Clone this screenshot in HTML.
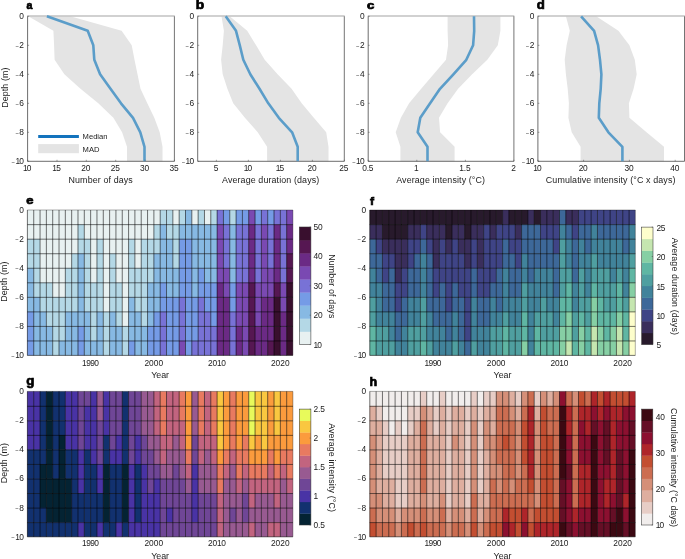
<!DOCTYPE html>
<html lang="en"><head><meta charset="utf-8"><title>Marine heatwave metrics by depth</title>
<style>html,body{margin:0;padding:0;background:#fff;}body{width:685px;height:559px;overflow:hidden;}svg{display:block;}svg text{font-family:'Liberation Sans', sans-serif;fill:#222222;}svg text.pl{fill:#000;stroke:#000;stroke-width:0.7px;}</style></head><body>
<svg width="685" height="559" viewBox="0 0 685 559" role="img" aria-label="Marine heatwave metrics by depth and year">
<rect width="685" height="559" fill="#fff"/>
<g class="panel" id="panel-a">
<polygon fill="#e4e4e4" points="28.2,16.3 53.4,30.8 54.1,45.3 54.6,59.8 64.4,74.3 80.5,88.8 98.3,103.3 113.4,117.8 122.1,132.3 127.0,146.8 127.0,161.3 162.5,161.3 162.5,146.8 159.7,132.3 154.3,117.8 147.3,103.3 140.5,88.8 137.5,74.3 134.5,59.8 131.7,45.3 121.6,30.8 70.2,16.3"/>
<line x1="27.2" y1="16.0" x2="174.8" y2="16.0" stroke="#c2c2c2" stroke-width="1.3"/>
<line x1="174.4" y1="16.3" x2="174.4" y2="161.3" stroke="#505050" stroke-width="0.8"/>
<line x1="27.6" y1="16.3" x2="27.6" y2="161.3" stroke="#484848" stroke-width="0.8"/>
<line x1="27.6" y1="161.3" x2="174.4" y2="161.3" stroke="#484848" stroke-width="0.8"/>
<polyline fill="none" stroke="#5b9dc9" stroke-width="2.6" stroke-linejoin="round" points="46.9,16.3 87.7,30.8 93.3,45.3 94.3,59.8 100.1,74.3 110.5,88.8 121.0,103.3 133.0,117.8 140.3,132.3 144.5,146.8 144.5,161.3"/>
<line x1="27.6" y1="16.3" x2="29.1" y2="16.3" stroke="#484848" stroke-width="0.5"/>
<text x="24.00" y="19.00" font-size="8.4" text-anchor="end" >0</text>
<line x1="27.6" y1="45.3" x2="29.1" y2="45.3" stroke="#484848" stroke-width="0.5"/>
<text x="23.80" y="48.00" font-size="8.4" text-anchor="end" letter-spacing="-0.2"><tspan font-size="5.9" dy="-0.5" letter-spacing="0.5">−</tspan><tspan dy="0.5">2</tspan></text>
<line x1="27.6" y1="74.3" x2="29.1" y2="74.3" stroke="#484848" stroke-width="0.5"/>
<text x="23.80" y="77.00" font-size="8.4" text-anchor="end" letter-spacing="-0.2"><tspan font-size="5.9" dy="-0.5" letter-spacing="0.5">−</tspan><tspan dy="0.5">4</tspan></text>
<line x1="27.6" y1="103.3" x2="29.1" y2="103.3" stroke="#484848" stroke-width="0.5"/>
<text x="23.80" y="106.00" font-size="8.4" text-anchor="end" letter-spacing="-0.2"><tspan font-size="5.9" dy="-0.5" letter-spacing="0.5">−</tspan><tspan dy="0.5">6</tspan></text>
<line x1="27.6" y1="132.3" x2="29.1" y2="132.3" stroke="#484848" stroke-width="0.5"/>
<text x="23.80" y="135.00" font-size="8.4" text-anchor="end" letter-spacing="-0.2"><tspan font-size="5.9" dy="-0.5" letter-spacing="0.5">−</tspan><tspan dy="0.5">8</tspan></text>
<line x1="27.6" y1="161.3" x2="29.1" y2="161.3" stroke="#484848" stroke-width="0.5"/>
<text x="23.20" y="164.00" font-size="8.4" text-anchor="end" letter-spacing="-0.8"><tspan font-size="5.9" dy="-0.5" letter-spacing="0.5">−</tspan><tspan dy="0.5">10</tspan></text>
<line x1="27.6" y1="161.3" x2="27.6" y2="159.8" stroke="#484848" stroke-width="0.5"/>
<text x="26.80" y="170.60" font-size="8.4" text-anchor="middle" letter-spacing="-0.8">10</text>
<line x1="57.0" y1="161.3" x2="57.0" y2="159.8" stroke="#484848" stroke-width="0.5"/>
<text x="56.20" y="170.60" font-size="8.4" text-anchor="middle" letter-spacing="-0.8">15</text>
<line x1="86.3" y1="161.3" x2="86.3" y2="159.8" stroke="#484848" stroke-width="0.5"/>
<text x="85.80" y="170.60" font-size="8.4" text-anchor="middle" letter-spacing="-0.2">20</text>
<line x1="115.7" y1="161.3" x2="115.7" y2="159.8" stroke="#484848" stroke-width="0.5"/>
<text x="115.20" y="170.60" font-size="8.4" text-anchor="middle" letter-spacing="-0.2">25</text>
<line x1="145.0" y1="161.3" x2="145.0" y2="159.8" stroke="#484848" stroke-width="0.5"/>
<text x="144.50" y="170.60" font-size="8.4" text-anchor="middle" letter-spacing="-0.2">30</text>
<line x1="174.4" y1="161.3" x2="174.4" y2="159.8" stroke="#484848" stroke-width="0.5"/>
<text x="173.90" y="170.60" font-size="8.4" text-anchor="middle" letter-spacing="-0.2">35</text>
<text x="100.70" y="182.70" font-size="8.9" text-anchor="middle" font-weight="normal" letter-spacing="0.12">Number of days</text>
<text class="pl" transform="translate(26.60,9.40) scale(1.0,1)" font-size="10.6" font-weight="bold">a</text>
<text transform="translate(7.7,87.6) rotate(-90)" font-size="8.9" text-anchor="middle" letter-spacing="0.1">Depth (m)</text>
<line x1="38.2" y1="136.5" x2="78.9" y2="136.5" stroke="#1373bd" stroke-width="3.0"/>
<text x="82.60" y="139.30" font-size="7.6" text-anchor="start" font-weight="normal" >Median</text>
<rect x="38.2" y="144.1" width="40.7" height="9.1" fill="#e4e4e4"/>
<text x="82.60" y="152.10" font-size="7.6" text-anchor="start" font-weight="normal" >MAD</text>
</g>
<g class="panel" id="panel-b">
<polygon fill="#e4e4e4" points="221.5,16.3 223.9,30.8 222.7,45.3 221.1,59.8 222.7,74.3 227.4,88.8 233.2,103.3 244.9,117.8 257.7,132.3 267.1,146.8 267.1,161.3 328.5,161.3 328.5,146.8 326.2,132.3 313.8,117.8 301.7,103.3 291.6,88.8 277.6,74.3 264.7,59.8 256.1,45.3 247.2,30.8 229.7,16.3"/>
<line x1="197.3" y1="16.0" x2="344.7" y2="16.0" stroke="#c2c2c2" stroke-width="1.3"/>
<line x1="344.3" y1="16.3" x2="344.3" y2="161.3" stroke="#505050" stroke-width="0.8"/>
<line x1="197.7" y1="16.3" x2="197.7" y2="161.3" stroke="#484848" stroke-width="0.8"/>
<line x1="197.7" y1="161.3" x2="344.3" y2="161.3" stroke="#484848" stroke-width="0.8"/>
<polyline fill="none" stroke="#5b9dc9" stroke-width="2.6" stroke-linejoin="round" points="225.7,16.3 236.0,30.8 239.8,45.3 243.3,59.8 250.3,74.3 259.5,88.8 268.3,103.3 278.8,117.8 292.1,132.3 297.7,146.8 297.7,161.3"/>
<line x1="197.7" y1="16.3" x2="199.2" y2="16.3" stroke="#484848" stroke-width="0.5"/>
<text x="194.10" y="19.00" font-size="8.4" text-anchor="end" >0</text>
<line x1="197.7" y1="45.3" x2="199.2" y2="45.3" stroke="#484848" stroke-width="0.5"/>
<text x="193.90" y="48.00" font-size="8.4" text-anchor="end" letter-spacing="-0.2"><tspan font-size="5.9" dy="-0.5" letter-spacing="0.5">−</tspan><tspan dy="0.5">2</tspan></text>
<line x1="197.7" y1="74.3" x2="199.2" y2="74.3" stroke="#484848" stroke-width="0.5"/>
<text x="193.90" y="77.00" font-size="8.4" text-anchor="end" letter-spacing="-0.2"><tspan font-size="5.9" dy="-0.5" letter-spacing="0.5">−</tspan><tspan dy="0.5">4</tspan></text>
<line x1="197.7" y1="103.3" x2="199.2" y2="103.3" stroke="#484848" stroke-width="0.5"/>
<text x="193.90" y="106.00" font-size="8.4" text-anchor="end" letter-spacing="-0.2"><tspan font-size="5.9" dy="-0.5" letter-spacing="0.5">−</tspan><tspan dy="0.5">6</tspan></text>
<line x1="197.7" y1="132.3" x2="199.2" y2="132.3" stroke="#484848" stroke-width="0.5"/>
<text x="193.90" y="135.00" font-size="8.4" text-anchor="end" letter-spacing="-0.2"><tspan font-size="5.9" dy="-0.5" letter-spacing="0.5">−</tspan><tspan dy="0.5">8</tspan></text>
<line x1="197.7" y1="161.3" x2="199.2" y2="161.3" stroke="#484848" stroke-width="0.5"/>
<text x="193.30" y="164.00" font-size="8.4" text-anchor="end" letter-spacing="-0.8"><tspan font-size="5.9" dy="-0.5" letter-spacing="0.5">−</tspan><tspan dy="0.5">10</tspan></text>
<line x1="216.4" y1="161.3" x2="216.4" y2="159.8" stroke="#484848" stroke-width="0.5"/>
<text x="216.00" y="170.60" font-size="8.4" text-anchor="middle" >5</text>
<line x1="248.4" y1="161.3" x2="248.4" y2="159.8" stroke="#484848" stroke-width="0.5"/>
<text x="247.60" y="170.60" font-size="8.4" text-anchor="middle" letter-spacing="-0.8">10</text>
<line x1="280.4" y1="161.3" x2="280.4" y2="159.8" stroke="#484848" stroke-width="0.5"/>
<text x="279.60" y="170.60" font-size="8.4" text-anchor="middle" letter-spacing="-0.8">15</text>
<line x1="312.4" y1="161.3" x2="312.4" y2="159.8" stroke="#484848" stroke-width="0.5"/>
<text x="311.90" y="170.60" font-size="8.4" text-anchor="middle" letter-spacing="-0.2">20</text>
<line x1="344.3" y1="161.3" x2="344.3" y2="159.8" stroke="#484848" stroke-width="0.5"/>
<text x="343.80" y="170.60" font-size="8.4" text-anchor="middle" letter-spacing="-0.2">25</text>
<text x="270.70" y="182.70" font-size="8.9" text-anchor="middle" font-weight="normal" letter-spacing="0.12">Average duration (days)</text>
<text class="pl" transform="translate(195.80,9.40) scale(1.08,1)" font-size="12.8" font-weight="bold">b</text>
</g>
<g class="panel" id="panel-c">
<polygon fill="#e4e4e4" points="447.6,16.3 447.6,30.8 448.1,45.3 446.0,59.8 433.6,74.3 421.2,88.8 409.1,103.3 400.9,117.8 395.7,132.3 400.4,146.8 400.4,161.3 454.6,161.3 454.6,146.8 440.1,132.3 439.0,117.8 447.6,103.3 458.1,88.8 472.1,74.3 487.3,59.8 497.8,45.3 500.4,30.8 500.4,16.3"/>
<line x1="367.8" y1="16.0" x2="514.3" y2="16.0" stroke="#c2c2c2" stroke-width="1.3"/>
<line x1="513.9" y1="16.3" x2="513.9" y2="161.3" stroke="#505050" stroke-width="0.8"/>
<line x1="368.2" y1="16.3" x2="368.2" y2="161.3" stroke="#484848" stroke-width="0.8"/>
<line x1="368.2" y1="161.3" x2="513.9" y2="161.3" stroke="#484848" stroke-width="0.8"/>
<polyline fill="none" stroke="#5b9dc9" stroke-width="2.6" stroke-linejoin="round" points="474.0,16.3 474.2,30.8 473.1,45.3 466.3,59.8 453.4,74.3 440.0,88.8 430.1,103.3 420.3,117.8 417.7,132.3 427.5,146.8 427.5,161.3"/>
<line x1="368.2" y1="16.3" x2="369.7" y2="16.3" stroke="#484848" stroke-width="0.5"/>
<text x="364.60" y="19.00" font-size="8.4" text-anchor="end" >0</text>
<line x1="368.2" y1="45.3" x2="369.7" y2="45.3" stroke="#484848" stroke-width="0.5"/>
<text x="364.40" y="48.00" font-size="8.4" text-anchor="end" letter-spacing="-0.2"><tspan font-size="5.9" dy="-0.5" letter-spacing="0.5">−</tspan><tspan dy="0.5">2</tspan></text>
<line x1="368.2" y1="74.3" x2="369.7" y2="74.3" stroke="#484848" stroke-width="0.5"/>
<text x="364.40" y="77.00" font-size="8.4" text-anchor="end" letter-spacing="-0.2"><tspan font-size="5.9" dy="-0.5" letter-spacing="0.5">−</tspan><tspan dy="0.5">4</tspan></text>
<line x1="368.2" y1="103.3" x2="369.7" y2="103.3" stroke="#484848" stroke-width="0.5"/>
<text x="364.40" y="106.00" font-size="8.4" text-anchor="end" letter-spacing="-0.2"><tspan font-size="5.9" dy="-0.5" letter-spacing="0.5">−</tspan><tspan dy="0.5">6</tspan></text>
<line x1="368.2" y1="132.3" x2="369.7" y2="132.3" stroke="#484848" stroke-width="0.5"/>
<text x="364.40" y="135.00" font-size="8.4" text-anchor="end" letter-spacing="-0.2"><tspan font-size="5.9" dy="-0.5" letter-spacing="0.5">−</tspan><tspan dy="0.5">8</tspan></text>
<line x1="368.2" y1="161.3" x2="369.7" y2="161.3" stroke="#484848" stroke-width="0.5"/>
<text x="363.80" y="164.00" font-size="8.4" text-anchor="end" letter-spacing="-0.8"><tspan font-size="5.9" dy="-0.5" letter-spacing="0.5">−</tspan><tspan dy="0.5">10</tspan></text>
<line x1="368.2" y1="161.3" x2="368.2" y2="159.8" stroke="#484848" stroke-width="0.5"/>
<text x="367.73" y="170.60" font-size="8.4" text-anchor="middle" letter-spacing="-0.15">0.5</text>
<line x1="416.8" y1="161.3" x2="416.8" y2="159.8" stroke="#484848" stroke-width="0.5"/>
<text x="416.00" y="170.60" font-size="8.4" text-anchor="middle" letter-spacing="-0.8">1</text>
<line x1="465.4" y1="161.3" x2="465.4" y2="159.8" stroke="#484848" stroke-width="0.5"/>
<text x="464.93" y="170.60" font-size="8.4" text-anchor="middle" letter-spacing="-0.15">1.5</text>
<line x1="513.9" y1="161.3" x2="513.9" y2="159.8" stroke="#484848" stroke-width="0.5"/>
<text x="513.50" y="170.60" font-size="8.4" text-anchor="middle" >2</text>
<text x="440.70" y="182.70" font-size="8.9" text-anchor="middle" font-weight="normal" letter-spacing="0.12">Average intensity (°C)</text>
<text class="pl" transform="translate(366.95,9.40) scale(1.24,1)" font-size="10.6" font-weight="bold">c</text>
</g>
<g class="panel" id="panel-d">
<polygon fill="#e4e4e4" points="565.9,16.3 569.8,30.8 566.6,45.3 564.7,59.8 565.9,74.3 567.7,88.8 568.9,103.3 568.4,117.8 571.7,132.3 580.6,146.8 580.6,161.3 664.0,161.3 664.0,146.8 646.5,132.3 629.4,117.8 628.9,103.3 633.6,88.8 636.7,74.3 634.8,59.8 629.4,45.3 618.4,30.8 596.2,16.3"/>
<line x1="537.5" y1="16.0" x2="684.9" y2="16.0" stroke="#c2c2c2" stroke-width="1.3"/>
<line x1="684.5" y1="16.3" x2="684.5" y2="161.3" stroke="#505050" stroke-width="0.8"/>
<line x1="537.9" y1="16.3" x2="537.9" y2="161.3" stroke="#484848" stroke-width="0.8"/>
<line x1="537.9" y1="161.3" x2="684.5" y2="161.3" stroke="#484848" stroke-width="0.8"/>
<polyline fill="none" stroke="#5b9dc9" stroke-width="2.6" stroke-linejoin="round" points="581.1,16.3 594.1,30.8 598.1,45.3 600.0,59.8 601.4,74.3 600.7,88.8 599.3,103.3 598.8,117.8 608.4,132.3 622.4,146.8 622.4,161.3"/>
<line x1="537.9" y1="16.3" x2="539.4" y2="16.3" stroke="#484848" stroke-width="0.5"/>
<text x="534.30" y="19.00" font-size="8.4" text-anchor="end" >0</text>
<line x1="537.9" y1="45.3" x2="539.4" y2="45.3" stroke="#484848" stroke-width="0.5"/>
<text x="534.10" y="48.00" font-size="8.4" text-anchor="end" letter-spacing="-0.2"><tspan font-size="5.9" dy="-0.5" letter-spacing="0.5">−</tspan><tspan dy="0.5">2</tspan></text>
<line x1="537.9" y1="74.3" x2="539.4" y2="74.3" stroke="#484848" stroke-width="0.5"/>
<text x="534.10" y="77.00" font-size="8.4" text-anchor="end" letter-spacing="-0.2"><tspan font-size="5.9" dy="-0.5" letter-spacing="0.5">−</tspan><tspan dy="0.5">4</tspan></text>
<line x1="537.9" y1="103.3" x2="539.4" y2="103.3" stroke="#484848" stroke-width="0.5"/>
<text x="534.10" y="106.00" font-size="8.4" text-anchor="end" letter-spacing="-0.2"><tspan font-size="5.9" dy="-0.5" letter-spacing="0.5">−</tspan><tspan dy="0.5">6</tspan></text>
<line x1="537.9" y1="132.3" x2="539.4" y2="132.3" stroke="#484848" stroke-width="0.5"/>
<text x="534.10" y="135.00" font-size="8.4" text-anchor="end" letter-spacing="-0.2"><tspan font-size="5.9" dy="-0.5" letter-spacing="0.5">−</tspan><tspan dy="0.5">8</tspan></text>
<line x1="537.9" y1="161.3" x2="539.4" y2="161.3" stroke="#484848" stroke-width="0.5"/>
<text x="533.50" y="164.00" font-size="8.4" text-anchor="end" letter-spacing="-0.8"><tspan font-size="5.9" dy="-0.5" letter-spacing="0.5">−</tspan><tspan dy="0.5">10</tspan></text>
<line x1="537.9" y1="161.3" x2="537.9" y2="159.8" stroke="#484848" stroke-width="0.5"/>
<text x="537.10" y="170.60" font-size="8.4" text-anchor="middle" letter-spacing="-0.8">10</text>
<line x1="583.6" y1="161.3" x2="583.6" y2="159.8" stroke="#484848" stroke-width="0.5"/>
<text x="583.10" y="170.60" font-size="8.4" text-anchor="middle" letter-spacing="-0.2">20</text>
<line x1="629.4" y1="161.3" x2="629.4" y2="159.8" stroke="#484848" stroke-width="0.5"/>
<text x="628.90" y="170.60" font-size="8.4" text-anchor="middle" letter-spacing="-0.2">30</text>
<line x1="675.2" y1="161.3" x2="675.2" y2="159.8" stroke="#484848" stroke-width="0.5"/>
<text x="674.70" y="170.60" font-size="8.4" text-anchor="middle" letter-spacing="-0.2">40</text>
<text x="610.70" y="182.70" font-size="8.9" text-anchor="middle" font-weight="normal" letter-spacing="0.12">Cumulative intensity (°C x days)</text>
<text class="pl" transform="translate(536.70,9.40) scale(1.03,1)" font-size="12.8" font-weight="bold">d</text>
</g>
<g class="panel" id="panel-e">
<g>
<rect x="27.30" y="210.00" width="6.57" height="14.79" fill="#e8f1f1"/>
<rect x="33.62" y="210.00" width="6.57" height="14.79" fill="#e8f1f1"/>
<rect x="39.95" y="210.00" width="6.57" height="14.79" fill="#e8f1f1"/>
<rect x="46.27" y="210.00" width="6.57" height="14.79" fill="#e8f1f1"/>
<rect x="52.60" y="210.00" width="6.57" height="14.79" fill="#e8f1f1"/>
<rect x="58.92" y="210.00" width="6.57" height="14.79" fill="#e8f1f1"/>
<rect x="65.24" y="210.00" width="6.57" height="14.79" fill="#e8f1f1"/>
<rect x="71.57" y="210.00" width="6.57" height="14.79" fill="#e8f1f1"/>
<rect x="77.89" y="210.00" width="6.57" height="14.79" fill="#e8f1f1"/>
<rect x="84.21" y="210.00" width="6.57" height="14.79" fill="#e8f1f1"/>
<rect x="90.54" y="210.00" width="6.57" height="14.79" fill="#e8f1f1"/>
<rect x="96.86" y="210.00" width="6.57" height="14.79" fill="#e8f1f1"/>
<rect x="103.19" y="210.00" width="6.57" height="14.79" fill="#e8f1f1"/>
<rect x="109.51" y="210.00" width="6.57" height="14.79" fill="#e8f1f1"/>
<rect x="115.83" y="210.00" width="6.57" height="14.79" fill="#e8f1f1"/>
<rect x="122.16" y="210.00" width="6.57" height="14.79" fill="#e8f1f1"/>
<rect x="128.48" y="210.00" width="6.57" height="14.79" fill="#e8f1f1"/>
<rect x="134.80" y="210.00" width="6.57" height="14.79" fill="#e8f1f1"/>
<rect x="141.13" y="210.00" width="6.57" height="14.79" fill="#e8f1f1"/>
<rect x="147.45" y="210.00" width="6.57" height="14.79" fill="#e8f1f1"/>
<rect x="153.78" y="210.00" width="6.57" height="14.79" fill="#e8f1f1"/>
<rect x="160.10" y="210.00" width="6.57" height="14.79" fill="#b4d8e6"/>
<rect x="166.42" y="210.00" width="6.57" height="14.79" fill="#b4d8e6"/>
<rect x="172.75" y="210.00" width="6.57" height="14.79" fill="#e8f1f1"/>
<rect x="179.07" y="210.00" width="6.57" height="14.79" fill="#b4d8e6"/>
<rect x="185.40" y="210.00" width="6.57" height="14.79" fill="#87b9e3"/>
<rect x="191.72" y="210.00" width="6.57" height="14.79" fill="#e8f1f1"/>
<rect x="198.04" y="210.00" width="6.57" height="14.79" fill="#b4d8e6"/>
<rect x="204.37" y="210.00" width="6.57" height="14.79" fill="#e8f1f1"/>
<rect x="210.69" y="210.00" width="6.57" height="14.79" fill="#b4d8e6"/>
<rect x="217.01" y="210.00" width="6.57" height="14.79" fill="#7872d6"/>
<rect x="223.34" y="210.00" width="6.57" height="14.79" fill="#759be6"/>
<rect x="229.66" y="210.00" width="6.57" height="14.79" fill="#b4d8e6"/>
<rect x="235.99" y="210.00" width="6.57" height="14.79" fill="#759be6"/>
<rect x="242.31" y="210.00" width="6.57" height="14.79" fill="#759be6"/>
<rect x="248.63" y="210.00" width="6.57" height="14.79" fill="#7a49b2"/>
<rect x="254.96" y="210.00" width="6.57" height="14.79" fill="#759be6"/>
<rect x="261.28" y="210.00" width="6.57" height="14.79" fill="#7872d6"/>
<rect x="267.60" y="210.00" width="6.57" height="14.79" fill="#759be6"/>
<rect x="273.93" y="210.00" width="6.57" height="14.79" fill="#7872d6"/>
<rect x="280.25" y="210.00" width="6.57" height="14.79" fill="#7872d6"/>
<rect x="286.58" y="210.00" width="6.32" height="14.79" fill="#7a49b2"/>
<rect x="27.30" y="224.54" width="6.57" height="14.79" fill="#e8f1f1"/>
<rect x="33.62" y="224.54" width="6.57" height="14.79" fill="#e8f1f1"/>
<rect x="39.95" y="224.54" width="6.57" height="14.79" fill="#e8f1f1"/>
<rect x="46.27" y="224.54" width="6.57" height="14.79" fill="#e8f1f1"/>
<rect x="52.60" y="224.54" width="6.57" height="14.79" fill="#e8f1f1"/>
<rect x="58.92" y="224.54" width="6.57" height="14.79" fill="#e8f1f1"/>
<rect x="65.24" y="224.54" width="6.57" height="14.79" fill="#e8f1f1"/>
<rect x="71.57" y="224.54" width="6.57" height="14.79" fill="#e8f1f1"/>
<rect x="77.89" y="224.54" width="6.57" height="14.79" fill="#b4d8e6"/>
<rect x="84.21" y="224.54" width="6.57" height="14.79" fill="#e8f1f1"/>
<rect x="90.54" y="224.54" width="6.57" height="14.79" fill="#e8f1f1"/>
<rect x="96.86" y="224.54" width="6.57" height="14.79" fill="#e8f1f1"/>
<rect x="103.19" y="224.54" width="6.57" height="14.79" fill="#e8f1f1"/>
<rect x="109.51" y="224.54" width="6.57" height="14.79" fill="#e8f1f1"/>
<rect x="115.83" y="224.54" width="6.57" height="14.79" fill="#e8f1f1"/>
<rect x="122.16" y="224.54" width="6.57" height="14.79" fill="#e8f1f1"/>
<rect x="128.48" y="224.54" width="6.57" height="14.79" fill="#e8f1f1"/>
<rect x="134.80" y="224.54" width="6.57" height="14.79" fill="#e8f1f1"/>
<rect x="141.13" y="224.54" width="6.57" height="14.79" fill="#e8f1f1"/>
<rect x="147.45" y="224.54" width="6.57" height="14.79" fill="#e8f1f1"/>
<rect x="153.78" y="224.54" width="6.57" height="14.79" fill="#b4d8e6"/>
<rect x="160.10" y="224.54" width="6.57" height="14.79" fill="#87b9e3"/>
<rect x="166.42" y="224.54" width="6.57" height="14.79" fill="#b4d8e6"/>
<rect x="172.75" y="224.54" width="6.57" height="14.79" fill="#b4d8e6"/>
<rect x="179.07" y="224.54" width="6.57" height="14.79" fill="#87b9e3"/>
<rect x="185.40" y="224.54" width="6.57" height="14.79" fill="#87b9e3"/>
<rect x="191.72" y="224.54" width="6.57" height="14.79" fill="#87b9e3"/>
<rect x="198.04" y="224.54" width="6.57" height="14.79" fill="#87b9e3"/>
<rect x="204.37" y="224.54" width="6.57" height="14.79" fill="#87b9e3"/>
<rect x="210.69" y="224.54" width="6.57" height="14.79" fill="#87b9e3"/>
<rect x="217.01" y="224.54" width="6.57" height="14.79" fill="#7a49b2"/>
<rect x="223.34" y="224.54" width="6.57" height="14.79" fill="#7872d6"/>
<rect x="229.66" y="224.54" width="6.57" height="14.79" fill="#87b9e3"/>
<rect x="235.99" y="224.54" width="6.57" height="14.79" fill="#7872d6"/>
<rect x="242.31" y="224.54" width="6.57" height="14.79" fill="#7872d6"/>
<rect x="248.63" y="224.54" width="6.57" height="14.79" fill="#6b2a85"/>
<rect x="254.96" y="224.54" width="6.57" height="14.79" fill="#7872d6"/>
<rect x="261.28" y="224.54" width="6.57" height="14.79" fill="#7a49b2"/>
<rect x="267.60" y="224.54" width="6.57" height="14.79" fill="#7872d6"/>
<rect x="273.93" y="224.54" width="6.57" height="14.79" fill="#6b2a85"/>
<rect x="280.25" y="224.54" width="6.57" height="14.79" fill="#7872d6"/>
<rect x="286.58" y="224.54" width="6.32" height="14.79" fill="#6b2a85"/>
<rect x="27.30" y="239.08" width="6.57" height="14.79" fill="#b4d8e6"/>
<rect x="33.62" y="239.08" width="6.57" height="14.79" fill="#b4d8e6"/>
<rect x="39.95" y="239.08" width="6.57" height="14.79" fill="#e8f1f1"/>
<rect x="46.27" y="239.08" width="6.57" height="14.79" fill="#e8f1f1"/>
<rect x="52.60" y="239.08" width="6.57" height="14.79" fill="#e8f1f1"/>
<rect x="58.92" y="239.08" width="6.57" height="14.79" fill="#e8f1f1"/>
<rect x="65.24" y="239.08" width="6.57" height="14.79" fill="#e8f1f1"/>
<rect x="71.57" y="239.08" width="6.57" height="14.79" fill="#e8f1f1"/>
<rect x="77.89" y="239.08" width="6.57" height="14.79" fill="#b4d8e6"/>
<rect x="84.21" y="239.08" width="6.57" height="14.79" fill="#b4d8e6"/>
<rect x="90.54" y="239.08" width="6.57" height="14.79" fill="#e8f1f1"/>
<rect x="96.86" y="239.08" width="6.57" height="14.79" fill="#b4d8e6"/>
<rect x="103.19" y="239.08" width="6.57" height="14.79" fill="#e8f1f1"/>
<rect x="109.51" y="239.08" width="6.57" height="14.79" fill="#e8f1f1"/>
<rect x="115.83" y="239.08" width="6.57" height="14.79" fill="#e8f1f1"/>
<rect x="122.16" y="239.08" width="6.57" height="14.79" fill="#e8f1f1"/>
<rect x="128.48" y="239.08" width="6.57" height="14.79" fill="#b4d8e6"/>
<rect x="134.80" y="239.08" width="6.57" height="14.79" fill="#e8f1f1"/>
<rect x="141.13" y="239.08" width="6.57" height="14.79" fill="#b4d8e6"/>
<rect x="147.45" y="239.08" width="6.57" height="14.79" fill="#b4d8e6"/>
<rect x="153.78" y="239.08" width="6.57" height="14.79" fill="#b4d8e6"/>
<rect x="160.10" y="239.08" width="6.57" height="14.79" fill="#87b9e3"/>
<rect x="166.42" y="239.08" width="6.57" height="14.79" fill="#87b9e3"/>
<rect x="172.75" y="239.08" width="6.57" height="14.79" fill="#b4d8e6"/>
<rect x="179.07" y="239.08" width="6.57" height="14.79" fill="#759be6"/>
<rect x="185.40" y="239.08" width="6.57" height="14.79" fill="#759be6"/>
<rect x="191.72" y="239.08" width="6.57" height="14.79" fill="#87b9e3"/>
<rect x="198.04" y="239.08" width="6.57" height="14.79" fill="#87b9e3"/>
<rect x="204.37" y="239.08" width="6.57" height="14.79" fill="#87b9e3"/>
<rect x="210.69" y="239.08" width="6.57" height="14.79" fill="#87b9e3"/>
<rect x="217.01" y="239.08" width="6.57" height="14.79" fill="#7a49b2"/>
<rect x="223.34" y="239.08" width="6.57" height="14.79" fill="#7872d6"/>
<rect x="229.66" y="239.08" width="6.57" height="14.79" fill="#87b9e3"/>
<rect x="235.99" y="239.08" width="6.57" height="14.79" fill="#7872d6"/>
<rect x="242.31" y="239.08" width="6.57" height="14.79" fill="#7872d6"/>
<rect x="248.63" y="239.08" width="6.57" height="14.79" fill="#6b2a85"/>
<rect x="254.96" y="239.08" width="6.57" height="14.79" fill="#7872d6"/>
<rect x="261.28" y="239.08" width="6.57" height="14.79" fill="#7a49b2"/>
<rect x="267.60" y="239.08" width="6.57" height="14.79" fill="#7872d6"/>
<rect x="273.93" y="239.08" width="6.57" height="14.79" fill="#6b2a85"/>
<rect x="280.25" y="239.08" width="6.57" height="14.79" fill="#7872d6"/>
<rect x="286.58" y="239.08" width="6.32" height="14.79" fill="#6b2a85"/>
<rect x="27.30" y="253.62" width="6.57" height="14.79" fill="#b4d8e6"/>
<rect x="33.62" y="253.62" width="6.57" height="14.79" fill="#b4d8e6"/>
<rect x="39.95" y="253.62" width="6.57" height="14.79" fill="#e8f1f1"/>
<rect x="46.27" y="253.62" width="6.57" height="14.79" fill="#e8f1f1"/>
<rect x="52.60" y="253.62" width="6.57" height="14.79" fill="#e8f1f1"/>
<rect x="58.92" y="253.62" width="6.57" height="14.79" fill="#e8f1f1"/>
<rect x="65.24" y="253.62" width="6.57" height="14.79" fill="#e8f1f1"/>
<rect x="71.57" y="253.62" width="6.57" height="14.79" fill="#b4d8e6"/>
<rect x="77.89" y="253.62" width="6.57" height="14.79" fill="#87b9e3"/>
<rect x="84.21" y="253.62" width="6.57" height="14.79" fill="#b4d8e6"/>
<rect x="90.54" y="253.62" width="6.57" height="14.79" fill="#e8f1f1"/>
<rect x="96.86" y="253.62" width="6.57" height="14.79" fill="#b4d8e6"/>
<rect x="103.19" y="253.62" width="6.57" height="14.79" fill="#e8f1f1"/>
<rect x="109.51" y="253.62" width="6.57" height="14.79" fill="#b4d8e6"/>
<rect x="115.83" y="253.62" width="6.57" height="14.79" fill="#e8f1f1"/>
<rect x="122.16" y="253.62" width="6.57" height="14.79" fill="#e8f1f1"/>
<rect x="128.48" y="253.62" width="6.57" height="14.79" fill="#b4d8e6"/>
<rect x="134.80" y="253.62" width="6.57" height="14.79" fill="#e8f1f1"/>
<rect x="141.13" y="253.62" width="6.57" height="14.79" fill="#b4d8e6"/>
<rect x="147.45" y="253.62" width="6.57" height="14.79" fill="#b4d8e6"/>
<rect x="153.78" y="253.62" width="6.57" height="14.79" fill="#87b9e3"/>
<rect x="160.10" y="253.62" width="6.57" height="14.79" fill="#87b9e3"/>
<rect x="166.42" y="253.62" width="6.57" height="14.79" fill="#87b9e3"/>
<rect x="172.75" y="253.62" width="6.57" height="14.79" fill="#b4d8e6"/>
<rect x="179.07" y="253.62" width="6.57" height="14.79" fill="#759be6"/>
<rect x="185.40" y="253.62" width="6.57" height="14.79" fill="#759be6"/>
<rect x="191.72" y="253.62" width="6.57" height="14.79" fill="#87b9e3"/>
<rect x="198.04" y="253.62" width="6.57" height="14.79" fill="#87b9e3"/>
<rect x="204.37" y="253.62" width="6.57" height="14.79" fill="#87b9e3"/>
<rect x="210.69" y="253.62" width="6.57" height="14.79" fill="#87b9e3"/>
<rect x="217.01" y="253.62" width="6.57" height="14.79" fill="#7a49b2"/>
<rect x="223.34" y="253.62" width="6.57" height="14.79" fill="#7872d6"/>
<rect x="229.66" y="253.62" width="6.57" height="14.79" fill="#87b9e3"/>
<rect x="235.99" y="253.62" width="6.57" height="14.79" fill="#7872d6"/>
<rect x="242.31" y="253.62" width="6.57" height="14.79" fill="#7872d6"/>
<rect x="248.63" y="253.62" width="6.57" height="14.79" fill="#6b2a85"/>
<rect x="254.96" y="253.62" width="6.57" height="14.79" fill="#7872d6"/>
<rect x="261.28" y="253.62" width="6.57" height="14.79" fill="#7a49b2"/>
<rect x="267.60" y="253.62" width="6.57" height="14.79" fill="#7872d6"/>
<rect x="273.93" y="253.62" width="6.57" height="14.79" fill="#6b2a85"/>
<rect x="280.25" y="253.62" width="6.57" height="14.79" fill="#7872d6"/>
<rect x="286.58" y="253.62" width="6.32" height="14.79" fill="#561752"/>
<rect x="27.30" y="268.16" width="6.57" height="14.79" fill="#87b9e3"/>
<rect x="33.62" y="268.16" width="6.57" height="14.79" fill="#b4d8e6"/>
<rect x="39.95" y="268.16" width="6.57" height="14.79" fill="#e8f1f1"/>
<rect x="46.27" y="268.16" width="6.57" height="14.79" fill="#e8f1f1"/>
<rect x="52.60" y="268.16" width="6.57" height="14.79" fill="#e8f1f1"/>
<rect x="58.92" y="268.16" width="6.57" height="14.79" fill="#e8f1f1"/>
<rect x="65.24" y="268.16" width="6.57" height="14.79" fill="#b4d8e6"/>
<rect x="71.57" y="268.16" width="6.57" height="14.79" fill="#b4d8e6"/>
<rect x="77.89" y="268.16" width="6.57" height="14.79" fill="#87b9e3"/>
<rect x="84.21" y="268.16" width="6.57" height="14.79" fill="#b4d8e6"/>
<rect x="90.54" y="268.16" width="6.57" height="14.79" fill="#e8f1f1"/>
<rect x="96.86" y="268.16" width="6.57" height="14.79" fill="#b4d8e6"/>
<rect x="103.19" y="268.16" width="6.57" height="14.79" fill="#e8f1f1"/>
<rect x="109.51" y="268.16" width="6.57" height="14.79" fill="#b4d8e6"/>
<rect x="115.83" y="268.16" width="6.57" height="14.79" fill="#e8f1f1"/>
<rect x="122.16" y="268.16" width="6.57" height="14.79" fill="#e8f1f1"/>
<rect x="128.48" y="268.16" width="6.57" height="14.79" fill="#b4d8e6"/>
<rect x="134.80" y="268.16" width="6.57" height="14.79" fill="#b4d8e6"/>
<rect x="141.13" y="268.16" width="6.57" height="14.79" fill="#b4d8e6"/>
<rect x="147.45" y="268.16" width="6.57" height="14.79" fill="#b4d8e6"/>
<rect x="153.78" y="268.16" width="6.57" height="14.79" fill="#87b9e3"/>
<rect x="160.10" y="268.16" width="6.57" height="14.79" fill="#87b9e3"/>
<rect x="166.42" y="268.16" width="6.57" height="14.79" fill="#87b9e3"/>
<rect x="172.75" y="268.16" width="6.57" height="14.79" fill="#87b9e3"/>
<rect x="179.07" y="268.16" width="6.57" height="14.79" fill="#759be6"/>
<rect x="185.40" y="268.16" width="6.57" height="14.79" fill="#759be6"/>
<rect x="191.72" y="268.16" width="6.57" height="14.79" fill="#87b9e3"/>
<rect x="198.04" y="268.16" width="6.57" height="14.79" fill="#759be6"/>
<rect x="204.37" y="268.16" width="6.57" height="14.79" fill="#87b9e3"/>
<rect x="210.69" y="268.16" width="6.57" height="14.79" fill="#87b9e3"/>
<rect x="217.01" y="268.16" width="6.57" height="14.79" fill="#7a49b2"/>
<rect x="223.34" y="268.16" width="6.57" height="14.79" fill="#7a49b2"/>
<rect x="229.66" y="268.16" width="6.57" height="14.79" fill="#87b9e3"/>
<rect x="235.99" y="268.16" width="6.57" height="14.79" fill="#7872d6"/>
<rect x="242.31" y="268.16" width="6.57" height="14.79" fill="#7872d6"/>
<rect x="248.63" y="268.16" width="6.57" height="14.79" fill="#6b2a85"/>
<rect x="254.96" y="268.16" width="6.57" height="14.79" fill="#7872d6"/>
<rect x="261.28" y="268.16" width="6.57" height="14.79" fill="#7a49b2"/>
<rect x="267.60" y="268.16" width="6.57" height="14.79" fill="#7a49b2"/>
<rect x="273.93" y="268.16" width="6.57" height="14.79" fill="#6b2a85"/>
<rect x="280.25" y="268.16" width="6.57" height="14.79" fill="#7872d6"/>
<rect x="286.58" y="268.16" width="6.32" height="14.79" fill="#561752"/>
<rect x="27.30" y="282.70" width="6.57" height="14.79" fill="#87b9e3"/>
<rect x="33.62" y="282.70" width="6.57" height="14.79" fill="#b4d8e6"/>
<rect x="39.95" y="282.70" width="6.57" height="14.79" fill="#b4d8e6"/>
<rect x="46.27" y="282.70" width="6.57" height="14.79" fill="#b4d8e6"/>
<rect x="52.60" y="282.70" width="6.57" height="14.79" fill="#e8f1f1"/>
<rect x="58.92" y="282.70" width="6.57" height="14.79" fill="#e8f1f1"/>
<rect x="65.24" y="282.70" width="6.57" height="14.79" fill="#b4d8e6"/>
<rect x="71.57" y="282.70" width="6.57" height="14.79" fill="#b4d8e6"/>
<rect x="77.89" y="282.70" width="6.57" height="14.79" fill="#87b9e3"/>
<rect x="84.21" y="282.70" width="6.57" height="14.79" fill="#b4d8e6"/>
<rect x="90.54" y="282.70" width="6.57" height="14.79" fill="#b4d8e6"/>
<rect x="96.86" y="282.70" width="6.57" height="14.79" fill="#b4d8e6"/>
<rect x="103.19" y="282.70" width="6.57" height="14.79" fill="#e8f1f1"/>
<rect x="109.51" y="282.70" width="6.57" height="14.79" fill="#b4d8e6"/>
<rect x="115.83" y="282.70" width="6.57" height="14.79" fill="#b4d8e6"/>
<rect x="122.16" y="282.70" width="6.57" height="14.79" fill="#e8f1f1"/>
<rect x="128.48" y="282.70" width="6.57" height="14.79" fill="#b4d8e6"/>
<rect x="134.80" y="282.70" width="6.57" height="14.79" fill="#b4d8e6"/>
<rect x="141.13" y="282.70" width="6.57" height="14.79" fill="#b4d8e6"/>
<rect x="147.45" y="282.70" width="6.57" height="14.79" fill="#87b9e3"/>
<rect x="153.78" y="282.70" width="6.57" height="14.79" fill="#87b9e3"/>
<rect x="160.10" y="282.70" width="6.57" height="14.79" fill="#759be6"/>
<rect x="166.42" y="282.70" width="6.57" height="14.79" fill="#87b9e3"/>
<rect x="172.75" y="282.70" width="6.57" height="14.79" fill="#87b9e3"/>
<rect x="179.07" y="282.70" width="6.57" height="14.79" fill="#759be6"/>
<rect x="185.40" y="282.70" width="6.57" height="14.79" fill="#759be6"/>
<rect x="191.72" y="282.70" width="6.57" height="14.79" fill="#87b9e3"/>
<rect x="198.04" y="282.70" width="6.57" height="14.79" fill="#759be6"/>
<rect x="204.37" y="282.70" width="6.57" height="14.79" fill="#759be6"/>
<rect x="210.69" y="282.70" width="6.57" height="14.79" fill="#759be6"/>
<rect x="217.01" y="282.70" width="6.57" height="14.79" fill="#6b2a85"/>
<rect x="223.34" y="282.70" width="6.57" height="14.79" fill="#7a49b2"/>
<rect x="229.66" y="282.70" width="6.57" height="14.79" fill="#759be6"/>
<rect x="235.99" y="282.70" width="6.57" height="14.79" fill="#7a49b2"/>
<rect x="242.31" y="282.70" width="6.57" height="14.79" fill="#7a49b2"/>
<rect x="248.63" y="282.70" width="6.57" height="14.79" fill="#561752"/>
<rect x="254.96" y="282.70" width="6.57" height="14.79" fill="#7a49b2"/>
<rect x="261.28" y="282.70" width="6.57" height="14.79" fill="#7a49b2"/>
<rect x="267.60" y="282.70" width="6.57" height="14.79" fill="#7a49b2"/>
<rect x="273.93" y="282.70" width="6.57" height="14.79" fill="#561752"/>
<rect x="280.25" y="282.70" width="6.57" height="14.79" fill="#7a49b2"/>
<rect x="286.58" y="282.70" width="6.32" height="14.79" fill="#390f2e"/>
<rect x="27.30" y="297.24" width="6.57" height="14.79" fill="#87b9e3"/>
<rect x="33.62" y="297.24" width="6.57" height="14.79" fill="#87b9e3"/>
<rect x="39.95" y="297.24" width="6.57" height="14.79" fill="#b4d8e6"/>
<rect x="46.27" y="297.24" width="6.57" height="14.79" fill="#b4d8e6"/>
<rect x="52.60" y="297.24" width="6.57" height="14.79" fill="#b4d8e6"/>
<rect x="58.92" y="297.24" width="6.57" height="14.79" fill="#b4d8e6"/>
<rect x="65.24" y="297.24" width="6.57" height="14.79" fill="#b4d8e6"/>
<rect x="71.57" y="297.24" width="6.57" height="14.79" fill="#b4d8e6"/>
<rect x="77.89" y="297.24" width="6.57" height="14.79" fill="#87b9e3"/>
<rect x="84.21" y="297.24" width="6.57" height="14.79" fill="#b4d8e6"/>
<rect x="90.54" y="297.24" width="6.57" height="14.79" fill="#b4d8e6"/>
<rect x="96.86" y="297.24" width="6.57" height="14.79" fill="#b4d8e6"/>
<rect x="103.19" y="297.24" width="6.57" height="14.79" fill="#e8f1f1"/>
<rect x="109.51" y="297.24" width="6.57" height="14.79" fill="#b4d8e6"/>
<rect x="115.83" y="297.24" width="6.57" height="14.79" fill="#b4d8e6"/>
<rect x="122.16" y="297.24" width="6.57" height="14.79" fill="#e8f1f1"/>
<rect x="128.48" y="297.24" width="6.57" height="14.79" fill="#87b9e3"/>
<rect x="134.80" y="297.24" width="6.57" height="14.79" fill="#b4d8e6"/>
<rect x="141.13" y="297.24" width="6.57" height="14.79" fill="#b4d8e6"/>
<rect x="147.45" y="297.24" width="6.57" height="14.79" fill="#87b9e3"/>
<rect x="153.78" y="297.24" width="6.57" height="14.79" fill="#87b9e3"/>
<rect x="160.10" y="297.24" width="6.57" height="14.79" fill="#759be6"/>
<rect x="166.42" y="297.24" width="6.57" height="14.79" fill="#759be6"/>
<rect x="172.75" y="297.24" width="6.57" height="14.79" fill="#759be6"/>
<rect x="179.07" y="297.24" width="6.57" height="14.79" fill="#7872d6"/>
<rect x="185.40" y="297.24" width="6.57" height="14.79" fill="#759be6"/>
<rect x="191.72" y="297.24" width="6.57" height="14.79" fill="#759be6"/>
<rect x="198.04" y="297.24" width="6.57" height="14.79" fill="#7872d6"/>
<rect x="204.37" y="297.24" width="6.57" height="14.79" fill="#759be6"/>
<rect x="210.69" y="297.24" width="6.57" height="14.79" fill="#759be6"/>
<rect x="217.01" y="297.24" width="6.57" height="14.79" fill="#6b2a85"/>
<rect x="223.34" y="297.24" width="6.57" height="14.79" fill="#6b2a85"/>
<rect x="229.66" y="297.24" width="6.57" height="14.79" fill="#759be6"/>
<rect x="235.99" y="297.24" width="6.57" height="14.79" fill="#7a49b2"/>
<rect x="242.31" y="297.24" width="6.57" height="14.79" fill="#7a49b2"/>
<rect x="248.63" y="297.24" width="6.57" height="14.79" fill="#561752"/>
<rect x="254.96" y="297.24" width="6.57" height="14.79" fill="#7a49b2"/>
<rect x="261.28" y="297.24" width="6.57" height="14.79" fill="#6b2a85"/>
<rect x="267.60" y="297.24" width="6.57" height="14.79" fill="#6b2a85"/>
<rect x="273.93" y="297.24" width="6.57" height="14.79" fill="#390f2e"/>
<rect x="280.25" y="297.24" width="6.57" height="14.79" fill="#7a49b2"/>
<rect x="286.58" y="297.24" width="6.32" height="14.79" fill="#390f2e"/>
<rect x="27.30" y="311.78" width="6.57" height="14.79" fill="#759be6"/>
<rect x="33.62" y="311.78" width="6.57" height="14.79" fill="#87b9e3"/>
<rect x="39.95" y="311.78" width="6.57" height="14.79" fill="#87b9e3"/>
<rect x="46.27" y="311.78" width="6.57" height="14.79" fill="#b4d8e6"/>
<rect x="52.60" y="311.78" width="6.57" height="14.79" fill="#b4d8e6"/>
<rect x="58.92" y="311.78" width="6.57" height="14.79" fill="#b4d8e6"/>
<rect x="65.24" y="311.78" width="6.57" height="14.79" fill="#87b9e3"/>
<rect x="71.57" y="311.78" width="6.57" height="14.79" fill="#87b9e3"/>
<rect x="77.89" y="311.78" width="6.57" height="14.79" fill="#87b9e3"/>
<rect x="84.21" y="311.78" width="6.57" height="14.79" fill="#87b9e3"/>
<rect x="90.54" y="311.78" width="6.57" height="14.79" fill="#b4d8e6"/>
<rect x="96.86" y="311.78" width="6.57" height="14.79" fill="#87b9e3"/>
<rect x="103.19" y="311.78" width="6.57" height="14.79" fill="#b4d8e6"/>
<rect x="109.51" y="311.78" width="6.57" height="14.79" fill="#87b9e3"/>
<rect x="115.83" y="311.78" width="6.57" height="14.79" fill="#b4d8e6"/>
<rect x="122.16" y="311.78" width="6.57" height="14.79" fill="#e8f1f1"/>
<rect x="128.48" y="311.78" width="6.57" height="14.79" fill="#87b9e3"/>
<rect x="134.80" y="311.78" width="6.57" height="14.79" fill="#87b9e3"/>
<rect x="141.13" y="311.78" width="6.57" height="14.79" fill="#b4d8e6"/>
<rect x="147.45" y="311.78" width="6.57" height="14.79" fill="#87b9e3"/>
<rect x="153.78" y="311.78" width="6.57" height="14.79" fill="#759be6"/>
<rect x="160.10" y="311.78" width="6.57" height="14.79" fill="#7872d6"/>
<rect x="166.42" y="311.78" width="6.57" height="14.79" fill="#759be6"/>
<rect x="172.75" y="311.78" width="6.57" height="14.79" fill="#759be6"/>
<rect x="179.07" y="311.78" width="6.57" height="14.79" fill="#7872d6"/>
<rect x="185.40" y="311.78" width="6.57" height="14.79" fill="#759be6"/>
<rect x="191.72" y="311.78" width="6.57" height="14.79" fill="#759be6"/>
<rect x="198.04" y="311.78" width="6.57" height="14.79" fill="#7872d6"/>
<rect x="204.37" y="311.78" width="6.57" height="14.79" fill="#7872d6"/>
<rect x="210.69" y="311.78" width="6.57" height="14.79" fill="#759be6"/>
<rect x="217.01" y="311.78" width="6.57" height="14.79" fill="#6b2a85"/>
<rect x="223.34" y="311.78" width="6.57" height="14.79" fill="#6b2a85"/>
<rect x="229.66" y="311.78" width="6.57" height="14.79" fill="#7872d6"/>
<rect x="235.99" y="311.78" width="6.57" height="14.79" fill="#7a49b2"/>
<rect x="242.31" y="311.78" width="6.57" height="14.79" fill="#7a49b2"/>
<rect x="248.63" y="311.78" width="6.57" height="14.79" fill="#561752"/>
<rect x="254.96" y="311.78" width="6.57" height="14.79" fill="#7a49b2"/>
<rect x="261.28" y="311.78" width="6.57" height="14.79" fill="#6b2a85"/>
<rect x="267.60" y="311.78" width="6.57" height="14.79" fill="#6b2a85"/>
<rect x="273.93" y="311.78" width="6.57" height="14.79" fill="#390f2e"/>
<rect x="280.25" y="311.78" width="6.57" height="14.79" fill="#6b2a85"/>
<rect x="286.58" y="311.78" width="6.32" height="14.79" fill="#390f2e"/>
<rect x="27.30" y="326.32" width="6.57" height="14.79" fill="#759be6"/>
<rect x="33.62" y="326.32" width="6.57" height="14.79" fill="#87b9e3"/>
<rect x="39.95" y="326.32" width="6.57" height="14.79" fill="#87b9e3"/>
<rect x="46.27" y="326.32" width="6.57" height="14.79" fill="#87b9e3"/>
<rect x="52.60" y="326.32" width="6.57" height="14.79" fill="#b4d8e6"/>
<rect x="58.92" y="326.32" width="6.57" height="14.79" fill="#b4d8e6"/>
<rect x="65.24" y="326.32" width="6.57" height="14.79" fill="#87b9e3"/>
<rect x="71.57" y="326.32" width="6.57" height="14.79" fill="#87b9e3"/>
<rect x="77.89" y="326.32" width="6.57" height="14.79" fill="#759be6"/>
<rect x="84.21" y="326.32" width="6.57" height="14.79" fill="#87b9e3"/>
<rect x="90.54" y="326.32" width="6.57" height="14.79" fill="#b4d8e6"/>
<rect x="96.86" y="326.32" width="6.57" height="14.79" fill="#87b9e3"/>
<rect x="103.19" y="326.32" width="6.57" height="14.79" fill="#b4d8e6"/>
<rect x="109.51" y="326.32" width="6.57" height="14.79" fill="#87b9e3"/>
<rect x="115.83" y="326.32" width="6.57" height="14.79" fill="#87b9e3"/>
<rect x="122.16" y="326.32" width="6.57" height="14.79" fill="#b4d8e6"/>
<rect x="128.48" y="326.32" width="6.57" height="14.79" fill="#87b9e3"/>
<rect x="134.80" y="326.32" width="6.57" height="14.79" fill="#87b9e3"/>
<rect x="141.13" y="326.32" width="6.57" height="14.79" fill="#87b9e3"/>
<rect x="147.45" y="326.32" width="6.57" height="14.79" fill="#759be6"/>
<rect x="153.78" y="326.32" width="6.57" height="14.79" fill="#759be6"/>
<rect x="160.10" y="326.32" width="6.57" height="14.79" fill="#7872d6"/>
<rect x="166.42" y="326.32" width="6.57" height="14.79" fill="#759be6"/>
<rect x="172.75" y="326.32" width="6.57" height="14.79" fill="#759be6"/>
<rect x="179.07" y="326.32" width="6.57" height="14.79" fill="#7872d6"/>
<rect x="185.40" y="326.32" width="6.57" height="14.79" fill="#759be6"/>
<rect x="191.72" y="326.32" width="6.57" height="14.79" fill="#759be6"/>
<rect x="198.04" y="326.32" width="6.57" height="14.79" fill="#7872d6"/>
<rect x="204.37" y="326.32" width="6.57" height="14.79" fill="#7872d6"/>
<rect x="210.69" y="326.32" width="6.57" height="14.79" fill="#7872d6"/>
<rect x="217.01" y="326.32" width="6.57" height="14.79" fill="#6b2a85"/>
<rect x="223.34" y="326.32" width="6.57" height="14.79" fill="#6b2a85"/>
<rect x="229.66" y="326.32" width="6.57" height="14.79" fill="#7872d6"/>
<rect x="235.99" y="326.32" width="6.57" height="14.79" fill="#6b2a85"/>
<rect x="242.31" y="326.32" width="6.57" height="14.79" fill="#7a49b2"/>
<rect x="248.63" y="326.32" width="6.57" height="14.79" fill="#561752"/>
<rect x="254.96" y="326.32" width="6.57" height="14.79" fill="#6b2a85"/>
<rect x="261.28" y="326.32" width="6.57" height="14.79" fill="#6b2a85"/>
<rect x="267.60" y="326.32" width="6.57" height="14.79" fill="#6b2a85"/>
<rect x="273.93" y="326.32" width="6.57" height="14.79" fill="#390f2e"/>
<rect x="280.25" y="326.32" width="6.57" height="14.79" fill="#6b2a85"/>
<rect x="286.58" y="326.32" width="6.32" height="14.79" fill="#390f2e"/>
<rect x="27.30" y="340.86" width="6.57" height="14.54" fill="#759be6"/>
<rect x="33.62" y="340.86" width="6.57" height="14.54" fill="#87b9e3"/>
<rect x="39.95" y="340.86" width="6.57" height="14.54" fill="#87b9e3"/>
<rect x="46.27" y="340.86" width="6.57" height="14.54" fill="#87b9e3"/>
<rect x="52.60" y="340.86" width="6.57" height="14.54" fill="#b4d8e6"/>
<rect x="58.92" y="340.86" width="6.57" height="14.54" fill="#87b9e3"/>
<rect x="65.24" y="340.86" width="6.57" height="14.54" fill="#87b9e3"/>
<rect x="71.57" y="340.86" width="6.57" height="14.54" fill="#87b9e3"/>
<rect x="77.89" y="340.86" width="6.57" height="14.54" fill="#759be6"/>
<rect x="84.21" y="340.86" width="6.57" height="14.54" fill="#87b9e3"/>
<rect x="90.54" y="340.86" width="6.57" height="14.54" fill="#87b9e3"/>
<rect x="96.86" y="340.86" width="6.57" height="14.54" fill="#87b9e3"/>
<rect x="103.19" y="340.86" width="6.57" height="14.54" fill="#b4d8e6"/>
<rect x="109.51" y="340.86" width="6.57" height="14.54" fill="#87b9e3"/>
<rect x="115.83" y="340.86" width="6.57" height="14.54" fill="#87b9e3"/>
<rect x="122.16" y="340.86" width="6.57" height="14.54" fill="#b4d8e6"/>
<rect x="128.48" y="340.86" width="6.57" height="14.54" fill="#759be6"/>
<rect x="134.80" y="340.86" width="6.57" height="14.54" fill="#87b9e3"/>
<rect x="141.13" y="340.86" width="6.57" height="14.54" fill="#87b9e3"/>
<rect x="147.45" y="340.86" width="6.57" height="14.54" fill="#759be6"/>
<rect x="153.78" y="340.86" width="6.57" height="14.54" fill="#759be6"/>
<rect x="160.10" y="340.86" width="6.57" height="14.54" fill="#7872d6"/>
<rect x="166.42" y="340.86" width="6.57" height="14.54" fill="#759be6"/>
<rect x="172.75" y="340.86" width="6.57" height="14.54" fill="#759be6"/>
<rect x="179.07" y="340.86" width="6.57" height="14.54" fill="#7a49b2"/>
<rect x="185.40" y="340.86" width="6.57" height="14.54" fill="#759be6"/>
<rect x="191.72" y="340.86" width="6.57" height="14.54" fill="#7872d6"/>
<rect x="198.04" y="340.86" width="6.57" height="14.54" fill="#7872d6"/>
<rect x="204.37" y="340.86" width="6.57" height="14.54" fill="#7872d6"/>
<rect x="210.69" y="340.86" width="6.57" height="14.54" fill="#7872d6"/>
<rect x="217.01" y="340.86" width="6.57" height="14.54" fill="#6b2a85"/>
<rect x="223.34" y="340.86" width="6.57" height="14.54" fill="#6b2a85"/>
<rect x="229.66" y="340.86" width="6.57" height="14.54" fill="#7872d6"/>
<rect x="235.99" y="340.86" width="6.57" height="14.54" fill="#6b2a85"/>
<rect x="242.31" y="340.86" width="6.57" height="14.54" fill="#7a49b2"/>
<rect x="248.63" y="340.86" width="6.57" height="14.54" fill="#561752"/>
<rect x="254.96" y="340.86" width="6.57" height="14.54" fill="#6b2a85"/>
<rect x="261.28" y="340.86" width="6.57" height="14.54" fill="#6b2a85"/>
<rect x="267.60" y="340.86" width="6.57" height="14.54" fill="#561752"/>
<rect x="273.93" y="340.86" width="6.57" height="14.54" fill="#390f2e"/>
<rect x="280.25" y="340.86" width="6.57" height="14.54" fill="#6b2a85"/>
<rect x="286.58" y="340.86" width="6.32" height="14.54" fill="#390f2e"/>
</g>
<path d="M27.40 210.00V355.40M33.72 210.00V355.40M40.05 210.00V355.40M46.37 210.00V355.40M52.70 210.00V355.40M59.02 210.00V355.40M65.34 210.00V355.40M71.67 210.00V355.40M77.99 210.00V355.40M84.31 210.00V355.40M90.64 210.00V355.40M96.96 210.00V355.40M103.29 210.00V355.40M109.61 210.00V355.40M115.93 210.00V355.40M122.26 210.00V355.40M128.58 210.00V355.40M134.90 210.00V355.40M141.23 210.00V355.40M147.55 210.00V355.40M153.88 210.00V355.40M160.20 210.00V355.40M166.52 210.00V355.40M172.85 210.00V355.40M179.17 210.00V355.40M185.50 210.00V355.40M191.82 210.00V355.40M198.14 210.00V355.40M204.47 210.00V355.40M210.79 210.00V355.40M217.11 210.00V355.40M223.44 210.00V355.40M229.76 210.00V355.40M236.09 210.00V355.40M242.41 210.00V355.40M248.73 210.00V355.40M255.06 210.00V355.40M261.38 210.00V355.40M267.70 210.00V355.40M274.03 210.00V355.40M280.35 210.00V355.40M286.68 210.00V355.40M27.30 224.64H292.90M27.30 239.18H292.90M27.30 253.72H292.90M27.30 268.26H292.90M27.30 282.80H292.90M27.30 297.34H292.90M27.30 311.88H292.90M27.30 326.42H292.90M27.30 340.96H292.90M27.30 355.40H292.90" stroke="#000" stroke-opacity="0.84" stroke-width="0.66" fill="none"/>
<path d="M27.30 210.00H292.90V355.40" stroke="#000" stroke-opacity="0.6" stroke-width="0.55" fill="none"/>
<text x="23.80" y="212.80" font-size="8.4" text-anchor="end" >0</text>
<text x="23.60" y="241.88" font-size="8.4" text-anchor="end" letter-spacing="-0.2"><tspan font-size="5.9" dy="-0.5" letter-spacing="0.5">−</tspan><tspan dy="0.5">2</tspan></text>
<text x="23.60" y="270.96" font-size="8.4" text-anchor="end" letter-spacing="-0.2"><tspan font-size="5.9" dy="-0.5" letter-spacing="0.5">−</tspan><tspan dy="0.5">4</tspan></text>
<text x="23.60" y="300.04" font-size="8.4" text-anchor="end" letter-spacing="-0.2"><tspan font-size="5.9" dy="-0.5" letter-spacing="0.5">−</tspan><tspan dy="0.5">6</tspan></text>
<text x="23.60" y="329.12" font-size="8.4" text-anchor="end" letter-spacing="-0.2"><tspan font-size="5.9" dy="-0.5" letter-spacing="0.5">−</tspan><tspan dy="0.5">8</tspan></text>
<text x="23.00" y="358.20" font-size="8.4" text-anchor="end" letter-spacing="-0.8"><tspan font-size="5.9" dy="-0.5" letter-spacing="0.5">−</tspan><tspan dy="0.5">10</tspan></text>
<text x="90.24" y="366.00" font-size="8.4" text-anchor="middle" letter-spacing="-0.6">1990</text>
<text x="153.78" y="366.00" font-size="8.4" text-anchor="middle" >2000</text>
<text x="216.89" y="366.00" font-size="8.4" text-anchor="middle" letter-spacing="-0.25">2010</text>
<text x="280.25" y="366.00" font-size="8.4" text-anchor="middle" >2020</text>
<text x="160.10" y="377.90" font-size="8.9" text-anchor="middle" font-weight="normal" >Year</text>
<text class="pl" transform="translate(26.28,203.75) scale(1.22,1)" font-size="10.6" font-weight="bold">e</text>
<text transform="translate(7.2,281.7) rotate(-90)" font-size="8.9" text-anchor="middle" letter-spacing="0.1">Depth (m)</text>
<rect x="299.3" y="331.53" width="11.6" height="13.07" fill="#e8f1f1"/>
<rect x="299.3" y="318.47" width="11.6" height="13.37" fill="#b4d8e6"/>
<rect x="299.3" y="305.40" width="11.6" height="13.37" fill="#87b9e3"/>
<rect x="299.3" y="292.33" width="11.6" height="13.37" fill="#759be6"/>
<rect x="299.3" y="279.27" width="11.6" height="13.37" fill="#7872d6"/>
<rect x="299.3" y="266.20" width="11.6" height="13.37" fill="#7a49b2"/>
<rect x="299.3" y="253.13" width="11.6" height="13.37" fill="#6b2a85"/>
<rect x="299.3" y="240.07" width="11.6" height="13.37" fill="#561752"/>
<rect x="299.3" y="227.00" width="11.6" height="13.37" fill="#390f2e"/>
<rect x="299.3" y="227.0" width="11.6" height="117.6" fill="none" stroke="#333" stroke-width="0.55"/>
<line x1="309.6" y1="344.6" x2="310.9" y2="344.6" stroke="#444" stroke-width="0.5"/>
<text x="313.50" y="347.60" font-size="8.4" text-anchor="start" letter-spacing="-0.8">10</text>
<line x1="309.6" y1="315.2" x2="310.9" y2="315.2" stroke="#444" stroke-width="0.5"/>
<text x="313.50" y="318.20" font-size="8.4" text-anchor="start" letter-spacing="-0.2">20</text>
<line x1="309.6" y1="285.8" x2="310.9" y2="285.8" stroke="#444" stroke-width="0.5"/>
<text x="313.50" y="288.80" font-size="8.4" text-anchor="start" letter-spacing="-0.2">30</text>
<line x1="309.6" y1="256.4" x2="310.9" y2="256.4" stroke="#444" stroke-width="0.5"/>
<text x="313.50" y="259.40" font-size="8.4" text-anchor="start" letter-spacing="-0.2">40</text>
<line x1="309.6" y1="227.0" x2="310.9" y2="227.0" stroke="#444" stroke-width="0.5"/>
<text x="313.50" y="230.00" font-size="8.4" text-anchor="start" letter-spacing="-0.2">50</text>
<text transform="translate(329.3,286.3) rotate(90)" font-size="8.9" text-anchor="middle" letter-spacing="0.12">Number of days</text>
</g>
<g class="panel" id="panel-f">
<g>
<rect x="369.70" y="210.00" width="6.57" height="14.79" fill="#281a2c"/>
<rect x="376.02" y="210.00" width="6.57" height="14.79" fill="#281a2c"/>
<rect x="382.35" y="210.00" width="6.57" height="14.79" fill="#281a2c"/>
<rect x="388.67" y="210.00" width="6.57" height="14.79" fill="#281a2c"/>
<rect x="395.00" y="210.00" width="6.57" height="14.79" fill="#281a2c"/>
<rect x="401.32" y="210.00" width="6.57" height="14.79" fill="#281a2c"/>
<rect x="407.64" y="210.00" width="6.57" height="14.79" fill="#281a2c"/>
<rect x="413.97" y="210.00" width="6.57" height="14.79" fill="#281a2c"/>
<rect x="420.29" y="210.00" width="6.57" height="14.79" fill="#281a2c"/>
<rect x="426.61" y="210.00" width="6.57" height="14.79" fill="#281a2c"/>
<rect x="432.94" y="210.00" width="6.57" height="14.79" fill="#281a2c"/>
<rect x="439.26" y="210.00" width="6.57" height="14.79" fill="#281a2c"/>
<rect x="445.59" y="210.00" width="6.57" height="14.79" fill="#281a2c"/>
<rect x="451.91" y="210.00" width="6.57" height="14.79" fill="#281a2c"/>
<rect x="458.23" y="210.00" width="6.57" height="14.79" fill="#281a2c"/>
<rect x="464.56" y="210.00" width="6.57" height="14.79" fill="#281a2c"/>
<rect x="470.88" y="210.00" width="6.57" height="14.79" fill="#281a2c"/>
<rect x="477.20" y="210.00" width="6.57" height="14.79" fill="#281a2c"/>
<rect x="483.53" y="210.00" width="6.57" height="14.79" fill="#281a2c"/>
<rect x="489.85" y="210.00" width="6.57" height="14.79" fill="#281a2c"/>
<rect x="496.18" y="210.00" width="6.57" height="14.79" fill="#281a2c"/>
<rect x="502.50" y="210.00" width="6.57" height="14.79" fill="#3a2e5c"/>
<rect x="508.82" y="210.00" width="6.57" height="14.79" fill="#281a2c"/>
<rect x="515.15" y="210.00" width="6.57" height="14.79" fill="#281a2c"/>
<rect x="521.47" y="210.00" width="6.57" height="14.79" fill="#281a2c"/>
<rect x="527.80" y="210.00" width="6.57" height="14.79" fill="#3a2e5c"/>
<rect x="534.12" y="210.00" width="6.57" height="14.79" fill="#281a2c"/>
<rect x="540.44" y="210.00" width="6.57" height="14.79" fill="#3a2e5c"/>
<rect x="546.77" y="210.00" width="6.57" height="14.79" fill="#3a2e5c"/>
<rect x="553.09" y="210.00" width="6.57" height="14.79" fill="#3a2e5c"/>
<rect x="559.41" y="210.00" width="6.57" height="14.79" fill="#3d6899"/>
<rect x="565.74" y="210.00" width="6.57" height="14.79" fill="#3a2e5c"/>
<rect x="572.06" y="210.00" width="6.57" height="14.79" fill="#3a2e5c"/>
<rect x="578.39" y="210.00" width="6.57" height="14.79" fill="#3f4486"/>
<rect x="584.71" y="210.00" width="6.57" height="14.79" fill="#3f4486"/>
<rect x="591.03" y="210.00" width="6.57" height="14.79" fill="#3f4486"/>
<rect x="597.36" y="210.00" width="6.57" height="14.79" fill="#3f4486"/>
<rect x="603.68" y="210.00" width="6.57" height="14.79" fill="#3f4486"/>
<rect x="610.00" y="210.00" width="6.57" height="14.79" fill="#3f4486"/>
<rect x="616.33" y="210.00" width="6.57" height="14.79" fill="#3f4486"/>
<rect x="622.65" y="210.00" width="6.57" height="14.79" fill="#3f4486"/>
<rect x="628.98" y="210.00" width="6.32" height="14.79" fill="#3f4486"/>
<rect x="369.70" y="224.54" width="6.57" height="14.79" fill="#3a2e5c"/>
<rect x="376.02" y="224.54" width="6.57" height="14.79" fill="#3a2e5c"/>
<rect x="382.35" y="224.54" width="6.57" height="14.79" fill="#281a2c"/>
<rect x="388.67" y="224.54" width="6.57" height="14.79" fill="#281a2c"/>
<rect x="395.00" y="224.54" width="6.57" height="14.79" fill="#281a2c"/>
<rect x="401.32" y="224.54" width="6.57" height="14.79" fill="#281a2c"/>
<rect x="407.64" y="224.54" width="6.57" height="14.79" fill="#3a2e5c"/>
<rect x="413.97" y="224.54" width="6.57" height="14.79" fill="#3a2e5c"/>
<rect x="420.29" y="224.54" width="6.57" height="14.79" fill="#3f4486"/>
<rect x="426.61" y="224.54" width="6.57" height="14.79" fill="#3a2e5c"/>
<rect x="432.94" y="224.54" width="6.57" height="14.79" fill="#3a2e5c"/>
<rect x="439.26" y="224.54" width="6.57" height="14.79" fill="#3a2e5c"/>
<rect x="445.59" y="224.54" width="6.57" height="14.79" fill="#281a2c"/>
<rect x="451.91" y="224.54" width="6.57" height="14.79" fill="#3a2e5c"/>
<rect x="458.23" y="224.54" width="6.57" height="14.79" fill="#3a2e5c"/>
<rect x="464.56" y="224.54" width="6.57" height="14.79" fill="#281a2c"/>
<rect x="470.88" y="224.54" width="6.57" height="14.79" fill="#3a2e5c"/>
<rect x="477.20" y="224.54" width="6.57" height="14.79" fill="#3a2e5c"/>
<rect x="483.53" y="224.54" width="6.57" height="14.79" fill="#3f4486"/>
<rect x="489.85" y="224.54" width="6.57" height="14.79" fill="#3a2e5c"/>
<rect x="496.18" y="224.54" width="6.57" height="14.79" fill="#3f4486"/>
<rect x="502.50" y="224.54" width="6.57" height="14.79" fill="#3f4486"/>
<rect x="508.82" y="224.54" width="6.57" height="14.79" fill="#3f4486"/>
<rect x="515.15" y="224.54" width="6.57" height="14.79" fill="#3a2e5c"/>
<rect x="521.47" y="224.54" width="6.57" height="14.79" fill="#3d6899"/>
<rect x="527.80" y="224.54" width="6.57" height="14.79" fill="#3d6899"/>
<rect x="534.12" y="224.54" width="6.57" height="14.79" fill="#3d6899"/>
<rect x="540.44" y="224.54" width="6.57" height="14.79" fill="#3f4486"/>
<rect x="546.77" y="224.54" width="6.57" height="14.79" fill="#3f4486"/>
<rect x="553.09" y="224.54" width="6.57" height="14.79" fill="#3f4486"/>
<rect x="559.41" y="224.54" width="6.57" height="14.79" fill="#41839b"/>
<rect x="565.74" y="224.54" width="6.57" height="14.79" fill="#3d6899"/>
<rect x="572.06" y="224.54" width="6.57" height="14.79" fill="#3f4486"/>
<rect x="578.39" y="224.54" width="6.57" height="14.79" fill="#3d6899"/>
<rect x="584.71" y="224.54" width="6.57" height="14.79" fill="#3d6899"/>
<rect x="591.03" y="224.54" width="6.57" height="14.79" fill="#41839b"/>
<rect x="597.36" y="224.54" width="6.57" height="14.79" fill="#3d6899"/>
<rect x="603.68" y="224.54" width="6.57" height="14.79" fill="#3d6899"/>
<rect x="610.00" y="224.54" width="6.57" height="14.79" fill="#3d6899"/>
<rect x="616.33" y="224.54" width="6.57" height="14.79" fill="#3d6899"/>
<rect x="622.65" y="224.54" width="6.57" height="14.79" fill="#3d6899"/>
<rect x="628.98" y="224.54" width="6.32" height="14.79" fill="#41839b"/>
<rect x="369.70" y="239.08" width="6.57" height="14.79" fill="#3d6899"/>
<rect x="376.02" y="239.08" width="6.57" height="14.79" fill="#3f4486"/>
<rect x="382.35" y="239.08" width="6.57" height="14.79" fill="#3a2e5c"/>
<rect x="388.67" y="239.08" width="6.57" height="14.79" fill="#3a2e5c"/>
<rect x="395.00" y="239.08" width="6.57" height="14.79" fill="#3a2e5c"/>
<rect x="401.32" y="239.08" width="6.57" height="14.79" fill="#3a2e5c"/>
<rect x="407.64" y="239.08" width="6.57" height="14.79" fill="#3f4486"/>
<rect x="413.97" y="239.08" width="6.57" height="14.79" fill="#3f4486"/>
<rect x="420.29" y="239.08" width="6.57" height="14.79" fill="#3d6899"/>
<rect x="426.61" y="239.08" width="6.57" height="14.79" fill="#3f4486"/>
<rect x="432.94" y="239.08" width="6.57" height="14.79" fill="#3a2e5c"/>
<rect x="439.26" y="239.08" width="6.57" height="14.79" fill="#3f4486"/>
<rect x="445.59" y="239.08" width="6.57" height="14.79" fill="#3a2e5c"/>
<rect x="451.91" y="239.08" width="6.57" height="14.79" fill="#3f4486"/>
<rect x="458.23" y="239.08" width="6.57" height="14.79" fill="#3a2e5c"/>
<rect x="464.56" y="239.08" width="6.57" height="14.79" fill="#3a2e5c"/>
<rect x="470.88" y="239.08" width="6.57" height="14.79" fill="#3f4486"/>
<rect x="477.20" y="239.08" width="6.57" height="14.79" fill="#3a2e5c"/>
<rect x="483.53" y="239.08" width="6.57" height="14.79" fill="#3f4486"/>
<rect x="489.85" y="239.08" width="6.57" height="14.79" fill="#3f4486"/>
<rect x="496.18" y="239.08" width="6.57" height="14.79" fill="#3f4486"/>
<rect x="502.50" y="239.08" width="6.57" height="14.79" fill="#3d6899"/>
<rect x="508.82" y="239.08" width="6.57" height="14.79" fill="#3f4486"/>
<rect x="515.15" y="239.08" width="6.57" height="14.79" fill="#3f4486"/>
<rect x="521.47" y="239.08" width="6.57" height="14.79" fill="#3d6899"/>
<rect x="527.80" y="239.08" width="6.57" height="14.79" fill="#3d6899"/>
<rect x="534.12" y="239.08" width="6.57" height="14.79" fill="#3d6899"/>
<rect x="540.44" y="239.08" width="6.57" height="14.79" fill="#3d6899"/>
<rect x="546.77" y="239.08" width="6.57" height="14.79" fill="#3d6899"/>
<rect x="553.09" y="239.08" width="6.57" height="14.79" fill="#3f4486"/>
<rect x="559.41" y="239.08" width="6.57" height="14.79" fill="#4f9fa0"/>
<rect x="565.74" y="239.08" width="6.57" height="14.79" fill="#41839b"/>
<rect x="572.06" y="239.08" width="6.57" height="14.79" fill="#3d6899"/>
<rect x="578.39" y="239.08" width="6.57" height="14.79" fill="#41839b"/>
<rect x="584.71" y="239.08" width="6.57" height="14.79" fill="#3d6899"/>
<rect x="591.03" y="239.08" width="6.57" height="14.79" fill="#41839b"/>
<rect x="597.36" y="239.08" width="6.57" height="14.79" fill="#41839b"/>
<rect x="603.68" y="239.08" width="6.57" height="14.79" fill="#41839b"/>
<rect x="610.00" y="239.08" width="6.57" height="14.79" fill="#41839b"/>
<rect x="616.33" y="239.08" width="6.57" height="14.79" fill="#41839b"/>
<rect x="622.65" y="239.08" width="6.57" height="14.79" fill="#3d6899"/>
<rect x="628.98" y="239.08" width="6.32" height="14.79" fill="#41839b"/>
<rect x="369.70" y="253.62" width="6.57" height="14.79" fill="#3d6899"/>
<rect x="376.02" y="253.62" width="6.57" height="14.79" fill="#3d6899"/>
<rect x="382.35" y="253.62" width="6.57" height="14.79" fill="#3f4486"/>
<rect x="388.67" y="253.62" width="6.57" height="14.79" fill="#3f4486"/>
<rect x="395.00" y="253.62" width="6.57" height="14.79" fill="#3a2e5c"/>
<rect x="401.32" y="253.62" width="6.57" height="14.79" fill="#3a2e5c"/>
<rect x="407.64" y="253.62" width="6.57" height="14.79" fill="#3f4486"/>
<rect x="413.97" y="253.62" width="6.57" height="14.79" fill="#3d6899"/>
<rect x="420.29" y="253.62" width="6.57" height="14.79" fill="#41839b"/>
<rect x="426.61" y="253.62" width="6.57" height="14.79" fill="#3d6899"/>
<rect x="432.94" y="253.62" width="6.57" height="14.79" fill="#3a2e5c"/>
<rect x="439.26" y="253.62" width="6.57" height="14.79" fill="#3f4486"/>
<rect x="445.59" y="253.62" width="6.57" height="14.79" fill="#3f4486"/>
<rect x="451.91" y="253.62" width="6.57" height="14.79" fill="#3f4486"/>
<rect x="458.23" y="253.62" width="6.57" height="14.79" fill="#3f4486"/>
<rect x="464.56" y="253.62" width="6.57" height="14.79" fill="#3a2e5c"/>
<rect x="470.88" y="253.62" width="6.57" height="14.79" fill="#3f4486"/>
<rect x="477.20" y="253.62" width="6.57" height="14.79" fill="#3a2e5c"/>
<rect x="483.53" y="253.62" width="6.57" height="14.79" fill="#3f4486"/>
<rect x="489.85" y="253.62" width="6.57" height="14.79" fill="#3f4486"/>
<rect x="496.18" y="253.62" width="6.57" height="14.79" fill="#3f4486"/>
<rect x="502.50" y="253.62" width="6.57" height="14.79" fill="#3d6899"/>
<rect x="508.82" y="253.62" width="6.57" height="14.79" fill="#3d6899"/>
<rect x="515.15" y="253.62" width="6.57" height="14.79" fill="#3f4486"/>
<rect x="521.47" y="253.62" width="6.57" height="14.79" fill="#41839b"/>
<rect x="527.80" y="253.62" width="6.57" height="14.79" fill="#3d6899"/>
<rect x="534.12" y="253.62" width="6.57" height="14.79" fill="#3d6899"/>
<rect x="540.44" y="253.62" width="6.57" height="14.79" fill="#3d6899"/>
<rect x="546.77" y="253.62" width="6.57" height="14.79" fill="#3d6899"/>
<rect x="553.09" y="253.62" width="6.57" height="14.79" fill="#3d6899"/>
<rect x="559.41" y="253.62" width="6.57" height="14.79" fill="#4f9fa0"/>
<rect x="565.74" y="253.62" width="6.57" height="14.79" fill="#41839b"/>
<rect x="572.06" y="253.62" width="6.57" height="14.79" fill="#3d6899"/>
<rect x="578.39" y="253.62" width="6.57" height="14.79" fill="#41839b"/>
<rect x="584.71" y="253.62" width="6.57" height="14.79" fill="#41839b"/>
<rect x="591.03" y="253.62" width="6.57" height="14.79" fill="#4f9fa0"/>
<rect x="597.36" y="253.62" width="6.57" height="14.79" fill="#41839b"/>
<rect x="603.68" y="253.62" width="6.57" height="14.79" fill="#41839b"/>
<rect x="610.00" y="253.62" width="6.57" height="14.79" fill="#41839b"/>
<rect x="616.33" y="253.62" width="6.57" height="14.79" fill="#41839b"/>
<rect x="622.65" y="253.62" width="6.57" height="14.79" fill="#41839b"/>
<rect x="628.98" y="253.62" width="6.32" height="14.79" fill="#4f9fa0"/>
<rect x="369.70" y="268.16" width="6.57" height="14.79" fill="#41839b"/>
<rect x="376.02" y="268.16" width="6.57" height="14.79" fill="#3d6899"/>
<rect x="382.35" y="268.16" width="6.57" height="14.79" fill="#3f4486"/>
<rect x="388.67" y="268.16" width="6.57" height="14.79" fill="#3d6899"/>
<rect x="395.00" y="268.16" width="6.57" height="14.79" fill="#3a2e5c"/>
<rect x="401.32" y="268.16" width="6.57" height="14.79" fill="#3f4486"/>
<rect x="407.64" y="268.16" width="6.57" height="14.79" fill="#3d6899"/>
<rect x="413.97" y="268.16" width="6.57" height="14.79" fill="#3d6899"/>
<rect x="420.29" y="268.16" width="6.57" height="14.79" fill="#41839b"/>
<rect x="426.61" y="268.16" width="6.57" height="14.79" fill="#3d6899"/>
<rect x="432.94" y="268.16" width="6.57" height="14.79" fill="#3f4486"/>
<rect x="439.26" y="268.16" width="6.57" height="14.79" fill="#3f4486"/>
<rect x="445.59" y="268.16" width="6.57" height="14.79" fill="#3f4486"/>
<rect x="451.91" y="268.16" width="6.57" height="14.79" fill="#3f4486"/>
<rect x="458.23" y="268.16" width="6.57" height="14.79" fill="#3f4486"/>
<rect x="464.56" y="268.16" width="6.57" height="14.79" fill="#3f4486"/>
<rect x="470.88" y="268.16" width="6.57" height="14.79" fill="#3d6899"/>
<rect x="477.20" y="268.16" width="6.57" height="14.79" fill="#3f4486"/>
<rect x="483.53" y="268.16" width="6.57" height="14.79" fill="#3f4486"/>
<rect x="489.85" y="268.16" width="6.57" height="14.79" fill="#3f4486"/>
<rect x="496.18" y="268.16" width="6.57" height="14.79" fill="#3d6899"/>
<rect x="502.50" y="268.16" width="6.57" height="14.79" fill="#41839b"/>
<rect x="508.82" y="268.16" width="6.57" height="14.79" fill="#3d6899"/>
<rect x="515.15" y="268.16" width="6.57" height="14.79" fill="#3d6899"/>
<rect x="521.47" y="268.16" width="6.57" height="14.79" fill="#41839b"/>
<rect x="527.80" y="268.16" width="6.57" height="14.79" fill="#3d6899"/>
<rect x="534.12" y="268.16" width="6.57" height="14.79" fill="#41839b"/>
<rect x="540.44" y="268.16" width="6.57" height="14.79" fill="#41839b"/>
<rect x="546.77" y="268.16" width="6.57" height="14.79" fill="#41839b"/>
<rect x="553.09" y="268.16" width="6.57" height="14.79" fill="#3d6899"/>
<rect x="559.41" y="268.16" width="6.57" height="14.79" fill="#4f9fa0"/>
<rect x="565.74" y="268.16" width="6.57" height="14.79" fill="#4f9fa0"/>
<rect x="572.06" y="268.16" width="6.57" height="14.79" fill="#3d6899"/>
<rect x="578.39" y="268.16" width="6.57" height="14.79" fill="#4f9fa0"/>
<rect x="584.71" y="268.16" width="6.57" height="14.79" fill="#41839b"/>
<rect x="591.03" y="268.16" width="6.57" height="14.79" fill="#4f9fa0"/>
<rect x="597.36" y="268.16" width="6.57" height="14.79" fill="#4f9fa0"/>
<rect x="603.68" y="268.16" width="6.57" height="14.79" fill="#4f9fa0"/>
<rect x="610.00" y="268.16" width="6.57" height="14.79" fill="#41839b"/>
<rect x="616.33" y="268.16" width="6.57" height="14.79" fill="#4f9fa0"/>
<rect x="622.65" y="268.16" width="6.57" height="14.79" fill="#41839b"/>
<rect x="628.98" y="268.16" width="6.32" height="14.79" fill="#5fb6a3"/>
<rect x="369.70" y="282.70" width="6.57" height="14.79" fill="#41839b"/>
<rect x="376.02" y="282.70" width="6.57" height="14.79" fill="#41839b"/>
<rect x="382.35" y="282.70" width="6.57" height="14.79" fill="#3d6899"/>
<rect x="388.67" y="282.70" width="6.57" height="14.79" fill="#3d6899"/>
<rect x="395.00" y="282.70" width="6.57" height="14.79" fill="#3f4486"/>
<rect x="401.32" y="282.70" width="6.57" height="14.79" fill="#3f4486"/>
<rect x="407.64" y="282.70" width="6.57" height="14.79" fill="#3d6899"/>
<rect x="413.97" y="282.70" width="6.57" height="14.79" fill="#3d6899"/>
<rect x="420.29" y="282.70" width="6.57" height="14.79" fill="#41839b"/>
<rect x="426.61" y="282.70" width="6.57" height="14.79" fill="#3d6899"/>
<rect x="432.94" y="282.70" width="6.57" height="14.79" fill="#3f4486"/>
<rect x="439.26" y="282.70" width="6.57" height="14.79" fill="#3d6899"/>
<rect x="445.59" y="282.70" width="6.57" height="14.79" fill="#3f4486"/>
<rect x="451.91" y="282.70" width="6.57" height="14.79" fill="#3d6899"/>
<rect x="458.23" y="282.70" width="6.57" height="14.79" fill="#3f4486"/>
<rect x="464.56" y="282.70" width="6.57" height="14.79" fill="#3f4486"/>
<rect x="470.88" y="282.70" width="6.57" height="14.79" fill="#3d6899"/>
<rect x="477.20" y="282.70" width="6.57" height="14.79" fill="#3f4486"/>
<rect x="483.53" y="282.70" width="6.57" height="14.79" fill="#3f4486"/>
<rect x="489.85" y="282.70" width="6.57" height="14.79" fill="#3d6899"/>
<rect x="496.18" y="282.70" width="6.57" height="14.79" fill="#3d6899"/>
<rect x="502.50" y="282.70" width="6.57" height="14.79" fill="#41839b"/>
<rect x="508.82" y="282.70" width="6.57" height="14.79" fill="#3d6899"/>
<rect x="515.15" y="282.70" width="6.57" height="14.79" fill="#3d6899"/>
<rect x="521.47" y="282.70" width="6.57" height="14.79" fill="#4f9fa0"/>
<rect x="527.80" y="282.70" width="6.57" height="14.79" fill="#41839b"/>
<rect x="534.12" y="282.70" width="6.57" height="14.79" fill="#41839b"/>
<rect x="540.44" y="282.70" width="6.57" height="14.79" fill="#41839b"/>
<rect x="546.77" y="282.70" width="6.57" height="14.79" fill="#41839b"/>
<rect x="553.09" y="282.70" width="6.57" height="14.79" fill="#3d6899"/>
<rect x="559.41" y="282.70" width="6.57" height="14.79" fill="#4f9fa0"/>
<rect x="565.74" y="282.70" width="6.57" height="14.79" fill="#5fb6a3"/>
<rect x="572.06" y="282.70" width="6.57" height="14.79" fill="#41839b"/>
<rect x="578.39" y="282.70" width="6.57" height="14.79" fill="#4f9fa0"/>
<rect x="584.71" y="282.70" width="6.57" height="14.79" fill="#41839b"/>
<rect x="591.03" y="282.70" width="6.57" height="14.79" fill="#5fb6a3"/>
<rect x="597.36" y="282.70" width="6.57" height="14.79" fill="#4f9fa0"/>
<rect x="603.68" y="282.70" width="6.57" height="14.79" fill="#4f9fa0"/>
<rect x="610.00" y="282.70" width="6.57" height="14.79" fill="#4f9fa0"/>
<rect x="616.33" y="282.70" width="6.57" height="14.79" fill="#5fb6a3"/>
<rect x="622.65" y="282.70" width="6.57" height="14.79" fill="#41839b"/>
<rect x="628.98" y="282.70" width="6.32" height="14.79" fill="#86cfa4"/>
<rect x="369.70" y="297.24" width="6.57" height="14.79" fill="#4f9fa0"/>
<rect x="376.02" y="297.24" width="6.57" height="14.79" fill="#41839b"/>
<rect x="382.35" y="297.24" width="6.57" height="14.79" fill="#3d6899"/>
<rect x="388.67" y="297.24" width="6.57" height="14.79" fill="#3d6899"/>
<rect x="395.00" y="297.24" width="6.57" height="14.79" fill="#3f4486"/>
<rect x="401.32" y="297.24" width="6.57" height="14.79" fill="#3d6899"/>
<rect x="407.64" y="297.24" width="6.57" height="14.79" fill="#41839b"/>
<rect x="413.97" y="297.24" width="6.57" height="14.79" fill="#41839b"/>
<rect x="420.29" y="297.24" width="6.57" height="14.79" fill="#4f9fa0"/>
<rect x="426.61" y="297.24" width="6.57" height="14.79" fill="#3d6899"/>
<rect x="432.94" y="297.24" width="6.57" height="14.79" fill="#3d6899"/>
<rect x="439.26" y="297.24" width="6.57" height="14.79" fill="#3d6899"/>
<rect x="445.59" y="297.24" width="6.57" height="14.79" fill="#3f4486"/>
<rect x="451.91" y="297.24" width="6.57" height="14.79" fill="#3d6899"/>
<rect x="458.23" y="297.24" width="6.57" height="14.79" fill="#3d6899"/>
<rect x="464.56" y="297.24" width="6.57" height="14.79" fill="#3f4486"/>
<rect x="470.88" y="297.24" width="6.57" height="14.79" fill="#41839b"/>
<rect x="477.20" y="297.24" width="6.57" height="14.79" fill="#3d6899"/>
<rect x="483.53" y="297.24" width="6.57" height="14.79" fill="#3d6899"/>
<rect x="489.85" y="297.24" width="6.57" height="14.79" fill="#41839b"/>
<rect x="496.18" y="297.24" width="6.57" height="14.79" fill="#3d6899"/>
<rect x="502.50" y="297.24" width="6.57" height="14.79" fill="#41839b"/>
<rect x="508.82" y="297.24" width="6.57" height="14.79" fill="#41839b"/>
<rect x="515.15" y="297.24" width="6.57" height="14.79" fill="#41839b"/>
<rect x="521.47" y="297.24" width="6.57" height="14.79" fill="#4f9fa0"/>
<rect x="527.80" y="297.24" width="6.57" height="14.79" fill="#41839b"/>
<rect x="534.12" y="297.24" width="6.57" height="14.79" fill="#41839b"/>
<rect x="540.44" y="297.24" width="6.57" height="14.79" fill="#4f9fa0"/>
<rect x="546.77" y="297.24" width="6.57" height="14.79" fill="#41839b"/>
<rect x="553.09" y="297.24" width="6.57" height="14.79" fill="#41839b"/>
<rect x="559.41" y="297.24" width="6.57" height="14.79" fill="#5fb6a3"/>
<rect x="565.74" y="297.24" width="6.57" height="14.79" fill="#5fb6a3"/>
<rect x="572.06" y="297.24" width="6.57" height="14.79" fill="#41839b"/>
<rect x="578.39" y="297.24" width="6.57" height="14.79" fill="#4f9fa0"/>
<rect x="584.71" y="297.24" width="6.57" height="14.79" fill="#4f9fa0"/>
<rect x="591.03" y="297.24" width="6.57" height="14.79" fill="#86cfa4"/>
<rect x="597.36" y="297.24" width="6.57" height="14.79" fill="#5fb6a3"/>
<rect x="603.68" y="297.24" width="6.57" height="14.79" fill="#4f9fa0"/>
<rect x="610.00" y="297.24" width="6.57" height="14.79" fill="#4f9fa0"/>
<rect x="616.33" y="297.24" width="6.57" height="14.79" fill="#5fb6a3"/>
<rect x="622.65" y="297.24" width="6.57" height="14.79" fill="#4f9fa0"/>
<rect x="628.98" y="297.24" width="6.32" height="14.79" fill="#c5e6b0"/>
<rect x="369.70" y="311.78" width="6.57" height="14.79" fill="#4f9fa0"/>
<rect x="376.02" y="311.78" width="6.57" height="14.79" fill="#41839b"/>
<rect x="382.35" y="311.78" width="6.57" height="14.79" fill="#41839b"/>
<rect x="388.67" y="311.78" width="6.57" height="14.79" fill="#41839b"/>
<rect x="395.00" y="311.78" width="6.57" height="14.79" fill="#3d6899"/>
<rect x="401.32" y="311.78" width="6.57" height="14.79" fill="#3d6899"/>
<rect x="407.64" y="311.78" width="6.57" height="14.79" fill="#41839b"/>
<rect x="413.97" y="311.78" width="6.57" height="14.79" fill="#41839b"/>
<rect x="420.29" y="311.78" width="6.57" height="14.79" fill="#4f9fa0"/>
<rect x="426.61" y="311.78" width="6.57" height="14.79" fill="#41839b"/>
<rect x="432.94" y="311.78" width="6.57" height="14.79" fill="#3d6899"/>
<rect x="439.26" y="311.78" width="6.57" height="14.79" fill="#3d6899"/>
<rect x="445.59" y="311.78" width="6.57" height="14.79" fill="#3d6899"/>
<rect x="451.91" y="311.78" width="6.57" height="14.79" fill="#41839b"/>
<rect x="458.23" y="311.78" width="6.57" height="14.79" fill="#3d6899"/>
<rect x="464.56" y="311.78" width="6.57" height="14.79" fill="#3f4486"/>
<rect x="470.88" y="311.78" width="6.57" height="14.79" fill="#41839b"/>
<rect x="477.20" y="311.78" width="6.57" height="14.79" fill="#3d6899"/>
<rect x="483.53" y="311.78" width="6.57" height="14.79" fill="#3d6899"/>
<rect x="489.85" y="311.78" width="6.57" height="14.79" fill="#41839b"/>
<rect x="496.18" y="311.78" width="6.57" height="14.79" fill="#41839b"/>
<rect x="502.50" y="311.78" width="6.57" height="14.79" fill="#4f9fa0"/>
<rect x="508.82" y="311.78" width="6.57" height="14.79" fill="#41839b"/>
<rect x="515.15" y="311.78" width="6.57" height="14.79" fill="#41839b"/>
<rect x="521.47" y="311.78" width="6.57" height="14.79" fill="#5fb6a3"/>
<rect x="527.80" y="311.78" width="6.57" height="14.79" fill="#41839b"/>
<rect x="534.12" y="311.78" width="6.57" height="14.79" fill="#4f9fa0"/>
<rect x="540.44" y="311.78" width="6.57" height="14.79" fill="#4f9fa0"/>
<rect x="546.77" y="311.78" width="6.57" height="14.79" fill="#4f9fa0"/>
<rect x="553.09" y="311.78" width="6.57" height="14.79" fill="#41839b"/>
<rect x="559.41" y="311.78" width="6.57" height="14.79" fill="#5fb6a3"/>
<rect x="565.74" y="311.78" width="6.57" height="14.79" fill="#86cfa4"/>
<rect x="572.06" y="311.78" width="6.57" height="14.79" fill="#4f9fa0"/>
<rect x="578.39" y="311.78" width="6.57" height="14.79" fill="#5fb6a3"/>
<rect x="584.71" y="311.78" width="6.57" height="14.79" fill="#4f9fa0"/>
<rect x="591.03" y="311.78" width="6.57" height="14.79" fill="#86cfa4"/>
<rect x="597.36" y="311.78" width="6.57" height="14.79" fill="#5fb6a3"/>
<rect x="603.68" y="311.78" width="6.57" height="14.79" fill="#5fb6a3"/>
<rect x="610.00" y="311.78" width="6.57" height="14.79" fill="#5fb6a3"/>
<rect x="616.33" y="311.78" width="6.57" height="14.79" fill="#86cfa4"/>
<rect x="622.65" y="311.78" width="6.57" height="14.79" fill="#5fb6a3"/>
<rect x="628.98" y="311.78" width="6.32" height="14.79" fill="#fdfecc"/>
<rect x="369.70" y="326.32" width="6.57" height="14.79" fill="#5fb6a3"/>
<rect x="376.02" y="326.32" width="6.57" height="14.79" fill="#4f9fa0"/>
<rect x="382.35" y="326.32" width="6.57" height="14.79" fill="#4f9fa0"/>
<rect x="388.67" y="326.32" width="6.57" height="14.79" fill="#41839b"/>
<rect x="395.00" y="326.32" width="6.57" height="14.79" fill="#3d6899"/>
<rect x="401.32" y="326.32" width="6.57" height="14.79" fill="#41839b"/>
<rect x="407.64" y="326.32" width="6.57" height="14.79" fill="#4f9fa0"/>
<rect x="413.97" y="326.32" width="6.57" height="14.79" fill="#4f9fa0"/>
<rect x="420.29" y="326.32" width="6.57" height="14.79" fill="#4f9fa0"/>
<rect x="426.61" y="326.32" width="6.57" height="14.79" fill="#41839b"/>
<rect x="432.94" y="326.32" width="6.57" height="14.79" fill="#41839b"/>
<rect x="439.26" y="326.32" width="6.57" height="14.79" fill="#41839b"/>
<rect x="445.59" y="326.32" width="6.57" height="14.79" fill="#3d6899"/>
<rect x="451.91" y="326.32" width="6.57" height="14.79" fill="#41839b"/>
<rect x="458.23" y="326.32" width="6.57" height="14.79" fill="#3d6899"/>
<rect x="464.56" y="326.32" width="6.57" height="14.79" fill="#3f4486"/>
<rect x="470.88" y="326.32" width="6.57" height="14.79" fill="#41839b"/>
<rect x="477.20" y="326.32" width="6.57" height="14.79" fill="#41839b"/>
<rect x="483.53" y="326.32" width="6.57" height="14.79" fill="#41839b"/>
<rect x="489.85" y="326.32" width="6.57" height="14.79" fill="#4f9fa0"/>
<rect x="496.18" y="326.32" width="6.57" height="14.79" fill="#4f9fa0"/>
<rect x="502.50" y="326.32" width="6.57" height="14.79" fill="#5fb6a3"/>
<rect x="508.82" y="326.32" width="6.57" height="14.79" fill="#4f9fa0"/>
<rect x="515.15" y="326.32" width="6.57" height="14.79" fill="#4f9fa0"/>
<rect x="521.47" y="326.32" width="6.57" height="14.79" fill="#5fb6a3"/>
<rect x="527.80" y="326.32" width="6.57" height="14.79" fill="#41839b"/>
<rect x="534.12" y="326.32" width="6.57" height="14.79" fill="#5fb6a3"/>
<rect x="540.44" y="326.32" width="6.57" height="14.79" fill="#4f9fa0"/>
<rect x="546.77" y="326.32" width="6.57" height="14.79" fill="#4f9fa0"/>
<rect x="553.09" y="326.32" width="6.57" height="14.79" fill="#4f9fa0"/>
<rect x="559.41" y="326.32" width="6.57" height="14.79" fill="#86cfa4"/>
<rect x="565.74" y="326.32" width="6.57" height="14.79" fill="#86cfa4"/>
<rect x="572.06" y="326.32" width="6.57" height="14.79" fill="#4f9fa0"/>
<rect x="578.39" y="326.32" width="6.57" height="14.79" fill="#86cfa4"/>
<rect x="584.71" y="326.32" width="6.57" height="14.79" fill="#5fb6a3"/>
<rect x="591.03" y="326.32" width="6.57" height="14.79" fill="#c5e6b0"/>
<rect x="597.36" y="326.32" width="6.57" height="14.79" fill="#86cfa4"/>
<rect x="603.68" y="326.32" width="6.57" height="14.79" fill="#5fb6a3"/>
<rect x="610.00" y="326.32" width="6.57" height="14.79" fill="#86cfa4"/>
<rect x="616.33" y="326.32" width="6.57" height="14.79" fill="#c5e6b0"/>
<rect x="622.65" y="326.32" width="6.57" height="14.79" fill="#5fb6a3"/>
<rect x="628.98" y="326.32" width="6.32" height="14.79" fill="#fdfecc"/>
<rect x="369.70" y="340.86" width="6.57" height="14.54" fill="#5fb6a3"/>
<rect x="376.02" y="340.86" width="6.57" height="14.54" fill="#4f9fa0"/>
<rect x="382.35" y="340.86" width="6.57" height="14.54" fill="#4f9fa0"/>
<rect x="388.67" y="340.86" width="6.57" height="14.54" fill="#4f9fa0"/>
<rect x="395.00" y="340.86" width="6.57" height="14.54" fill="#41839b"/>
<rect x="401.32" y="340.86" width="6.57" height="14.54" fill="#41839b"/>
<rect x="407.64" y="340.86" width="6.57" height="14.54" fill="#4f9fa0"/>
<rect x="413.97" y="340.86" width="6.57" height="14.54" fill="#4f9fa0"/>
<rect x="420.29" y="340.86" width="6.57" height="14.54" fill="#5fb6a3"/>
<rect x="426.61" y="340.86" width="6.57" height="14.54" fill="#4f9fa0"/>
<rect x="432.94" y="340.86" width="6.57" height="14.54" fill="#41839b"/>
<rect x="439.26" y="340.86" width="6.57" height="14.54" fill="#41839b"/>
<rect x="445.59" y="340.86" width="6.57" height="14.54" fill="#41839b"/>
<rect x="451.91" y="340.86" width="6.57" height="14.54" fill="#4f9fa0"/>
<rect x="458.23" y="340.86" width="6.57" height="14.54" fill="#41839b"/>
<rect x="464.56" y="340.86" width="6.57" height="14.54" fill="#3d6899"/>
<rect x="470.88" y="340.86" width="6.57" height="14.54" fill="#4f9fa0"/>
<rect x="477.20" y="340.86" width="6.57" height="14.54" fill="#41839b"/>
<rect x="483.53" y="340.86" width="6.57" height="14.54" fill="#41839b"/>
<rect x="489.85" y="340.86" width="6.57" height="14.54" fill="#4f9fa0"/>
<rect x="496.18" y="340.86" width="6.57" height="14.54" fill="#4f9fa0"/>
<rect x="502.50" y="340.86" width="6.57" height="14.54" fill="#5fb6a3"/>
<rect x="508.82" y="340.86" width="6.57" height="14.54" fill="#4f9fa0"/>
<rect x="515.15" y="340.86" width="6.57" height="14.54" fill="#4f9fa0"/>
<rect x="521.47" y="340.86" width="6.57" height="14.54" fill="#86cfa4"/>
<rect x="527.80" y="340.86" width="6.57" height="14.54" fill="#41839b"/>
<rect x="534.12" y="340.86" width="6.57" height="14.54" fill="#5fb6a3"/>
<rect x="540.44" y="340.86" width="6.57" height="14.54" fill="#5fb6a3"/>
<rect x="546.77" y="340.86" width="6.57" height="14.54" fill="#5fb6a3"/>
<rect x="553.09" y="340.86" width="6.57" height="14.54" fill="#5fb6a3"/>
<rect x="559.41" y="340.86" width="6.57" height="14.54" fill="#86cfa4"/>
<rect x="565.74" y="340.86" width="6.57" height="14.54" fill="#c5e6b0"/>
<rect x="572.06" y="340.86" width="6.57" height="14.54" fill="#5fb6a3"/>
<rect x="578.39" y="340.86" width="6.57" height="14.54" fill="#86cfa4"/>
<rect x="584.71" y="340.86" width="6.57" height="14.54" fill="#5fb6a3"/>
<rect x="591.03" y="340.86" width="6.57" height="14.54" fill="#c5e6b0"/>
<rect x="597.36" y="340.86" width="6.57" height="14.54" fill="#86cfa4"/>
<rect x="603.68" y="340.86" width="6.57" height="14.54" fill="#86cfa4"/>
<rect x="610.00" y="340.86" width="6.57" height="14.54" fill="#86cfa4"/>
<rect x="616.33" y="340.86" width="6.57" height="14.54" fill="#c5e6b0"/>
<rect x="622.65" y="340.86" width="6.57" height="14.54" fill="#86cfa4"/>
<rect x="628.98" y="340.86" width="6.32" height="14.54" fill="#fdfecc"/>
</g>
<path d="M369.80 210.00V355.40M376.12 210.00V355.40M382.45 210.00V355.40M388.77 210.00V355.40M395.10 210.00V355.40M401.42 210.00V355.40M407.74 210.00V355.40M414.07 210.00V355.40M420.39 210.00V355.40M426.71 210.00V355.40M433.04 210.00V355.40M439.36 210.00V355.40M445.69 210.00V355.40M452.01 210.00V355.40M458.33 210.00V355.40M464.66 210.00V355.40M470.98 210.00V355.40M477.30 210.00V355.40M483.63 210.00V355.40M489.95 210.00V355.40M496.28 210.00V355.40M502.60 210.00V355.40M508.92 210.00V355.40M515.25 210.00V355.40M521.57 210.00V355.40M527.90 210.00V355.40M534.22 210.00V355.40M540.54 210.00V355.40M546.87 210.00V355.40M553.19 210.00V355.40M559.51 210.00V355.40M565.84 210.00V355.40M572.16 210.00V355.40M578.49 210.00V355.40M584.81 210.00V355.40M591.13 210.00V355.40M597.46 210.00V355.40M603.78 210.00V355.40M610.10 210.00V355.40M616.43 210.00V355.40M622.75 210.00V355.40M629.08 210.00V355.40M369.70 224.64H635.30M369.70 239.18H635.30M369.70 253.72H635.30M369.70 268.26H635.30M369.70 282.80H635.30M369.70 297.34H635.30M369.70 311.88H635.30M369.70 326.42H635.30M369.70 340.96H635.30M369.70 355.40H635.30" stroke="#000" stroke-opacity="0.84" stroke-width="0.66" fill="none"/>
<path d="M369.70 210.00H635.30V355.40" stroke="#000" stroke-opacity="0.6" stroke-width="0.55" fill="none"/>
<text x="366.20" y="212.80" font-size="8.4" text-anchor="end" >0</text>
<text x="366.00" y="241.88" font-size="8.4" text-anchor="end" letter-spacing="-0.2"><tspan font-size="5.9" dy="-0.5" letter-spacing="0.5">−</tspan><tspan dy="0.5">2</tspan></text>
<text x="366.00" y="270.96" font-size="8.4" text-anchor="end" letter-spacing="-0.2"><tspan font-size="5.9" dy="-0.5" letter-spacing="0.5">−</tspan><tspan dy="0.5">4</tspan></text>
<text x="366.00" y="300.04" font-size="8.4" text-anchor="end" letter-spacing="-0.2"><tspan font-size="5.9" dy="-0.5" letter-spacing="0.5">−</tspan><tspan dy="0.5">6</tspan></text>
<text x="366.00" y="329.12" font-size="8.4" text-anchor="end" letter-spacing="-0.2"><tspan font-size="5.9" dy="-0.5" letter-spacing="0.5">−</tspan><tspan dy="0.5">8</tspan></text>
<text x="365.40" y="358.20" font-size="8.4" text-anchor="end" letter-spacing="-0.8"><tspan font-size="5.9" dy="-0.5" letter-spacing="0.5">−</tspan><tspan dy="0.5">10</tspan></text>
<text x="432.64" y="366.00" font-size="8.4" text-anchor="middle" letter-spacing="-0.6">1990</text>
<text x="496.18" y="366.00" font-size="8.4" text-anchor="middle" >2000</text>
<text x="559.29" y="366.00" font-size="8.4" text-anchor="middle" letter-spacing="-0.25">2010</text>
<text x="622.65" y="366.00" font-size="8.4" text-anchor="middle" >2020</text>
<text x="502.50" y="377.90" font-size="8.9" text-anchor="middle" font-weight="normal" >Year</text>
<text class="pl" transform="translate(370.00,204.60) scale(1.04,1)" font-size="11.6" font-weight="bold">f</text>
<rect x="641.7" y="332.85" width="11.3" height="11.75" fill="#281a2c"/>
<rect x="641.7" y="321.10" width="11.3" height="12.05" fill="#3a2e5c"/>
<rect x="641.7" y="309.35" width="11.3" height="12.05" fill="#3f4486"/>
<rect x="641.7" y="297.60" width="11.3" height="12.05" fill="#3d6899"/>
<rect x="641.7" y="285.85" width="11.3" height="12.05" fill="#41839b"/>
<rect x="641.7" y="274.10" width="11.3" height="12.05" fill="#4f9fa0"/>
<rect x="641.7" y="262.35" width="11.3" height="12.05" fill="#5fb6a3"/>
<rect x="641.7" y="250.60" width="11.3" height="12.05" fill="#86cfa4"/>
<rect x="641.7" y="238.85" width="11.3" height="12.05" fill="#c5e6b0"/>
<rect x="641.7" y="227.10" width="11.3" height="12.05" fill="#fdfecc"/>
<rect x="641.7" y="227.1" width="11.3" height="117.5" fill="none" stroke="#333" stroke-width="0.55"/>
<line x1="651.7" y1="344.6" x2="653.0" y2="344.6" stroke="#444" stroke-width="0.5"/>
<text x="656.40" y="348.40" font-size="8.4" text-anchor="start" >5</text>
<line x1="651.7" y1="315.2" x2="653.0" y2="315.2" stroke="#444" stroke-width="0.5"/>
<text x="656.40" y="319.03" font-size="8.4" text-anchor="start" letter-spacing="-0.8">10</text>
<line x1="651.7" y1="285.9" x2="653.0" y2="285.9" stroke="#444" stroke-width="0.5"/>
<text x="656.40" y="289.65" font-size="8.4" text-anchor="start" letter-spacing="-0.8">15</text>
<line x1="651.7" y1="256.5" x2="653.0" y2="256.5" stroke="#444" stroke-width="0.5"/>
<text x="656.40" y="260.28" font-size="8.4" text-anchor="start" letter-spacing="-0.2">20</text>
<line x1="651.7" y1="227.1" x2="653.0" y2="227.1" stroke="#444" stroke-width="0.5"/>
<text x="656.40" y="230.90" font-size="8.4" text-anchor="start" letter-spacing="-0.2">25</text>
<text transform="translate(671.7,286.4) rotate(90)" font-size="8.9" text-anchor="middle" letter-spacing="0.12">Average duration (days)</text>
</g>
<g class="panel" id="panel-g">
<g>
<rect x="27.30" y="391.40" width="6.57" height="14.79" fill="#4933a5"/>
<rect x="33.62" y="391.40" width="6.57" height="14.79" fill="#4933a5"/>
<rect x="39.95" y="391.40" width="6.57" height="14.79" fill="#12316f"/>
<rect x="46.27" y="391.40" width="6.57" height="14.79" fill="#042333"/>
<rect x="52.60" y="391.40" width="6.57" height="14.79" fill="#12316f"/>
<rect x="58.92" y="391.40" width="6.57" height="14.79" fill="#12316f"/>
<rect x="65.24" y="391.40" width="6.57" height="14.79" fill="#4933a5"/>
<rect x="71.57" y="391.40" width="6.57" height="14.79" fill="#4933a5"/>
<rect x="77.89" y="391.40" width="6.57" height="14.79" fill="#6f4696"/>
<rect x="84.21" y="391.40" width="6.57" height="14.79" fill="#6f4696"/>
<rect x="90.54" y="391.40" width="6.57" height="14.79" fill="#4933a5"/>
<rect x="96.86" y="391.40" width="6.57" height="14.79" fill="#985a91"/>
<rect x="103.19" y="391.40" width="6.57" height="14.79" fill="#4933a5"/>
<rect x="109.51" y="391.40" width="6.57" height="14.79" fill="#6f4696"/>
<rect x="115.83" y="391.40" width="6.57" height="14.79" fill="#6f4696"/>
<rect x="122.16" y="391.40" width="6.57" height="14.79" fill="#12316f"/>
<rect x="128.48" y="391.40" width="6.57" height="14.79" fill="#6f4696"/>
<rect x="134.80" y="391.40" width="6.57" height="14.79" fill="#6f4696"/>
<rect x="141.13" y="391.40" width="6.57" height="14.79" fill="#985a91"/>
<rect x="147.45" y="391.40" width="6.57" height="14.79" fill="#985a91"/>
<rect x="153.78" y="391.40" width="6.57" height="14.79" fill="#c2647f"/>
<rect x="160.10" y="391.40" width="6.57" height="14.79" fill="#e87a60"/>
<rect x="166.42" y="391.40" width="6.57" height="14.79" fill="#c2647f"/>
<rect x="172.75" y="391.40" width="6.57" height="14.79" fill="#c2647f"/>
<rect x="179.07" y="391.40" width="6.57" height="14.79" fill="#e87a60"/>
<rect x="185.40" y="391.40" width="6.57" height="14.79" fill="#fb9b3d"/>
<rect x="191.72" y="391.40" width="6.57" height="14.79" fill="#985a91"/>
<rect x="198.04" y="391.40" width="6.57" height="14.79" fill="#e87a60"/>
<rect x="204.37" y="391.40" width="6.57" height="14.79" fill="#c2647f"/>
<rect x="210.69" y="391.40" width="6.57" height="14.79" fill="#e87a60"/>
<rect x="217.01" y="391.40" width="6.57" height="14.79" fill="#f9c740"/>
<rect x="223.34" y="391.40" width="6.57" height="14.79" fill="#fb9b3d"/>
<rect x="229.66" y="391.40" width="6.57" height="14.79" fill="#e87a60"/>
<rect x="235.99" y="391.40" width="6.57" height="14.79" fill="#fb9b3d"/>
<rect x="242.31" y="391.40" width="6.57" height="14.79" fill="#fb9b3d"/>
<rect x="248.63" y="391.40" width="6.57" height="14.79" fill="#e8fa5b"/>
<rect x="254.96" y="391.40" width="6.57" height="14.79" fill="#f9c740"/>
<rect x="261.28" y="391.40" width="6.57" height="14.79" fill="#f9c740"/>
<rect x="267.60" y="391.40" width="6.57" height="14.79" fill="#fb9b3d"/>
<rect x="273.93" y="391.40" width="6.57" height="14.79" fill="#f9c740"/>
<rect x="280.25" y="391.40" width="6.57" height="14.79" fill="#fb9b3d"/>
<rect x="286.58" y="391.40" width="6.32" height="14.79" fill="#fb9b3d"/>
<rect x="27.30" y="405.94" width="6.57" height="14.79" fill="#4933a5"/>
<rect x="33.62" y="405.94" width="6.57" height="14.79" fill="#4933a5"/>
<rect x="39.95" y="405.94" width="6.57" height="14.79" fill="#12316f"/>
<rect x="46.27" y="405.94" width="6.57" height="14.79" fill="#042333"/>
<rect x="52.60" y="405.94" width="6.57" height="14.79" fill="#12316f"/>
<rect x="58.92" y="405.94" width="6.57" height="14.79" fill="#12316f"/>
<rect x="65.24" y="405.94" width="6.57" height="14.79" fill="#4933a5"/>
<rect x="71.57" y="405.94" width="6.57" height="14.79" fill="#4933a5"/>
<rect x="77.89" y="405.94" width="6.57" height="14.79" fill="#6f4696"/>
<rect x="84.21" y="405.94" width="6.57" height="14.79" fill="#4933a5"/>
<rect x="90.54" y="405.94" width="6.57" height="14.79" fill="#4933a5"/>
<rect x="96.86" y="405.94" width="6.57" height="14.79" fill="#985a91"/>
<rect x="103.19" y="405.94" width="6.57" height="14.79" fill="#4933a5"/>
<rect x="109.51" y="405.94" width="6.57" height="14.79" fill="#6f4696"/>
<rect x="115.83" y="405.94" width="6.57" height="14.79" fill="#6f4696"/>
<rect x="122.16" y="405.94" width="6.57" height="14.79" fill="#12316f"/>
<rect x="128.48" y="405.94" width="6.57" height="14.79" fill="#6f4696"/>
<rect x="134.80" y="405.94" width="6.57" height="14.79" fill="#6f4696"/>
<rect x="141.13" y="405.94" width="6.57" height="14.79" fill="#985a91"/>
<rect x="147.45" y="405.94" width="6.57" height="14.79" fill="#985a91"/>
<rect x="153.78" y="405.94" width="6.57" height="14.79" fill="#c2647f"/>
<rect x="160.10" y="405.94" width="6.57" height="14.79" fill="#e87a60"/>
<rect x="166.42" y="405.94" width="6.57" height="14.79" fill="#c2647f"/>
<rect x="172.75" y="405.94" width="6.57" height="14.79" fill="#c2647f"/>
<rect x="179.07" y="405.94" width="6.57" height="14.79" fill="#e87a60"/>
<rect x="185.40" y="405.94" width="6.57" height="14.79" fill="#fb9b3d"/>
<rect x="191.72" y="405.94" width="6.57" height="14.79" fill="#985a91"/>
<rect x="198.04" y="405.94" width="6.57" height="14.79" fill="#e87a60"/>
<rect x="204.37" y="405.94" width="6.57" height="14.79" fill="#c2647f"/>
<rect x="210.69" y="405.94" width="6.57" height="14.79" fill="#e87a60"/>
<rect x="217.01" y="405.94" width="6.57" height="14.79" fill="#f9c740"/>
<rect x="223.34" y="405.94" width="6.57" height="14.79" fill="#fb9b3d"/>
<rect x="229.66" y="405.94" width="6.57" height="14.79" fill="#e87a60"/>
<rect x="235.99" y="405.94" width="6.57" height="14.79" fill="#fb9b3d"/>
<rect x="242.31" y="405.94" width="6.57" height="14.79" fill="#fb9b3d"/>
<rect x="248.63" y="405.94" width="6.57" height="14.79" fill="#e8fa5b"/>
<rect x="254.96" y="405.94" width="6.57" height="14.79" fill="#f9c740"/>
<rect x="261.28" y="405.94" width="6.57" height="14.79" fill="#f9c740"/>
<rect x="267.60" y="405.94" width="6.57" height="14.79" fill="#fb9b3d"/>
<rect x="273.93" y="405.94" width="6.57" height="14.79" fill="#f9c740"/>
<rect x="280.25" y="405.94" width="6.57" height="14.79" fill="#fb9b3d"/>
<rect x="286.58" y="405.94" width="6.32" height="14.79" fill="#fb9b3d"/>
<rect x="27.30" y="420.48" width="6.57" height="14.79" fill="#4933a5"/>
<rect x="33.62" y="420.48" width="6.57" height="14.79" fill="#4933a5"/>
<rect x="39.95" y="420.48" width="6.57" height="14.79" fill="#12316f"/>
<rect x="46.27" y="420.48" width="6.57" height="14.79" fill="#042333"/>
<rect x="52.60" y="420.48" width="6.57" height="14.79" fill="#12316f"/>
<rect x="58.92" y="420.48" width="6.57" height="14.79" fill="#12316f"/>
<rect x="65.24" y="420.48" width="6.57" height="14.79" fill="#4933a5"/>
<rect x="71.57" y="420.48" width="6.57" height="14.79" fill="#4933a5"/>
<rect x="77.89" y="420.48" width="6.57" height="14.79" fill="#6f4696"/>
<rect x="84.21" y="420.48" width="6.57" height="14.79" fill="#4933a5"/>
<rect x="90.54" y="420.48" width="6.57" height="14.79" fill="#4933a5"/>
<rect x="96.86" y="420.48" width="6.57" height="14.79" fill="#6f4696"/>
<rect x="103.19" y="420.48" width="6.57" height="14.79" fill="#4933a5"/>
<rect x="109.51" y="420.48" width="6.57" height="14.79" fill="#6f4696"/>
<rect x="115.83" y="420.48" width="6.57" height="14.79" fill="#6f4696"/>
<rect x="122.16" y="420.48" width="6.57" height="14.79" fill="#12316f"/>
<rect x="128.48" y="420.48" width="6.57" height="14.79" fill="#6f4696"/>
<rect x="134.80" y="420.48" width="6.57" height="14.79" fill="#6f4696"/>
<rect x="141.13" y="420.48" width="6.57" height="14.79" fill="#985a91"/>
<rect x="147.45" y="420.48" width="6.57" height="14.79" fill="#985a91"/>
<rect x="153.78" y="420.48" width="6.57" height="14.79" fill="#c2647f"/>
<rect x="160.10" y="420.48" width="6.57" height="14.79" fill="#e87a60"/>
<rect x="166.42" y="420.48" width="6.57" height="14.79" fill="#c2647f"/>
<rect x="172.75" y="420.48" width="6.57" height="14.79" fill="#c2647f"/>
<rect x="179.07" y="420.48" width="6.57" height="14.79" fill="#c2647f"/>
<rect x="185.40" y="420.48" width="6.57" height="14.79" fill="#fb9b3d"/>
<rect x="191.72" y="420.48" width="6.57" height="14.79" fill="#985a91"/>
<rect x="198.04" y="420.48" width="6.57" height="14.79" fill="#e87a60"/>
<rect x="204.37" y="420.48" width="6.57" height="14.79" fill="#c2647f"/>
<rect x="210.69" y="420.48" width="6.57" height="14.79" fill="#e87a60"/>
<rect x="217.01" y="420.48" width="6.57" height="14.79" fill="#f9c740"/>
<rect x="223.34" y="420.48" width="6.57" height="14.79" fill="#fb9b3d"/>
<rect x="229.66" y="420.48" width="6.57" height="14.79" fill="#e87a60"/>
<rect x="235.99" y="420.48" width="6.57" height="14.79" fill="#fb9b3d"/>
<rect x="242.31" y="420.48" width="6.57" height="14.79" fill="#fb9b3d"/>
<rect x="248.63" y="420.48" width="6.57" height="14.79" fill="#e8fa5b"/>
<rect x="254.96" y="420.48" width="6.57" height="14.79" fill="#f9c740"/>
<rect x="261.28" y="420.48" width="6.57" height="14.79" fill="#f9c740"/>
<rect x="267.60" y="420.48" width="6.57" height="14.79" fill="#fb9b3d"/>
<rect x="273.93" y="420.48" width="6.57" height="14.79" fill="#f9c740"/>
<rect x="280.25" y="420.48" width="6.57" height="14.79" fill="#fb9b3d"/>
<rect x="286.58" y="420.48" width="6.32" height="14.79" fill="#fb9b3d"/>
<rect x="27.30" y="435.02" width="6.57" height="14.79" fill="#4933a5"/>
<rect x="33.62" y="435.02" width="6.57" height="14.79" fill="#4933a5"/>
<rect x="39.95" y="435.02" width="6.57" height="14.79" fill="#12316f"/>
<rect x="46.27" y="435.02" width="6.57" height="14.79" fill="#042333"/>
<rect x="52.60" y="435.02" width="6.57" height="14.79" fill="#12316f"/>
<rect x="58.92" y="435.02" width="6.57" height="14.79" fill="#042333"/>
<rect x="65.24" y="435.02" width="6.57" height="14.79" fill="#4933a5"/>
<rect x="71.57" y="435.02" width="6.57" height="14.79" fill="#4933a5"/>
<rect x="77.89" y="435.02" width="6.57" height="14.79" fill="#6f4696"/>
<rect x="84.21" y="435.02" width="6.57" height="14.79" fill="#4933a5"/>
<rect x="90.54" y="435.02" width="6.57" height="14.79" fill="#4933a5"/>
<rect x="96.86" y="435.02" width="6.57" height="14.79" fill="#6f4696"/>
<rect x="103.19" y="435.02" width="6.57" height="14.79" fill="#12316f"/>
<rect x="109.51" y="435.02" width="6.57" height="14.79" fill="#6f4696"/>
<rect x="115.83" y="435.02" width="6.57" height="14.79" fill="#4933a5"/>
<rect x="122.16" y="435.02" width="6.57" height="14.79" fill="#12316f"/>
<rect x="128.48" y="435.02" width="6.57" height="14.79" fill="#6f4696"/>
<rect x="134.80" y="435.02" width="6.57" height="14.79" fill="#4933a5"/>
<rect x="141.13" y="435.02" width="6.57" height="14.79" fill="#6f4696"/>
<rect x="147.45" y="435.02" width="6.57" height="14.79" fill="#985a91"/>
<rect x="153.78" y="435.02" width="6.57" height="14.79" fill="#985a91"/>
<rect x="160.10" y="435.02" width="6.57" height="14.79" fill="#c2647f"/>
<rect x="166.42" y="435.02" width="6.57" height="14.79" fill="#c2647f"/>
<rect x="172.75" y="435.02" width="6.57" height="14.79" fill="#985a91"/>
<rect x="179.07" y="435.02" width="6.57" height="14.79" fill="#c2647f"/>
<rect x="185.40" y="435.02" width="6.57" height="14.79" fill="#fb9b3d"/>
<rect x="191.72" y="435.02" width="6.57" height="14.79" fill="#6f4696"/>
<rect x="198.04" y="435.02" width="6.57" height="14.79" fill="#c2647f"/>
<rect x="204.37" y="435.02" width="6.57" height="14.79" fill="#c2647f"/>
<rect x="210.69" y="435.02" width="6.57" height="14.79" fill="#c2647f"/>
<rect x="217.01" y="435.02" width="6.57" height="14.79" fill="#f9c740"/>
<rect x="223.34" y="435.02" width="6.57" height="14.79" fill="#fb9b3d"/>
<rect x="229.66" y="435.02" width="6.57" height="14.79" fill="#e87a60"/>
<rect x="235.99" y="435.02" width="6.57" height="14.79" fill="#fb9b3d"/>
<rect x="242.31" y="435.02" width="6.57" height="14.79" fill="#e87a60"/>
<rect x="248.63" y="435.02" width="6.57" height="14.79" fill="#f9c740"/>
<rect x="254.96" y="435.02" width="6.57" height="14.79" fill="#fb9b3d"/>
<rect x="261.28" y="435.02" width="6.57" height="14.79" fill="#f9c740"/>
<rect x="267.60" y="435.02" width="6.57" height="14.79" fill="#fb9b3d"/>
<rect x="273.93" y="435.02" width="6.57" height="14.79" fill="#fb9b3d"/>
<rect x="280.25" y="435.02" width="6.57" height="14.79" fill="#fb9b3d"/>
<rect x="286.58" y="435.02" width="6.32" height="14.79" fill="#fb9b3d"/>
<rect x="27.30" y="449.56" width="6.57" height="14.79" fill="#12316f"/>
<rect x="33.62" y="449.56" width="6.57" height="14.79" fill="#12316f"/>
<rect x="39.95" y="449.56" width="6.57" height="14.79" fill="#12316f"/>
<rect x="46.27" y="449.56" width="6.57" height="14.79" fill="#042333"/>
<rect x="52.60" y="449.56" width="6.57" height="14.79" fill="#12316f"/>
<rect x="58.92" y="449.56" width="6.57" height="14.79" fill="#042333"/>
<rect x="65.24" y="449.56" width="6.57" height="14.79" fill="#12316f"/>
<rect x="71.57" y="449.56" width="6.57" height="14.79" fill="#12316f"/>
<rect x="77.89" y="449.56" width="6.57" height="14.79" fill="#4933a5"/>
<rect x="84.21" y="449.56" width="6.57" height="14.79" fill="#12316f"/>
<rect x="90.54" y="449.56" width="6.57" height="14.79" fill="#4933a5"/>
<rect x="96.86" y="449.56" width="6.57" height="14.79" fill="#6f4696"/>
<rect x="103.19" y="449.56" width="6.57" height="14.79" fill="#12316f"/>
<rect x="109.51" y="449.56" width="6.57" height="14.79" fill="#4933a5"/>
<rect x="115.83" y="449.56" width="6.57" height="14.79" fill="#4933a5"/>
<rect x="122.16" y="449.56" width="6.57" height="14.79" fill="#12316f"/>
<rect x="128.48" y="449.56" width="6.57" height="14.79" fill="#6f4696"/>
<rect x="134.80" y="449.56" width="6.57" height="14.79" fill="#4933a5"/>
<rect x="141.13" y="449.56" width="6.57" height="14.79" fill="#6f4696"/>
<rect x="147.45" y="449.56" width="6.57" height="14.79" fill="#6f4696"/>
<rect x="153.78" y="449.56" width="6.57" height="14.79" fill="#985a91"/>
<rect x="160.10" y="449.56" width="6.57" height="14.79" fill="#c2647f"/>
<rect x="166.42" y="449.56" width="6.57" height="14.79" fill="#985a91"/>
<rect x="172.75" y="449.56" width="6.57" height="14.79" fill="#985a91"/>
<rect x="179.07" y="449.56" width="6.57" height="14.79" fill="#985a91"/>
<rect x="185.40" y="449.56" width="6.57" height="14.79" fill="#e87a60"/>
<rect x="191.72" y="449.56" width="6.57" height="14.79" fill="#6f4696"/>
<rect x="198.04" y="449.56" width="6.57" height="14.79" fill="#c2647f"/>
<rect x="204.37" y="449.56" width="6.57" height="14.79" fill="#985a91"/>
<rect x="210.69" y="449.56" width="6.57" height="14.79" fill="#c2647f"/>
<rect x="217.01" y="449.56" width="6.57" height="14.79" fill="#fb9b3d"/>
<rect x="223.34" y="449.56" width="6.57" height="14.79" fill="#e87a60"/>
<rect x="229.66" y="449.56" width="6.57" height="14.79" fill="#c2647f"/>
<rect x="235.99" y="449.56" width="6.57" height="14.79" fill="#e87a60"/>
<rect x="242.31" y="449.56" width="6.57" height="14.79" fill="#e87a60"/>
<rect x="248.63" y="449.56" width="6.57" height="14.79" fill="#fb9b3d"/>
<rect x="254.96" y="449.56" width="6.57" height="14.79" fill="#fb9b3d"/>
<rect x="261.28" y="449.56" width="6.57" height="14.79" fill="#fb9b3d"/>
<rect x="267.60" y="449.56" width="6.57" height="14.79" fill="#e87a60"/>
<rect x="273.93" y="449.56" width="6.57" height="14.79" fill="#fb9b3d"/>
<rect x="280.25" y="449.56" width="6.57" height="14.79" fill="#e87a60"/>
<rect x="286.58" y="449.56" width="6.32" height="14.79" fill="#e87a60"/>
<rect x="27.30" y="464.10" width="6.57" height="14.79" fill="#12316f"/>
<rect x="33.62" y="464.10" width="6.57" height="14.79" fill="#12316f"/>
<rect x="39.95" y="464.10" width="6.57" height="14.79" fill="#042333"/>
<rect x="46.27" y="464.10" width="6.57" height="14.79" fill="#042333"/>
<rect x="52.60" y="464.10" width="6.57" height="14.79" fill="#12316f"/>
<rect x="58.92" y="464.10" width="6.57" height="14.79" fill="#042333"/>
<rect x="65.24" y="464.10" width="6.57" height="14.79" fill="#12316f"/>
<rect x="71.57" y="464.10" width="6.57" height="14.79" fill="#12316f"/>
<rect x="77.89" y="464.10" width="6.57" height="14.79" fill="#4933a5"/>
<rect x="84.21" y="464.10" width="6.57" height="14.79" fill="#12316f"/>
<rect x="90.54" y="464.10" width="6.57" height="14.79" fill="#12316f"/>
<rect x="96.86" y="464.10" width="6.57" height="14.79" fill="#4933a5"/>
<rect x="103.19" y="464.10" width="6.57" height="14.79" fill="#042333"/>
<rect x="109.51" y="464.10" width="6.57" height="14.79" fill="#12316f"/>
<rect x="115.83" y="464.10" width="6.57" height="14.79" fill="#12316f"/>
<rect x="122.16" y="464.10" width="6.57" height="14.79" fill="#042333"/>
<rect x="128.48" y="464.10" width="6.57" height="14.79" fill="#4933a5"/>
<rect x="134.80" y="464.10" width="6.57" height="14.79" fill="#12316f"/>
<rect x="141.13" y="464.10" width="6.57" height="14.79" fill="#4933a5"/>
<rect x="147.45" y="464.10" width="6.57" height="14.79" fill="#6f4696"/>
<rect x="153.78" y="464.10" width="6.57" height="14.79" fill="#6f4696"/>
<rect x="160.10" y="464.10" width="6.57" height="14.79" fill="#985a91"/>
<rect x="166.42" y="464.10" width="6.57" height="14.79" fill="#985a91"/>
<rect x="172.75" y="464.10" width="6.57" height="14.79" fill="#6f4696"/>
<rect x="179.07" y="464.10" width="6.57" height="14.79" fill="#985a91"/>
<rect x="185.40" y="464.10" width="6.57" height="14.79" fill="#c2647f"/>
<rect x="191.72" y="464.10" width="6.57" height="14.79" fill="#4933a5"/>
<rect x="198.04" y="464.10" width="6.57" height="14.79" fill="#985a91"/>
<rect x="204.37" y="464.10" width="6.57" height="14.79" fill="#985a91"/>
<rect x="210.69" y="464.10" width="6.57" height="14.79" fill="#985a91"/>
<rect x="217.01" y="464.10" width="6.57" height="14.79" fill="#e87a60"/>
<rect x="223.34" y="464.10" width="6.57" height="14.79" fill="#c2647f"/>
<rect x="229.66" y="464.10" width="6.57" height="14.79" fill="#985a91"/>
<rect x="235.99" y="464.10" width="6.57" height="14.79" fill="#e87a60"/>
<rect x="242.31" y="464.10" width="6.57" height="14.79" fill="#c2647f"/>
<rect x="248.63" y="464.10" width="6.57" height="14.79" fill="#e87a60"/>
<rect x="254.96" y="464.10" width="6.57" height="14.79" fill="#e87a60"/>
<rect x="261.28" y="464.10" width="6.57" height="14.79" fill="#e87a60"/>
<rect x="267.60" y="464.10" width="6.57" height="14.79" fill="#c2647f"/>
<rect x="273.93" y="464.10" width="6.57" height="14.79" fill="#e87a60"/>
<rect x="280.25" y="464.10" width="6.57" height="14.79" fill="#c2647f"/>
<rect x="286.58" y="464.10" width="6.32" height="14.79" fill="#e87a60"/>
<rect x="27.30" y="478.64" width="6.57" height="14.79" fill="#12316f"/>
<rect x="33.62" y="478.64" width="6.57" height="14.79" fill="#12316f"/>
<rect x="39.95" y="478.64" width="6.57" height="14.79" fill="#042333"/>
<rect x="46.27" y="478.64" width="6.57" height="14.79" fill="#042333"/>
<rect x="52.60" y="478.64" width="6.57" height="14.79" fill="#042333"/>
<rect x="58.92" y="478.64" width="6.57" height="14.79" fill="#042333"/>
<rect x="65.24" y="478.64" width="6.57" height="14.79" fill="#042333"/>
<rect x="71.57" y="478.64" width="6.57" height="14.79" fill="#12316f"/>
<rect x="77.89" y="478.64" width="6.57" height="14.79" fill="#4933a5"/>
<rect x="84.21" y="478.64" width="6.57" height="14.79" fill="#12316f"/>
<rect x="90.54" y="478.64" width="6.57" height="14.79" fill="#12316f"/>
<rect x="96.86" y="478.64" width="6.57" height="14.79" fill="#4933a5"/>
<rect x="103.19" y="478.64" width="6.57" height="14.79" fill="#042333"/>
<rect x="109.51" y="478.64" width="6.57" height="14.79" fill="#12316f"/>
<rect x="115.83" y="478.64" width="6.57" height="14.79" fill="#12316f"/>
<rect x="122.16" y="478.64" width="6.57" height="14.79" fill="#042333"/>
<rect x="128.48" y="478.64" width="6.57" height="14.79" fill="#4933a5"/>
<rect x="134.80" y="478.64" width="6.57" height="14.79" fill="#12316f"/>
<rect x="141.13" y="478.64" width="6.57" height="14.79" fill="#4933a5"/>
<rect x="147.45" y="478.64" width="6.57" height="14.79" fill="#6f4696"/>
<rect x="153.78" y="478.64" width="6.57" height="14.79" fill="#4933a5"/>
<rect x="160.10" y="478.64" width="6.57" height="14.79" fill="#6f4696"/>
<rect x="166.42" y="478.64" width="6.57" height="14.79" fill="#6f4696"/>
<rect x="172.75" y="478.64" width="6.57" height="14.79" fill="#6f4696"/>
<rect x="179.07" y="478.64" width="6.57" height="14.79" fill="#6f4696"/>
<rect x="185.40" y="478.64" width="6.57" height="14.79" fill="#985a91"/>
<rect x="191.72" y="478.64" width="6.57" height="14.79" fill="#4933a5"/>
<rect x="198.04" y="478.64" width="6.57" height="14.79" fill="#985a91"/>
<rect x="204.37" y="478.64" width="6.57" height="14.79" fill="#985a91"/>
<rect x="210.69" y="478.64" width="6.57" height="14.79" fill="#985a91"/>
<rect x="217.01" y="478.64" width="6.57" height="14.79" fill="#e87a60"/>
<rect x="223.34" y="478.64" width="6.57" height="14.79" fill="#985a91"/>
<rect x="229.66" y="478.64" width="6.57" height="14.79" fill="#985a91"/>
<rect x="235.99" y="478.64" width="6.57" height="14.79" fill="#c2647f"/>
<rect x="242.31" y="478.64" width="6.57" height="14.79" fill="#985a91"/>
<rect x="248.63" y="478.64" width="6.57" height="14.79" fill="#c2647f"/>
<rect x="254.96" y="478.64" width="6.57" height="14.79" fill="#c2647f"/>
<rect x="261.28" y="478.64" width="6.57" height="14.79" fill="#c2647f"/>
<rect x="267.60" y="478.64" width="6.57" height="14.79" fill="#c2647f"/>
<rect x="273.93" y="478.64" width="6.57" height="14.79" fill="#c2647f"/>
<rect x="280.25" y="478.64" width="6.57" height="14.79" fill="#985a91"/>
<rect x="286.58" y="478.64" width="6.32" height="14.79" fill="#c2647f"/>
<rect x="27.30" y="493.18" width="6.57" height="14.79" fill="#12316f"/>
<rect x="33.62" y="493.18" width="6.57" height="14.79" fill="#12316f"/>
<rect x="39.95" y="493.18" width="6.57" height="14.79" fill="#042333"/>
<rect x="46.27" y="493.18" width="6.57" height="14.79" fill="#042333"/>
<rect x="52.60" y="493.18" width="6.57" height="14.79" fill="#042333"/>
<rect x="58.92" y="493.18" width="6.57" height="14.79" fill="#042333"/>
<rect x="65.24" y="493.18" width="6.57" height="14.79" fill="#042333"/>
<rect x="71.57" y="493.18" width="6.57" height="14.79" fill="#12316f"/>
<rect x="77.89" y="493.18" width="6.57" height="14.79" fill="#12316f"/>
<rect x="84.21" y="493.18" width="6.57" height="14.79" fill="#12316f"/>
<rect x="90.54" y="493.18" width="6.57" height="14.79" fill="#12316f"/>
<rect x="96.86" y="493.18" width="6.57" height="14.79" fill="#12316f"/>
<rect x="103.19" y="493.18" width="6.57" height="14.79" fill="#042333"/>
<rect x="109.51" y="493.18" width="6.57" height="14.79" fill="#12316f"/>
<rect x="115.83" y="493.18" width="6.57" height="14.79" fill="#12316f"/>
<rect x="122.16" y="493.18" width="6.57" height="14.79" fill="#042333"/>
<rect x="128.48" y="493.18" width="6.57" height="14.79" fill="#4933a5"/>
<rect x="134.80" y="493.18" width="6.57" height="14.79" fill="#12316f"/>
<rect x="141.13" y="493.18" width="6.57" height="14.79" fill="#4933a5"/>
<rect x="147.45" y="493.18" width="6.57" height="14.79" fill="#4933a5"/>
<rect x="153.78" y="493.18" width="6.57" height="14.79" fill="#4933a5"/>
<rect x="160.10" y="493.18" width="6.57" height="14.79" fill="#6f4696"/>
<rect x="166.42" y="493.18" width="6.57" height="14.79" fill="#6f4696"/>
<rect x="172.75" y="493.18" width="6.57" height="14.79" fill="#6f4696"/>
<rect x="179.07" y="493.18" width="6.57" height="14.79" fill="#6f4696"/>
<rect x="185.40" y="493.18" width="6.57" height="14.79" fill="#6f4696"/>
<rect x="191.72" y="493.18" width="6.57" height="14.79" fill="#4933a5"/>
<rect x="198.04" y="493.18" width="6.57" height="14.79" fill="#6f4696"/>
<rect x="204.37" y="493.18" width="6.57" height="14.79" fill="#6f4696"/>
<rect x="210.69" y="493.18" width="6.57" height="14.79" fill="#6f4696"/>
<rect x="217.01" y="493.18" width="6.57" height="14.79" fill="#c2647f"/>
<rect x="223.34" y="493.18" width="6.57" height="14.79" fill="#985a91"/>
<rect x="229.66" y="493.18" width="6.57" height="14.79" fill="#985a91"/>
<rect x="235.99" y="493.18" width="6.57" height="14.79" fill="#985a91"/>
<rect x="242.31" y="493.18" width="6.57" height="14.79" fill="#6f4696"/>
<rect x="248.63" y="493.18" width="6.57" height="14.79" fill="#c2647f"/>
<rect x="254.96" y="493.18" width="6.57" height="14.79" fill="#985a91"/>
<rect x="261.28" y="493.18" width="6.57" height="14.79" fill="#985a91"/>
<rect x="267.60" y="493.18" width="6.57" height="14.79" fill="#985a91"/>
<rect x="273.93" y="493.18" width="6.57" height="14.79" fill="#c2647f"/>
<rect x="280.25" y="493.18" width="6.57" height="14.79" fill="#985a91"/>
<rect x="286.58" y="493.18" width="6.32" height="14.79" fill="#985a91"/>
<rect x="27.30" y="507.72" width="6.57" height="14.79" fill="#12316f"/>
<rect x="33.62" y="507.72" width="6.57" height="14.79" fill="#12316f"/>
<rect x="39.95" y="507.72" width="6.57" height="14.79" fill="#12316f"/>
<rect x="46.27" y="507.72" width="6.57" height="14.79" fill="#042333"/>
<rect x="52.60" y="507.72" width="6.57" height="14.79" fill="#042333"/>
<rect x="58.92" y="507.72" width="6.57" height="14.79" fill="#042333"/>
<rect x="65.24" y="507.72" width="6.57" height="14.79" fill="#042333"/>
<rect x="71.57" y="507.72" width="6.57" height="14.79" fill="#12316f"/>
<rect x="77.89" y="507.72" width="6.57" height="14.79" fill="#12316f"/>
<rect x="84.21" y="507.72" width="6.57" height="14.79" fill="#12316f"/>
<rect x="90.54" y="507.72" width="6.57" height="14.79" fill="#12316f"/>
<rect x="96.86" y="507.72" width="6.57" height="14.79" fill="#12316f"/>
<rect x="103.19" y="507.72" width="6.57" height="14.79" fill="#042333"/>
<rect x="109.51" y="507.72" width="6.57" height="14.79" fill="#12316f"/>
<rect x="115.83" y="507.72" width="6.57" height="14.79" fill="#12316f"/>
<rect x="122.16" y="507.72" width="6.57" height="14.79" fill="#042333"/>
<rect x="128.48" y="507.72" width="6.57" height="14.79" fill="#4933a5"/>
<rect x="134.80" y="507.72" width="6.57" height="14.79" fill="#12316f"/>
<rect x="141.13" y="507.72" width="6.57" height="14.79" fill="#4933a5"/>
<rect x="147.45" y="507.72" width="6.57" height="14.79" fill="#4933a5"/>
<rect x="153.78" y="507.72" width="6.57" height="14.79" fill="#4933a5"/>
<rect x="160.10" y="507.72" width="6.57" height="14.79" fill="#6f4696"/>
<rect x="166.42" y="507.72" width="6.57" height="14.79" fill="#4933a5"/>
<rect x="172.75" y="507.72" width="6.57" height="14.79" fill="#6f4696"/>
<rect x="179.07" y="507.72" width="6.57" height="14.79" fill="#6f4696"/>
<rect x="185.40" y="507.72" width="6.57" height="14.79" fill="#6f4696"/>
<rect x="191.72" y="507.72" width="6.57" height="14.79" fill="#4933a5"/>
<rect x="198.04" y="507.72" width="6.57" height="14.79" fill="#6f4696"/>
<rect x="204.37" y="507.72" width="6.57" height="14.79" fill="#6f4696"/>
<rect x="210.69" y="507.72" width="6.57" height="14.79" fill="#6f4696"/>
<rect x="217.01" y="507.72" width="6.57" height="14.79" fill="#c2647f"/>
<rect x="223.34" y="507.72" width="6.57" height="14.79" fill="#985a91"/>
<rect x="229.66" y="507.72" width="6.57" height="14.79" fill="#6f4696"/>
<rect x="235.99" y="507.72" width="6.57" height="14.79" fill="#985a91"/>
<rect x="242.31" y="507.72" width="6.57" height="14.79" fill="#6f4696"/>
<rect x="248.63" y="507.72" width="6.57" height="14.79" fill="#985a91"/>
<rect x="254.96" y="507.72" width="6.57" height="14.79" fill="#985a91"/>
<rect x="261.28" y="507.72" width="6.57" height="14.79" fill="#985a91"/>
<rect x="267.60" y="507.72" width="6.57" height="14.79" fill="#985a91"/>
<rect x="273.93" y="507.72" width="6.57" height="14.79" fill="#985a91"/>
<rect x="280.25" y="507.72" width="6.57" height="14.79" fill="#985a91"/>
<rect x="286.58" y="507.72" width="6.32" height="14.79" fill="#985a91"/>
<rect x="27.30" y="522.26" width="6.57" height="14.54" fill="#12316f"/>
<rect x="33.62" y="522.26" width="6.57" height="14.54" fill="#12316f"/>
<rect x="39.95" y="522.26" width="6.57" height="14.54" fill="#12316f"/>
<rect x="46.27" y="522.26" width="6.57" height="14.54" fill="#12316f"/>
<rect x="52.60" y="522.26" width="6.57" height="14.54" fill="#12316f"/>
<rect x="58.92" y="522.26" width="6.57" height="14.54" fill="#12316f"/>
<rect x="65.24" y="522.26" width="6.57" height="14.54" fill="#12316f"/>
<rect x="71.57" y="522.26" width="6.57" height="14.54" fill="#12316f"/>
<rect x="77.89" y="522.26" width="6.57" height="14.54" fill="#4933a5"/>
<rect x="84.21" y="522.26" width="6.57" height="14.54" fill="#12316f"/>
<rect x="90.54" y="522.26" width="6.57" height="14.54" fill="#12316f"/>
<rect x="96.86" y="522.26" width="6.57" height="14.54" fill="#4933a5"/>
<rect x="103.19" y="522.26" width="6.57" height="14.54" fill="#12316f"/>
<rect x="109.51" y="522.26" width="6.57" height="14.54" fill="#12316f"/>
<rect x="115.83" y="522.26" width="6.57" height="14.54" fill="#4933a5"/>
<rect x="122.16" y="522.26" width="6.57" height="14.54" fill="#12316f"/>
<rect x="128.48" y="522.26" width="6.57" height="14.54" fill="#4933a5"/>
<rect x="134.80" y="522.26" width="6.57" height="14.54" fill="#4933a5"/>
<rect x="141.13" y="522.26" width="6.57" height="14.54" fill="#4933a5"/>
<rect x="147.45" y="522.26" width="6.57" height="14.54" fill="#4933a5"/>
<rect x="153.78" y="522.26" width="6.57" height="14.54" fill="#4933a5"/>
<rect x="160.10" y="522.26" width="6.57" height="14.54" fill="#6f4696"/>
<rect x="166.42" y="522.26" width="6.57" height="14.54" fill="#6f4696"/>
<rect x="172.75" y="522.26" width="6.57" height="14.54" fill="#6f4696"/>
<rect x="179.07" y="522.26" width="6.57" height="14.54" fill="#6f4696"/>
<rect x="185.40" y="522.26" width="6.57" height="14.54" fill="#6f4696"/>
<rect x="191.72" y="522.26" width="6.57" height="14.54" fill="#6f4696"/>
<rect x="198.04" y="522.26" width="6.57" height="14.54" fill="#6f4696"/>
<rect x="204.37" y="522.26" width="6.57" height="14.54" fill="#6f4696"/>
<rect x="210.69" y="522.26" width="6.57" height="14.54" fill="#6f4696"/>
<rect x="217.01" y="522.26" width="6.57" height="14.54" fill="#c2647f"/>
<rect x="223.34" y="522.26" width="6.57" height="14.54" fill="#985a91"/>
<rect x="229.66" y="522.26" width="6.57" height="14.54" fill="#985a91"/>
<rect x="235.99" y="522.26" width="6.57" height="14.54" fill="#985a91"/>
<rect x="242.31" y="522.26" width="6.57" height="14.54" fill="#985a91"/>
<rect x="248.63" y="522.26" width="6.57" height="14.54" fill="#c2647f"/>
<rect x="254.96" y="522.26" width="6.57" height="14.54" fill="#985a91"/>
<rect x="261.28" y="522.26" width="6.57" height="14.54" fill="#985a91"/>
<rect x="267.60" y="522.26" width="6.57" height="14.54" fill="#c2647f"/>
<rect x="273.93" y="522.26" width="6.57" height="14.54" fill="#c2647f"/>
<rect x="280.25" y="522.26" width="6.57" height="14.54" fill="#985a91"/>
<rect x="286.58" y="522.26" width="6.32" height="14.54" fill="#985a91"/>
</g>
<path d="M27.40 391.40V536.80M33.72 391.40V536.80M40.05 391.40V536.80M46.37 391.40V536.80M52.70 391.40V536.80M59.02 391.40V536.80M65.34 391.40V536.80M71.67 391.40V536.80M77.99 391.40V536.80M84.31 391.40V536.80M90.64 391.40V536.80M96.96 391.40V536.80M103.29 391.40V536.80M109.61 391.40V536.80M115.93 391.40V536.80M122.26 391.40V536.80M128.58 391.40V536.80M134.90 391.40V536.80M141.23 391.40V536.80M147.55 391.40V536.80M153.88 391.40V536.80M160.20 391.40V536.80M166.52 391.40V536.80M172.85 391.40V536.80M179.17 391.40V536.80M185.50 391.40V536.80M191.82 391.40V536.80M198.14 391.40V536.80M204.47 391.40V536.80M210.79 391.40V536.80M217.11 391.40V536.80M223.44 391.40V536.80M229.76 391.40V536.80M236.09 391.40V536.80M242.41 391.40V536.80M248.73 391.40V536.80M255.06 391.40V536.80M261.38 391.40V536.80M267.70 391.40V536.80M274.03 391.40V536.80M280.35 391.40V536.80M286.68 391.40V536.80M27.30 406.29H292.90M27.30 420.83H292.90M27.30 435.37H292.90M27.30 449.91H292.90M27.30 464.45H292.90M27.30 478.99H292.90M27.30 493.53H292.90M27.30 508.07H292.90M27.30 522.61H292.90M27.30 536.80H292.90" stroke="#000" stroke-opacity="0.84" stroke-width="0.66" fill="none"/>
<path d="M27.30 391.40H292.90V536.80" stroke="#000" stroke-opacity="0.6" stroke-width="0.55" fill="none"/>
<text x="23.80" y="394.20" font-size="8.4" text-anchor="end" >0</text>
<text x="23.60" y="423.28" font-size="8.4" text-anchor="end" letter-spacing="-0.2"><tspan font-size="5.9" dy="-0.5" letter-spacing="0.5">−</tspan><tspan dy="0.5">2</tspan></text>
<text x="23.60" y="452.36" font-size="8.4" text-anchor="end" letter-spacing="-0.2"><tspan font-size="5.9" dy="-0.5" letter-spacing="0.5">−</tspan><tspan dy="0.5">4</tspan></text>
<text x="23.60" y="481.44" font-size="8.4" text-anchor="end" letter-spacing="-0.2"><tspan font-size="5.9" dy="-0.5" letter-spacing="0.5">−</tspan><tspan dy="0.5">6</tspan></text>
<text x="23.60" y="510.52" font-size="8.4" text-anchor="end" letter-spacing="-0.2"><tspan font-size="5.9" dy="-0.5" letter-spacing="0.5">−</tspan><tspan dy="0.5">8</tspan></text>
<text x="23.00" y="539.60" font-size="8.4" text-anchor="end" letter-spacing="-0.8"><tspan font-size="5.9" dy="-0.5" letter-spacing="0.5">−</tspan><tspan dy="0.5">10</tspan></text>
<text x="90.24" y="546.00" font-size="8.4" text-anchor="middle" letter-spacing="-0.6">1990</text>
<text x="153.78" y="546.00" font-size="8.4" text-anchor="middle" >2000</text>
<text x="216.89" y="546.00" font-size="8.4" text-anchor="middle" letter-spacing="-0.25">2010</text>
<text x="280.25" y="546.00" font-size="8.4" text-anchor="middle" >2020</text>
<text x="160.10" y="558.60" font-size="8.9" text-anchor="middle" font-weight="normal" >Year</text>
<text class="pl" transform="translate(26.20,385.45) scale(1.04,1)" font-size="12.8" font-weight="bold">g</text>
<text transform="translate(7.2,463.1) rotate(-90)" font-size="8.9" text-anchor="middle" letter-spacing="0.1">Depth (m)</text>
<rect x="299.3" y="513.41" width="11.6" height="11.59" fill="#042333"/>
<rect x="299.3" y="501.82" width="11.6" height="11.89" fill="#12316f"/>
<rect x="299.3" y="490.23" width="11.6" height="11.89" fill="#4933a5"/>
<rect x="299.3" y="478.64" width="11.6" height="11.89" fill="#6f4696"/>
<rect x="299.3" y="467.05" width="11.6" height="11.89" fill="#985a91"/>
<rect x="299.3" y="455.46" width="11.6" height="11.89" fill="#c2647f"/>
<rect x="299.3" y="443.87" width="11.6" height="11.89" fill="#e87a60"/>
<rect x="299.3" y="432.28" width="11.6" height="11.89" fill="#fb9b3d"/>
<rect x="299.3" y="420.69" width="11.6" height="11.89" fill="#f9c740"/>
<rect x="299.3" y="409.10" width="11.6" height="11.89" fill="#e8fa5b"/>
<rect x="299.3" y="409.1" width="11.6" height="115.9" fill="none" stroke="#333" stroke-width="0.55"/>
<line x1="309.6" y1="525.0" x2="310.9" y2="525.0" stroke="#444" stroke-width="0.5"/>
<text x="313.50" y="528.00" font-size="8.4" text-anchor="start" letter-spacing="-0.15">0.5</text>
<line x1="309.6" y1="496.0" x2="310.9" y2="496.0" stroke="#444" stroke-width="0.5"/>
<text x="313.50" y="499.02" font-size="8.4" text-anchor="start" letter-spacing="-0.8">1</text>
<line x1="309.6" y1="467.1" x2="310.9" y2="467.1" stroke="#444" stroke-width="0.5"/>
<text x="313.50" y="470.05" font-size="8.4" text-anchor="start" letter-spacing="-0.15">1.5</text>
<line x1="309.6" y1="438.1" x2="310.9" y2="438.1" stroke="#444" stroke-width="0.5"/>
<text x="313.50" y="441.08" font-size="8.4" text-anchor="start" >2</text>
<line x1="309.6" y1="409.1" x2="310.9" y2="409.1" stroke="#444" stroke-width="0.5"/>
<text x="313.50" y="412.10" font-size="8.4" text-anchor="start" letter-spacing="-0.15">2.5</text>
<text transform="translate(329.3,467.6) rotate(90)" font-size="8.9" text-anchor="middle" letter-spacing="0.12">Average intensity (°C)</text>
</g>
<g class="panel" id="panel-h">
<g>
<rect x="369.70" y="391.40" width="6.57" height="14.79" fill="#f1edec"/>
<rect x="376.02" y="391.40" width="6.57" height="14.79" fill="#f1edec"/>
<rect x="382.35" y="391.40" width="6.57" height="14.79" fill="#f1edec"/>
<rect x="388.67" y="391.40" width="6.57" height="14.79" fill="#f1edec"/>
<rect x="395.00" y="391.40" width="6.57" height="14.79" fill="#f1edec"/>
<rect x="401.32" y="391.40" width="6.57" height="14.79" fill="#f1edec"/>
<rect x="407.64" y="391.40" width="6.57" height="14.79" fill="#f1edec"/>
<rect x="413.97" y="391.40" width="6.57" height="14.79" fill="#f1edec"/>
<rect x="420.29" y="391.40" width="6.57" height="14.79" fill="#e7cdc6"/>
<rect x="426.61" y="391.40" width="6.57" height="14.79" fill="#f1edec"/>
<rect x="432.94" y="391.40" width="6.57" height="14.79" fill="#f1edec"/>
<rect x="439.26" y="391.40" width="6.57" height="14.79" fill="#e7cdc6"/>
<rect x="445.59" y="391.40" width="6.57" height="14.79" fill="#f1edec"/>
<rect x="451.91" y="391.40" width="6.57" height="14.79" fill="#f1edec"/>
<rect x="458.23" y="391.40" width="6.57" height="14.79" fill="#f1edec"/>
<rect x="464.56" y="391.40" width="6.57" height="14.79" fill="#f1edec"/>
<rect x="470.88" y="391.40" width="6.57" height="14.79" fill="#e7cdc6"/>
<rect x="477.20" y="391.40" width="6.57" height="14.79" fill="#f1edec"/>
<rect x="483.53" y="391.40" width="6.57" height="14.79" fill="#e7cdc6"/>
<rect x="489.85" y="391.40" width="6.57" height="14.79" fill="#e7cdc6"/>
<rect x="496.18" y="391.40" width="6.57" height="14.79" fill="#d58f78"/>
<rect x="502.50" y="391.40" width="6.57" height="14.79" fill="#d58f78"/>
<rect x="508.82" y="391.40" width="6.57" height="14.79" fill="#deae9f"/>
<rect x="515.15" y="391.40" width="6.57" height="14.79" fill="#e7cdc6"/>
<rect x="521.47" y="391.40" width="6.57" height="14.79" fill="#d58f78"/>
<rect x="527.80" y="391.40" width="6.57" height="14.79" fill="#cc6d51"/>
<rect x="534.12" y="391.40" width="6.57" height="14.79" fill="#e7cdc6"/>
<rect x="540.44" y="391.40" width="6.57" height="14.79" fill="#d58f78"/>
<rect x="546.77" y="391.40" width="6.57" height="14.79" fill="#deae9f"/>
<rect x="553.09" y="391.40" width="6.57" height="14.79" fill="#d58f78"/>
<rect x="559.41" y="391.40" width="6.57" height="14.79" fill="#8c1030"/>
<rect x="565.74" y="391.40" width="6.57" height="14.79" fill="#cc6d51"/>
<rect x="572.06" y="391.40" width="6.57" height="14.79" fill="#d58f78"/>
<rect x="578.39" y="391.40" width="6.57" height="14.79" fill="#c34e31"/>
<rect x="584.71" y="391.40" width="6.57" height="14.79" fill="#cc6d51"/>
<rect x="591.03" y="391.40" width="6.57" height="14.79" fill="#ae252a"/>
<rect x="597.36" y="391.40" width="6.57" height="14.79" fill="#c34e31"/>
<rect x="603.68" y="391.40" width="6.57" height="14.79" fill="#ae252a"/>
<rect x="610.00" y="391.40" width="6.57" height="14.79" fill="#c34e31"/>
<rect x="616.33" y="391.40" width="6.57" height="14.79" fill="#c34e31"/>
<rect x="622.65" y="391.40" width="6.57" height="14.79" fill="#c34e31"/>
<rect x="628.98" y="391.40" width="6.32" height="14.79" fill="#ae252a"/>
<rect x="369.70" y="405.94" width="6.57" height="14.79" fill="#deae9f"/>
<rect x="376.02" y="405.94" width="6.57" height="14.79" fill="#e7cdc6"/>
<rect x="382.35" y="405.94" width="6.57" height="14.79" fill="#f1edec"/>
<rect x="388.67" y="405.94" width="6.57" height="14.79" fill="#f1edec"/>
<rect x="395.00" y="405.94" width="6.57" height="14.79" fill="#f1edec"/>
<rect x="401.32" y="405.94" width="6.57" height="14.79" fill="#f1edec"/>
<rect x="407.64" y="405.94" width="6.57" height="14.79" fill="#e7cdc6"/>
<rect x="413.97" y="405.94" width="6.57" height="14.79" fill="#e7cdc6"/>
<rect x="420.29" y="405.94" width="6.57" height="14.79" fill="#d58f78"/>
<rect x="426.61" y="405.94" width="6.57" height="14.79" fill="#deae9f"/>
<rect x="432.94" y="405.94" width="6.57" height="14.79" fill="#e7cdc6"/>
<rect x="439.26" y="405.94" width="6.57" height="14.79" fill="#deae9f"/>
<rect x="445.59" y="405.94" width="6.57" height="14.79" fill="#e7cdc6"/>
<rect x="451.91" y="405.94" width="6.57" height="14.79" fill="#deae9f"/>
<rect x="458.23" y="405.94" width="6.57" height="14.79" fill="#deae9f"/>
<rect x="464.56" y="405.94" width="6.57" height="14.79" fill="#e7cdc6"/>
<rect x="470.88" y="405.94" width="6.57" height="14.79" fill="#deae9f"/>
<rect x="477.20" y="405.94" width="6.57" height="14.79" fill="#e7cdc6"/>
<rect x="483.53" y="405.94" width="6.57" height="14.79" fill="#deae9f"/>
<rect x="489.85" y="405.94" width="6.57" height="14.79" fill="#deae9f"/>
<rect x="496.18" y="405.94" width="6.57" height="14.79" fill="#cc6d51"/>
<rect x="502.50" y="405.94" width="6.57" height="14.79" fill="#cc6d51"/>
<rect x="508.82" y="405.94" width="6.57" height="14.79" fill="#d58f78"/>
<rect x="515.15" y="405.94" width="6.57" height="14.79" fill="#deae9f"/>
<rect x="521.47" y="405.94" width="6.57" height="14.79" fill="#cc6d51"/>
<rect x="527.80" y="405.94" width="6.57" height="14.79" fill="#ae252a"/>
<rect x="534.12" y="405.94" width="6.57" height="14.79" fill="#deae9f"/>
<rect x="540.44" y="405.94" width="6.57" height="14.79" fill="#c34e31"/>
<rect x="546.77" y="405.94" width="6.57" height="14.79" fill="#cc6d51"/>
<rect x="553.09" y="405.94" width="6.57" height="14.79" fill="#cc6d51"/>
<rect x="559.41" y="405.94" width="6.57" height="14.79" fill="#3c0912"/>
<rect x="565.74" y="405.94" width="6.57" height="14.79" fill="#ae252a"/>
<rect x="572.06" y="405.94" width="6.57" height="14.79" fill="#cc6d51"/>
<rect x="578.39" y="405.94" width="6.57" height="14.79" fill="#ae252a"/>
<rect x="584.71" y="405.94" width="6.57" height="14.79" fill="#ae252a"/>
<rect x="591.03" y="405.94" width="6.57" height="14.79" fill="#8c1030"/>
<rect x="597.36" y="405.94" width="6.57" height="14.79" fill="#ae252a"/>
<rect x="603.68" y="405.94" width="6.57" height="14.79" fill="#8c1030"/>
<rect x="610.00" y="405.94" width="6.57" height="14.79" fill="#ae252a"/>
<rect x="616.33" y="405.94" width="6.57" height="14.79" fill="#ae252a"/>
<rect x="622.65" y="405.94" width="6.57" height="14.79" fill="#8c1030"/>
<rect x="628.98" y="405.94" width="6.32" height="14.79" fill="#8c1030"/>
<rect x="369.70" y="420.48" width="6.57" height="14.79" fill="#deae9f"/>
<rect x="376.02" y="420.48" width="6.57" height="14.79" fill="#deae9f"/>
<rect x="382.35" y="420.48" width="6.57" height="14.79" fill="#e7cdc6"/>
<rect x="388.67" y="420.48" width="6.57" height="14.79" fill="#f1edec"/>
<rect x="395.00" y="420.48" width="6.57" height="14.79" fill="#e7cdc6"/>
<rect x="401.32" y="420.48" width="6.57" height="14.79" fill="#f1edec"/>
<rect x="407.64" y="420.48" width="6.57" height="14.79" fill="#e7cdc6"/>
<rect x="413.97" y="420.48" width="6.57" height="14.79" fill="#deae9f"/>
<rect x="420.29" y="420.48" width="6.57" height="14.79" fill="#cc6d51"/>
<rect x="426.61" y="420.48" width="6.57" height="14.79" fill="#deae9f"/>
<rect x="432.94" y="420.48" width="6.57" height="14.79" fill="#e7cdc6"/>
<rect x="439.26" y="420.48" width="6.57" height="14.79" fill="#deae9f"/>
<rect x="445.59" y="420.48" width="6.57" height="14.79" fill="#e7cdc6"/>
<rect x="451.91" y="420.48" width="6.57" height="14.79" fill="#deae9f"/>
<rect x="458.23" y="420.48" width="6.57" height="14.79" fill="#deae9f"/>
<rect x="464.56" y="420.48" width="6.57" height="14.79" fill="#e7cdc6"/>
<rect x="470.88" y="420.48" width="6.57" height="14.79" fill="#d58f78"/>
<rect x="477.20" y="420.48" width="6.57" height="14.79" fill="#e7cdc6"/>
<rect x="483.53" y="420.48" width="6.57" height="14.79" fill="#d58f78"/>
<rect x="489.85" y="420.48" width="6.57" height="14.79" fill="#deae9f"/>
<rect x="496.18" y="420.48" width="6.57" height="14.79" fill="#cc6d51"/>
<rect x="502.50" y="420.48" width="6.57" height="14.79" fill="#cc6d51"/>
<rect x="508.82" y="420.48" width="6.57" height="14.79" fill="#cc6d51"/>
<rect x="515.15" y="420.48" width="6.57" height="14.79" fill="#d58f78"/>
<rect x="521.47" y="420.48" width="6.57" height="14.79" fill="#c34e31"/>
<rect x="527.80" y="420.48" width="6.57" height="14.79" fill="#ae252a"/>
<rect x="534.12" y="420.48" width="6.57" height="14.79" fill="#d58f78"/>
<rect x="540.44" y="420.48" width="6.57" height="14.79" fill="#c34e31"/>
<rect x="546.77" y="420.48" width="6.57" height="14.79" fill="#cc6d51"/>
<rect x="553.09" y="420.48" width="6.57" height="14.79" fill="#cc6d51"/>
<rect x="559.41" y="420.48" width="6.57" height="14.79" fill="#3c0912"/>
<rect x="565.74" y="420.48" width="6.57" height="14.79" fill="#ae252a"/>
<rect x="572.06" y="420.48" width="6.57" height="14.79" fill="#cc6d51"/>
<rect x="578.39" y="420.48" width="6.57" height="14.79" fill="#8c1030"/>
<rect x="584.71" y="420.48" width="6.57" height="14.79" fill="#ae252a"/>
<rect x="591.03" y="420.48" width="6.57" height="14.79" fill="#650f26"/>
<rect x="597.36" y="420.48" width="6.57" height="14.79" fill="#8c1030"/>
<rect x="603.68" y="420.48" width="6.57" height="14.79" fill="#650f26"/>
<rect x="610.00" y="420.48" width="6.57" height="14.79" fill="#ae252a"/>
<rect x="616.33" y="420.48" width="6.57" height="14.79" fill="#8c1030"/>
<rect x="622.65" y="420.48" width="6.57" height="14.79" fill="#8c1030"/>
<rect x="628.98" y="420.48" width="6.32" height="14.79" fill="#650f26"/>
<rect x="369.70" y="435.02" width="6.57" height="14.79" fill="#d58f78"/>
<rect x="376.02" y="435.02" width="6.57" height="14.79" fill="#deae9f"/>
<rect x="382.35" y="435.02" width="6.57" height="14.79" fill="#e7cdc6"/>
<rect x="388.67" y="435.02" width="6.57" height="14.79" fill="#e7cdc6"/>
<rect x="395.00" y="435.02" width="6.57" height="14.79" fill="#e7cdc6"/>
<rect x="401.32" y="435.02" width="6.57" height="14.79" fill="#e7cdc6"/>
<rect x="407.64" y="435.02" width="6.57" height="14.79" fill="#deae9f"/>
<rect x="413.97" y="435.02" width="6.57" height="14.79" fill="#deae9f"/>
<rect x="420.29" y="435.02" width="6.57" height="14.79" fill="#cc6d51"/>
<rect x="426.61" y="435.02" width="6.57" height="14.79" fill="#deae9f"/>
<rect x="432.94" y="435.02" width="6.57" height="14.79" fill="#deae9f"/>
<rect x="439.26" y="435.02" width="6.57" height="14.79" fill="#deae9f"/>
<rect x="445.59" y="435.02" width="6.57" height="14.79" fill="#e7cdc6"/>
<rect x="451.91" y="435.02" width="6.57" height="14.79" fill="#d58f78"/>
<rect x="458.23" y="435.02" width="6.57" height="14.79" fill="#deae9f"/>
<rect x="464.56" y="435.02" width="6.57" height="14.79" fill="#e7cdc6"/>
<rect x="470.88" y="435.02" width="6.57" height="14.79" fill="#d58f78"/>
<rect x="477.20" y="435.02" width="6.57" height="14.79" fill="#e7cdc6"/>
<rect x="483.53" y="435.02" width="6.57" height="14.79" fill="#d58f78"/>
<rect x="489.85" y="435.02" width="6.57" height="14.79" fill="#d58f78"/>
<rect x="496.18" y="435.02" width="6.57" height="14.79" fill="#cc6d51"/>
<rect x="502.50" y="435.02" width="6.57" height="14.79" fill="#c34e31"/>
<rect x="508.82" y="435.02" width="6.57" height="14.79" fill="#cc6d51"/>
<rect x="515.15" y="435.02" width="6.57" height="14.79" fill="#d58f78"/>
<rect x="521.47" y="435.02" width="6.57" height="14.79" fill="#c34e31"/>
<rect x="527.80" y="435.02" width="6.57" height="14.79" fill="#ae252a"/>
<rect x="534.12" y="435.02" width="6.57" height="14.79" fill="#d58f78"/>
<rect x="540.44" y="435.02" width="6.57" height="14.79" fill="#c34e31"/>
<rect x="546.77" y="435.02" width="6.57" height="14.79" fill="#c34e31"/>
<rect x="553.09" y="435.02" width="6.57" height="14.79" fill="#cc6d51"/>
<rect x="559.41" y="435.02" width="6.57" height="14.79" fill="#3c0912"/>
<rect x="565.74" y="435.02" width="6.57" height="14.79" fill="#8c1030"/>
<rect x="572.06" y="435.02" width="6.57" height="14.79" fill="#cc6d51"/>
<rect x="578.39" y="435.02" width="6.57" height="14.79" fill="#8c1030"/>
<rect x="584.71" y="435.02" width="6.57" height="14.79" fill="#8c1030"/>
<rect x="591.03" y="435.02" width="6.57" height="14.79" fill="#3c0912"/>
<rect x="597.36" y="435.02" width="6.57" height="14.79" fill="#8c1030"/>
<rect x="603.68" y="435.02" width="6.57" height="14.79" fill="#650f26"/>
<rect x="610.00" y="435.02" width="6.57" height="14.79" fill="#ae252a"/>
<rect x="616.33" y="435.02" width="6.57" height="14.79" fill="#8c1030"/>
<rect x="622.65" y="435.02" width="6.57" height="14.79" fill="#8c1030"/>
<rect x="628.98" y="435.02" width="6.32" height="14.79" fill="#650f26"/>
<rect x="369.70" y="449.56" width="6.57" height="14.79" fill="#d58f78"/>
<rect x="376.02" y="449.56" width="6.57" height="14.79" fill="#deae9f"/>
<rect x="382.35" y="449.56" width="6.57" height="14.79" fill="#e7cdc6"/>
<rect x="388.67" y="449.56" width="6.57" height="14.79" fill="#e7cdc6"/>
<rect x="395.00" y="449.56" width="6.57" height="14.79" fill="#e7cdc6"/>
<rect x="401.32" y="449.56" width="6.57" height="14.79" fill="#e7cdc6"/>
<rect x="407.64" y="449.56" width="6.57" height="14.79" fill="#deae9f"/>
<rect x="413.97" y="449.56" width="6.57" height="14.79" fill="#deae9f"/>
<rect x="420.29" y="449.56" width="6.57" height="14.79" fill="#cc6d51"/>
<rect x="426.61" y="449.56" width="6.57" height="14.79" fill="#deae9f"/>
<rect x="432.94" y="449.56" width="6.57" height="14.79" fill="#deae9f"/>
<rect x="439.26" y="449.56" width="6.57" height="14.79" fill="#deae9f"/>
<rect x="445.59" y="449.56" width="6.57" height="14.79" fill="#e7cdc6"/>
<rect x="451.91" y="449.56" width="6.57" height="14.79" fill="#deae9f"/>
<rect x="458.23" y="449.56" width="6.57" height="14.79" fill="#deae9f"/>
<rect x="464.56" y="449.56" width="6.57" height="14.79" fill="#e7cdc6"/>
<rect x="470.88" y="449.56" width="6.57" height="14.79" fill="#d58f78"/>
<rect x="477.20" y="449.56" width="6.57" height="14.79" fill="#e7cdc6"/>
<rect x="483.53" y="449.56" width="6.57" height="14.79" fill="#deae9f"/>
<rect x="489.85" y="449.56" width="6.57" height="14.79" fill="#d58f78"/>
<rect x="496.18" y="449.56" width="6.57" height="14.79" fill="#cc6d51"/>
<rect x="502.50" y="449.56" width="6.57" height="14.79" fill="#cc6d51"/>
<rect x="508.82" y="449.56" width="6.57" height="14.79" fill="#cc6d51"/>
<rect x="515.15" y="449.56" width="6.57" height="14.79" fill="#d58f78"/>
<rect x="521.47" y="449.56" width="6.57" height="14.79" fill="#c34e31"/>
<rect x="527.80" y="449.56" width="6.57" height="14.79" fill="#ae252a"/>
<rect x="534.12" y="449.56" width="6.57" height="14.79" fill="#d58f78"/>
<rect x="540.44" y="449.56" width="6.57" height="14.79" fill="#c34e31"/>
<rect x="546.77" y="449.56" width="6.57" height="14.79" fill="#c34e31"/>
<rect x="553.09" y="449.56" width="6.57" height="14.79" fill="#cc6d51"/>
<rect x="559.41" y="449.56" width="6.57" height="14.79" fill="#3c0912"/>
<rect x="565.74" y="449.56" width="6.57" height="14.79" fill="#8c1030"/>
<rect x="572.06" y="449.56" width="6.57" height="14.79" fill="#cc6d51"/>
<rect x="578.39" y="449.56" width="6.57" height="14.79" fill="#8c1030"/>
<rect x="584.71" y="449.56" width="6.57" height="14.79" fill="#8c1030"/>
<rect x="591.03" y="449.56" width="6.57" height="14.79" fill="#3c0912"/>
<rect x="597.36" y="449.56" width="6.57" height="14.79" fill="#8c1030"/>
<rect x="603.68" y="449.56" width="6.57" height="14.79" fill="#650f26"/>
<rect x="610.00" y="449.56" width="6.57" height="14.79" fill="#ae252a"/>
<rect x="616.33" y="449.56" width="6.57" height="14.79" fill="#650f26"/>
<rect x="622.65" y="449.56" width="6.57" height="14.79" fill="#8c1030"/>
<rect x="628.98" y="449.56" width="6.32" height="14.79" fill="#3c0912"/>
<rect x="369.70" y="464.10" width="6.57" height="14.79" fill="#d58f78"/>
<rect x="376.02" y="464.10" width="6.57" height="14.79" fill="#deae9f"/>
<rect x="382.35" y="464.10" width="6.57" height="14.79" fill="#e7cdc6"/>
<rect x="388.67" y="464.10" width="6.57" height="14.79" fill="#e7cdc6"/>
<rect x="395.00" y="464.10" width="6.57" height="14.79" fill="#e7cdc6"/>
<rect x="401.32" y="464.10" width="6.57" height="14.79" fill="#e7cdc6"/>
<rect x="407.64" y="464.10" width="6.57" height="14.79" fill="#deae9f"/>
<rect x="413.97" y="464.10" width="6.57" height="14.79" fill="#deae9f"/>
<rect x="420.29" y="464.10" width="6.57" height="14.79" fill="#cc6d51"/>
<rect x="426.61" y="464.10" width="6.57" height="14.79" fill="#deae9f"/>
<rect x="432.94" y="464.10" width="6.57" height="14.79" fill="#deae9f"/>
<rect x="439.26" y="464.10" width="6.57" height="14.79" fill="#deae9f"/>
<rect x="445.59" y="464.10" width="6.57" height="14.79" fill="#e7cdc6"/>
<rect x="451.91" y="464.10" width="6.57" height="14.79" fill="#deae9f"/>
<rect x="458.23" y="464.10" width="6.57" height="14.79" fill="#deae9f"/>
<rect x="464.56" y="464.10" width="6.57" height="14.79" fill="#e7cdc6"/>
<rect x="470.88" y="464.10" width="6.57" height="14.79" fill="#d58f78"/>
<rect x="477.20" y="464.10" width="6.57" height="14.79" fill="#e7cdc6"/>
<rect x="483.53" y="464.10" width="6.57" height="14.79" fill="#deae9f"/>
<rect x="489.85" y="464.10" width="6.57" height="14.79" fill="#d58f78"/>
<rect x="496.18" y="464.10" width="6.57" height="14.79" fill="#d58f78"/>
<rect x="502.50" y="464.10" width="6.57" height="14.79" fill="#cc6d51"/>
<rect x="508.82" y="464.10" width="6.57" height="14.79" fill="#cc6d51"/>
<rect x="515.15" y="464.10" width="6.57" height="14.79" fill="#d58f78"/>
<rect x="521.47" y="464.10" width="6.57" height="14.79" fill="#cc6d51"/>
<rect x="527.80" y="464.10" width="6.57" height="14.79" fill="#ae252a"/>
<rect x="534.12" y="464.10" width="6.57" height="14.79" fill="#d58f78"/>
<rect x="540.44" y="464.10" width="6.57" height="14.79" fill="#c34e31"/>
<rect x="546.77" y="464.10" width="6.57" height="14.79" fill="#c34e31"/>
<rect x="553.09" y="464.10" width="6.57" height="14.79" fill="#cc6d51"/>
<rect x="559.41" y="464.10" width="6.57" height="14.79" fill="#3c0912"/>
<rect x="565.74" y="464.10" width="6.57" height="14.79" fill="#650f26"/>
<rect x="572.06" y="464.10" width="6.57" height="14.79" fill="#cc6d51"/>
<rect x="578.39" y="464.10" width="6.57" height="14.79" fill="#ae252a"/>
<rect x="584.71" y="464.10" width="6.57" height="14.79" fill="#ae252a"/>
<rect x="591.03" y="464.10" width="6.57" height="14.79" fill="#3c0912"/>
<rect x="597.36" y="464.10" width="6.57" height="14.79" fill="#8c1030"/>
<rect x="603.68" y="464.10" width="6.57" height="14.79" fill="#8c1030"/>
<rect x="610.00" y="464.10" width="6.57" height="14.79" fill="#ae252a"/>
<rect x="616.33" y="464.10" width="6.57" height="14.79" fill="#650f26"/>
<rect x="622.65" y="464.10" width="6.57" height="14.79" fill="#8c1030"/>
<rect x="628.98" y="464.10" width="6.32" height="14.79" fill="#3c0912"/>
<rect x="369.70" y="478.64" width="6.57" height="14.79" fill="#d58f78"/>
<rect x="376.02" y="478.64" width="6.57" height="14.79" fill="#deae9f"/>
<rect x="382.35" y="478.64" width="6.57" height="14.79" fill="#deae9f"/>
<rect x="388.67" y="478.64" width="6.57" height="14.79" fill="#deae9f"/>
<rect x="395.00" y="478.64" width="6.57" height="14.79" fill="#e7cdc6"/>
<rect x="401.32" y="478.64" width="6.57" height="14.79" fill="#e7cdc6"/>
<rect x="407.64" y="478.64" width="6.57" height="14.79" fill="#deae9f"/>
<rect x="413.97" y="478.64" width="6.57" height="14.79" fill="#deae9f"/>
<rect x="420.29" y="478.64" width="6.57" height="14.79" fill="#cc6d51"/>
<rect x="426.61" y="478.64" width="6.57" height="14.79" fill="#deae9f"/>
<rect x="432.94" y="478.64" width="6.57" height="14.79" fill="#deae9f"/>
<rect x="439.26" y="478.64" width="6.57" height="14.79" fill="#deae9f"/>
<rect x="445.59" y="478.64" width="6.57" height="14.79" fill="#e7cdc6"/>
<rect x="451.91" y="478.64" width="6.57" height="14.79" fill="#deae9f"/>
<rect x="458.23" y="478.64" width="6.57" height="14.79" fill="#deae9f"/>
<rect x="464.56" y="478.64" width="6.57" height="14.79" fill="#e7cdc6"/>
<rect x="470.88" y="478.64" width="6.57" height="14.79" fill="#d58f78"/>
<rect x="477.20" y="478.64" width="6.57" height="14.79" fill="#e7cdc6"/>
<rect x="483.53" y="478.64" width="6.57" height="14.79" fill="#deae9f"/>
<rect x="489.85" y="478.64" width="6.57" height="14.79" fill="#cc6d51"/>
<rect x="496.18" y="478.64" width="6.57" height="14.79" fill="#d58f78"/>
<rect x="502.50" y="478.64" width="6.57" height="14.79" fill="#cc6d51"/>
<rect x="508.82" y="478.64" width="6.57" height="14.79" fill="#d58f78"/>
<rect x="515.15" y="478.64" width="6.57" height="14.79" fill="#cc6d51"/>
<rect x="521.47" y="478.64" width="6.57" height="14.79" fill="#cc6d51"/>
<rect x="527.80" y="478.64" width="6.57" height="14.79" fill="#c34e31"/>
<rect x="534.12" y="478.64" width="6.57" height="14.79" fill="#d58f78"/>
<rect x="540.44" y="478.64" width="6.57" height="14.79" fill="#c34e31"/>
<rect x="546.77" y="478.64" width="6.57" height="14.79" fill="#c34e31"/>
<rect x="553.09" y="478.64" width="6.57" height="14.79" fill="#cc6d51"/>
<rect x="559.41" y="478.64" width="6.57" height="14.79" fill="#650f26"/>
<rect x="565.74" y="478.64" width="6.57" height="14.79" fill="#8c1030"/>
<rect x="572.06" y="478.64" width="6.57" height="14.79" fill="#cc6d51"/>
<rect x="578.39" y="478.64" width="6.57" height="14.79" fill="#ae252a"/>
<rect x="584.71" y="478.64" width="6.57" height="14.79" fill="#ae252a"/>
<rect x="591.03" y="478.64" width="6.57" height="14.79" fill="#3c0912"/>
<rect x="597.36" y="478.64" width="6.57" height="14.79" fill="#8c1030"/>
<rect x="603.68" y="478.64" width="6.57" height="14.79" fill="#ae252a"/>
<rect x="610.00" y="478.64" width="6.57" height="14.79" fill="#ae252a"/>
<rect x="616.33" y="478.64" width="6.57" height="14.79" fill="#650f26"/>
<rect x="622.65" y="478.64" width="6.57" height="14.79" fill="#8c1030"/>
<rect x="628.98" y="478.64" width="6.32" height="14.79" fill="#3c0912"/>
<rect x="369.70" y="493.18" width="6.57" height="14.79" fill="#d58f78"/>
<rect x="376.02" y="493.18" width="6.57" height="14.79" fill="#d58f78"/>
<rect x="382.35" y="493.18" width="6.57" height="14.79" fill="#deae9f"/>
<rect x="388.67" y="493.18" width="6.57" height="14.79" fill="#deae9f"/>
<rect x="395.00" y="493.18" width="6.57" height="14.79" fill="#e7cdc6"/>
<rect x="401.32" y="493.18" width="6.57" height="14.79" fill="#e7cdc6"/>
<rect x="407.64" y="493.18" width="6.57" height="14.79" fill="#deae9f"/>
<rect x="413.97" y="493.18" width="6.57" height="14.79" fill="#deae9f"/>
<rect x="420.29" y="493.18" width="6.57" height="14.79" fill="#d58f78"/>
<rect x="426.61" y="493.18" width="6.57" height="14.79" fill="#deae9f"/>
<rect x="432.94" y="493.18" width="6.57" height="14.79" fill="#deae9f"/>
<rect x="439.26" y="493.18" width="6.57" height="14.79" fill="#d58f78"/>
<rect x="445.59" y="493.18" width="6.57" height="14.79" fill="#e7cdc6"/>
<rect x="451.91" y="493.18" width="6.57" height="14.79" fill="#deae9f"/>
<rect x="458.23" y="493.18" width="6.57" height="14.79" fill="#deae9f"/>
<rect x="464.56" y="493.18" width="6.57" height="14.79" fill="#e7cdc6"/>
<rect x="470.88" y="493.18" width="6.57" height="14.79" fill="#cc6d51"/>
<rect x="477.20" y="493.18" width="6.57" height="14.79" fill="#deae9f"/>
<rect x="483.53" y="493.18" width="6.57" height="14.79" fill="#deae9f"/>
<rect x="489.85" y="493.18" width="6.57" height="14.79" fill="#cc6d51"/>
<rect x="496.18" y="493.18" width="6.57" height="14.79" fill="#cc6d51"/>
<rect x="502.50" y="493.18" width="6.57" height="14.79" fill="#cc6d51"/>
<rect x="508.82" y="493.18" width="6.57" height="14.79" fill="#cc6d51"/>
<rect x="515.15" y="493.18" width="6.57" height="14.79" fill="#cc6d51"/>
<rect x="521.47" y="493.18" width="6.57" height="14.79" fill="#cc6d51"/>
<rect x="527.80" y="493.18" width="6.57" height="14.79" fill="#cc6d51"/>
<rect x="534.12" y="493.18" width="6.57" height="14.79" fill="#d58f78"/>
<rect x="540.44" y="493.18" width="6.57" height="14.79" fill="#c34e31"/>
<rect x="546.77" y="493.18" width="6.57" height="14.79" fill="#c34e31"/>
<rect x="553.09" y="493.18" width="6.57" height="14.79" fill="#cc6d51"/>
<rect x="559.41" y="493.18" width="6.57" height="14.79" fill="#650f26"/>
<rect x="565.74" y="493.18" width="6.57" height="14.79" fill="#8c1030"/>
<rect x="572.06" y="493.18" width="6.57" height="14.79" fill="#cc6d51"/>
<rect x="578.39" y="493.18" width="6.57" height="14.79" fill="#ae252a"/>
<rect x="584.71" y="493.18" width="6.57" height="14.79" fill="#ae252a"/>
<rect x="591.03" y="493.18" width="6.57" height="14.79" fill="#3c0912"/>
<rect x="597.36" y="493.18" width="6.57" height="14.79" fill="#8c1030"/>
<rect x="603.68" y="493.18" width="6.57" height="14.79" fill="#ae252a"/>
<rect x="610.00" y="493.18" width="6.57" height="14.79" fill="#8c1030"/>
<rect x="616.33" y="493.18" width="6.57" height="14.79" fill="#650f26"/>
<rect x="622.65" y="493.18" width="6.57" height="14.79" fill="#ae252a"/>
<rect x="628.98" y="493.18" width="6.32" height="14.79" fill="#3c0912"/>
<rect x="369.70" y="507.72" width="6.57" height="14.79" fill="#cc6d51"/>
<rect x="376.02" y="507.72" width="6.57" height="14.79" fill="#d58f78"/>
<rect x="382.35" y="507.72" width="6.57" height="14.79" fill="#d58f78"/>
<rect x="388.67" y="507.72" width="6.57" height="14.79" fill="#d58f78"/>
<rect x="395.00" y="507.72" width="6.57" height="14.79" fill="#deae9f"/>
<rect x="401.32" y="507.72" width="6.57" height="14.79" fill="#d58f78"/>
<rect x="407.64" y="507.72" width="6.57" height="14.79" fill="#d58f78"/>
<rect x="413.97" y="507.72" width="6.57" height="14.79" fill="#d58f78"/>
<rect x="420.29" y="507.72" width="6.57" height="14.79" fill="#cc6d51"/>
<rect x="426.61" y="507.72" width="6.57" height="14.79" fill="#d58f78"/>
<rect x="432.94" y="507.72" width="6.57" height="14.79" fill="#d58f78"/>
<rect x="439.26" y="507.72" width="6.57" height="14.79" fill="#cc6d51"/>
<rect x="445.59" y="507.72" width="6.57" height="14.79" fill="#deae9f"/>
<rect x="451.91" y="507.72" width="6.57" height="14.79" fill="#d58f78"/>
<rect x="458.23" y="507.72" width="6.57" height="14.79" fill="#d58f78"/>
<rect x="464.56" y="507.72" width="6.57" height="14.79" fill="#deae9f"/>
<rect x="470.88" y="507.72" width="6.57" height="14.79" fill="#cc6d51"/>
<rect x="477.20" y="507.72" width="6.57" height="14.79" fill="#deae9f"/>
<rect x="483.53" y="507.72" width="6.57" height="14.79" fill="#d58f78"/>
<rect x="489.85" y="507.72" width="6.57" height="14.79" fill="#cc6d51"/>
<rect x="496.18" y="507.72" width="6.57" height="14.79" fill="#cc6d51"/>
<rect x="502.50" y="507.72" width="6.57" height="14.79" fill="#ae252a"/>
<rect x="508.82" y="507.72" width="6.57" height="14.79" fill="#c34e31"/>
<rect x="515.15" y="507.72" width="6.57" height="14.79" fill="#c34e31"/>
<rect x="521.47" y="507.72" width="6.57" height="14.79" fill="#ae252a"/>
<rect x="527.80" y="507.72" width="6.57" height="14.79" fill="#cc6d51"/>
<rect x="534.12" y="507.72" width="6.57" height="14.79" fill="#c34e31"/>
<rect x="540.44" y="507.72" width="6.57" height="14.79" fill="#c34e31"/>
<rect x="546.77" y="507.72" width="6.57" height="14.79" fill="#c34e31"/>
<rect x="553.09" y="507.72" width="6.57" height="14.79" fill="#c34e31"/>
<rect x="559.41" y="507.72" width="6.57" height="14.79" fill="#650f26"/>
<rect x="565.74" y="507.72" width="6.57" height="14.79" fill="#8c1030"/>
<rect x="572.06" y="507.72" width="6.57" height="14.79" fill="#ae252a"/>
<rect x="578.39" y="507.72" width="6.57" height="14.79" fill="#8c1030"/>
<rect x="584.71" y="507.72" width="6.57" height="14.79" fill="#8c1030"/>
<rect x="591.03" y="507.72" width="6.57" height="14.79" fill="#3c0912"/>
<rect x="597.36" y="507.72" width="6.57" height="14.79" fill="#8c1030"/>
<rect x="603.68" y="507.72" width="6.57" height="14.79" fill="#8c1030"/>
<rect x="610.00" y="507.72" width="6.57" height="14.79" fill="#650f26"/>
<rect x="616.33" y="507.72" width="6.57" height="14.79" fill="#3c0912"/>
<rect x="622.65" y="507.72" width="6.57" height="14.79" fill="#8c1030"/>
<rect x="628.98" y="507.72" width="6.32" height="14.79" fill="#3c0912"/>
<rect x="369.70" y="522.26" width="6.57" height="14.54" fill="#c34e31"/>
<rect x="376.02" y="522.26" width="6.57" height="14.54" fill="#cc6d51"/>
<rect x="382.35" y="522.26" width="6.57" height="14.54" fill="#cc6d51"/>
<rect x="388.67" y="522.26" width="6.57" height="14.54" fill="#cc6d51"/>
<rect x="395.00" y="522.26" width="6.57" height="14.54" fill="#d58f78"/>
<rect x="401.32" y="522.26" width="6.57" height="14.54" fill="#cc6d51"/>
<rect x="407.64" y="522.26" width="6.57" height="14.54" fill="#c34e31"/>
<rect x="413.97" y="522.26" width="6.57" height="14.54" fill="#cc6d51"/>
<rect x="420.29" y="522.26" width="6.57" height="14.54" fill="#c34e31"/>
<rect x="426.61" y="522.26" width="6.57" height="14.54" fill="#cc6d51"/>
<rect x="432.94" y="522.26" width="6.57" height="14.54" fill="#cc6d51"/>
<rect x="439.26" y="522.26" width="6.57" height="14.54" fill="#cc6d51"/>
<rect x="445.59" y="522.26" width="6.57" height="14.54" fill="#d58f78"/>
<rect x="451.91" y="522.26" width="6.57" height="14.54" fill="#cc6d51"/>
<rect x="458.23" y="522.26" width="6.57" height="14.54" fill="#cc6d51"/>
<rect x="464.56" y="522.26" width="6.57" height="14.54" fill="#d58f78"/>
<rect x="470.88" y="522.26" width="6.57" height="14.54" fill="#c34e31"/>
<rect x="477.20" y="522.26" width="6.57" height="14.54" fill="#d58f78"/>
<rect x="483.53" y="522.26" width="6.57" height="14.54" fill="#cc6d51"/>
<rect x="489.85" y="522.26" width="6.57" height="14.54" fill="#c34e31"/>
<rect x="496.18" y="522.26" width="6.57" height="14.54" fill="#c34e31"/>
<rect x="502.50" y="522.26" width="6.57" height="14.54" fill="#8c1030"/>
<rect x="508.82" y="522.26" width="6.57" height="14.54" fill="#ae252a"/>
<rect x="515.15" y="522.26" width="6.57" height="14.54" fill="#c34e31"/>
<rect x="521.47" y="522.26" width="6.57" height="14.54" fill="#8c1030"/>
<rect x="527.80" y="522.26" width="6.57" height="14.54" fill="#c34e31"/>
<rect x="534.12" y="522.26" width="6.57" height="14.54" fill="#ae252a"/>
<rect x="540.44" y="522.26" width="6.57" height="14.54" fill="#ae252a"/>
<rect x="546.77" y="522.26" width="6.57" height="14.54" fill="#ae252a"/>
<rect x="553.09" y="522.26" width="6.57" height="14.54" fill="#ae252a"/>
<rect x="559.41" y="522.26" width="6.57" height="14.54" fill="#3c0912"/>
<rect x="565.74" y="522.26" width="6.57" height="14.54" fill="#650f26"/>
<rect x="572.06" y="522.26" width="6.57" height="14.54" fill="#8c1030"/>
<rect x="578.39" y="522.26" width="6.57" height="14.54" fill="#650f26"/>
<rect x="584.71" y="522.26" width="6.57" height="14.54" fill="#650f26"/>
<rect x="591.03" y="522.26" width="6.57" height="14.54" fill="#3c0912"/>
<rect x="597.36" y="522.26" width="6.57" height="14.54" fill="#650f26"/>
<rect x="603.68" y="522.26" width="6.57" height="14.54" fill="#650f26"/>
<rect x="610.00" y="522.26" width="6.57" height="14.54" fill="#3c0912"/>
<rect x="616.33" y="522.26" width="6.57" height="14.54" fill="#3c0912"/>
<rect x="622.65" y="522.26" width="6.57" height="14.54" fill="#650f26"/>
<rect x="628.98" y="522.26" width="6.32" height="14.54" fill="#3c0912"/>
</g>
<path d="M369.80 391.40V536.80M376.12 391.40V536.80M382.45 391.40V536.80M388.77 391.40V536.80M395.10 391.40V536.80M401.42 391.40V536.80M407.74 391.40V536.80M414.07 391.40V536.80M420.39 391.40V536.80M426.71 391.40V536.80M433.04 391.40V536.80M439.36 391.40V536.80M445.69 391.40V536.80M452.01 391.40V536.80M458.33 391.40V536.80M464.66 391.40V536.80M470.98 391.40V536.80M477.30 391.40V536.80M483.63 391.40V536.80M489.95 391.40V536.80M496.28 391.40V536.80M502.60 391.40V536.80M508.92 391.40V536.80M515.25 391.40V536.80M521.57 391.40V536.80M527.90 391.40V536.80M534.22 391.40V536.80M540.54 391.40V536.80M546.87 391.40V536.80M553.19 391.40V536.80M559.51 391.40V536.80M565.84 391.40V536.80M572.16 391.40V536.80M578.49 391.40V536.80M584.81 391.40V536.80M591.13 391.40V536.80M597.46 391.40V536.80M603.78 391.40V536.80M610.10 391.40V536.80M616.43 391.40V536.80M622.75 391.40V536.80M629.08 391.40V536.80M369.70 406.29H635.30M369.70 420.83H635.30M369.70 435.37H635.30M369.70 449.91H635.30M369.70 464.45H635.30M369.70 478.99H635.30M369.70 493.53H635.30M369.70 508.07H635.30M369.70 522.61H635.30M369.70 536.80H635.30" stroke="#000" stroke-opacity="0.84" stroke-width="0.66" fill="none"/>
<path d="M369.70 391.40H635.30V536.80" stroke="#000" stroke-opacity="0.6" stroke-width="0.55" fill="none"/>
<text x="366.20" y="394.20" font-size="8.4" text-anchor="end" >0</text>
<text x="366.00" y="423.28" font-size="8.4" text-anchor="end" letter-spacing="-0.2"><tspan font-size="5.9" dy="-0.5" letter-spacing="0.5">−</tspan><tspan dy="0.5">2</tspan></text>
<text x="366.00" y="452.36" font-size="8.4" text-anchor="end" letter-spacing="-0.2"><tspan font-size="5.9" dy="-0.5" letter-spacing="0.5">−</tspan><tspan dy="0.5">4</tspan></text>
<text x="366.00" y="481.44" font-size="8.4" text-anchor="end" letter-spacing="-0.2"><tspan font-size="5.9" dy="-0.5" letter-spacing="0.5">−</tspan><tspan dy="0.5">6</tspan></text>
<text x="366.00" y="510.52" font-size="8.4" text-anchor="end" letter-spacing="-0.2"><tspan font-size="5.9" dy="-0.5" letter-spacing="0.5">−</tspan><tspan dy="0.5">8</tspan></text>
<text x="365.40" y="539.60" font-size="8.4" text-anchor="end" letter-spacing="-0.8"><tspan font-size="5.9" dy="-0.5" letter-spacing="0.5">−</tspan><tspan dy="0.5">10</tspan></text>
<text x="432.64" y="546.00" font-size="8.4" text-anchor="middle" letter-spacing="-0.6">1990</text>
<text x="496.18" y="546.00" font-size="8.4" text-anchor="middle" >2000</text>
<text x="559.29" y="546.00" font-size="8.4" text-anchor="middle" letter-spacing="-0.25">2010</text>
<text x="622.65" y="546.00" font-size="8.4" text-anchor="middle" >2020</text>
<text x="502.50" y="558.60" font-size="8.9" text-anchor="middle" font-weight="normal" >Year</text>
<text class="pl" transform="translate(369.60,385.70) scale(1.0,1)" font-size="12.5" font-weight="bold">h</text>
<rect x="641.7" y="513.41" width="11.1" height="11.59" fill="#f1edec"/>
<rect x="641.7" y="501.82" width="11.1" height="11.89" fill="#e7cdc6"/>
<rect x="641.7" y="490.23" width="11.1" height="11.89" fill="#deae9f"/>
<rect x="641.7" y="478.64" width="11.1" height="11.89" fill="#d58f78"/>
<rect x="641.7" y="467.05" width="11.1" height="11.89" fill="#cc6d51"/>
<rect x="641.7" y="455.46" width="11.1" height="11.89" fill="#c34e31"/>
<rect x="641.7" y="443.87" width="11.1" height="11.89" fill="#ae252a"/>
<rect x="641.7" y="432.28" width="11.1" height="11.89" fill="#8c1030"/>
<rect x="641.7" y="420.69" width="11.1" height="11.89" fill="#650f26"/>
<rect x="641.7" y="409.10" width="11.1" height="11.89" fill="#3c0912"/>
<rect x="641.7" y="409.1" width="11.1" height="115.9" fill="none" stroke="#333" stroke-width="0.55"/>
<line x1="651.5" y1="525.0" x2="652.8" y2="525.0" stroke="#444" stroke-width="0.5"/>
<text x="655.70" y="528.00" font-size="8.4" text-anchor="start" letter-spacing="-0.8">10</text>
<line x1="651.5" y1="488.9" x2="652.8" y2="488.9" stroke="#444" stroke-width="0.5"/>
<text x="655.70" y="491.89" font-size="8.4" text-anchor="start" letter-spacing="-0.2">20</text>
<line x1="651.5" y1="452.8" x2="652.8" y2="452.8" stroke="#444" stroke-width="0.5"/>
<text x="655.70" y="455.79" font-size="8.4" text-anchor="start" letter-spacing="-0.2">30</text>
<line x1="651.5" y1="416.7" x2="652.8" y2="416.7" stroke="#444" stroke-width="0.5"/>
<text x="655.70" y="419.68" font-size="8.4" text-anchor="start" letter-spacing="-0.2">40</text>
<text transform="translate(670.9,467.6) rotate(90)" font-size="8.9" text-anchor="middle" letter-spacing="0">Cumulative intensity (°C days)</text>
</g>
</svg></body></html>
